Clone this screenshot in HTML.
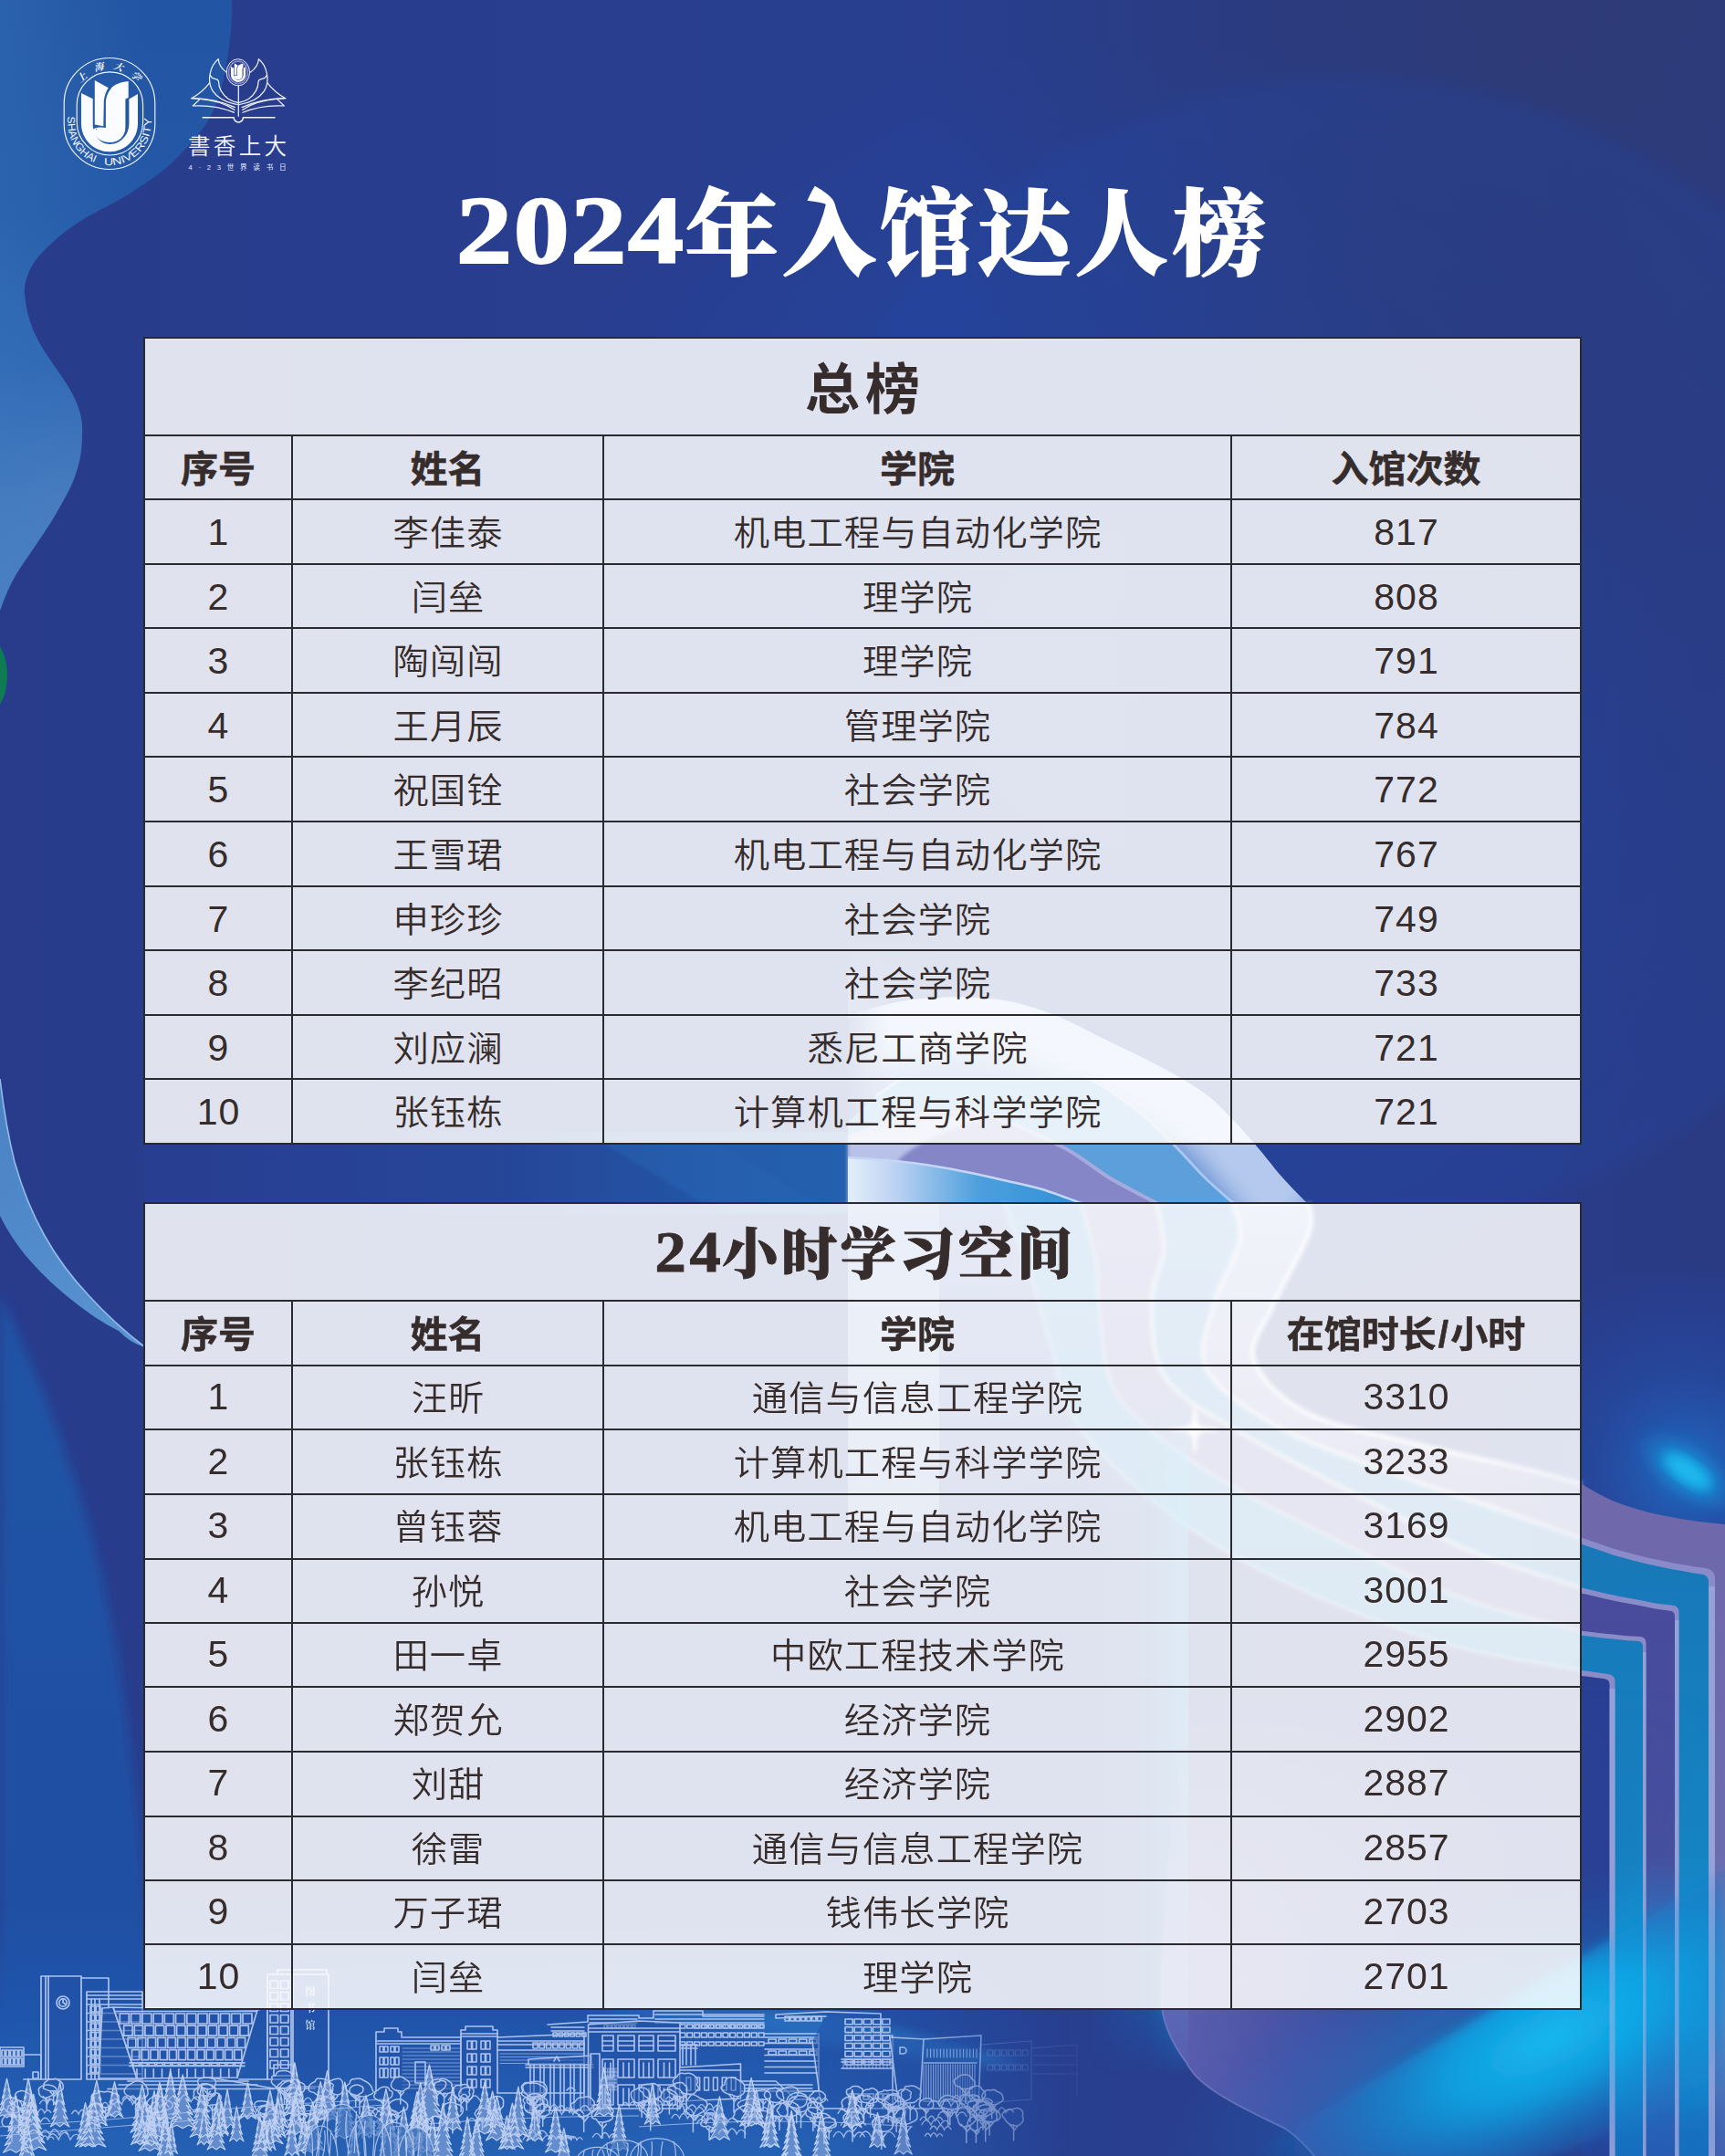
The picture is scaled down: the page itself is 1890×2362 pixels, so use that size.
<!DOCTYPE html>
<html lang="zh-CN">
<head>
<meta charset="utf-8">
<title>2024年入馆达人榜</title>
<style>
html,body{margin:0;padding:0;background:#283e8e;}
body{width:1890px;height:2362px;overflow:hidden;}
#poster{position:relative;width:1890px;height:2362px;overflow:hidden;background:#283e8e;
  font-family:"Liberation Sans","Noto Sans CJK SC",sans-serif;color:#352c2b;}
#poster>svg.bg{position:absolute;left:0;top:0;}
.title{position:absolute;left:0;top:178px;width:1890px;margin:0;text-align:center;color:#fff;
  font-family:"Liberation Serif","Noto Serif CJK SC",serif;font-weight:900;font-size:102px;line-height:160px;
  letter-spacing:4.8px;white-space:nowrap;-webkit-text-stroke:1.8px #fff;}
.title .dg{display:inline-block;font-size:1.03em;transform:scaleX(1.17);margin:0 20px 0 18px;letter-spacing:1px;position:relative;left:1.5px;top:-5px;}
.tbl{position:absolute;background:rgba(255,255,255,.855);}
.trow{position:absolute;left:0;width:100%;text-align:center;white-space:nowrap;}
.tt1{font-weight:700;font-size:60px;letter-spacing:6px;text-indent:6px;padding-top:4px;}
.tt2{font-family:"Liberation Serif","Noto Serif CJK SC",serif;font-weight:900;font-size:61px;letter-spacing:3.6px;padding-top:3px;-webkit-text-stroke:.9px #352c2b;}
.tt2 .dg{display:inline-block;font-size:1.05em;transform:scaleX(1.07);margin:0 5px 0 4px;position:relative;left:5px;top:-3px;}
.cell{position:absolute;text-align:center;white-space:nowrap;}
.td{font-size:38px;font-weight:350;letter-spacing:1px;text-indent:1px;transform:translateY(2px) scaleX(1.035);}
.td.num{font-size:41px;font-weight:400;letter-spacing:1px;text-indent:1px;transform:translateY(.8px);}
.tt2w .td{transform:translateY(.5px) scaleX(1.035);}
.tt2w .td.num{transform:translateY(-.7px);}
.th{font-size:40px;font-weight:700;-webkit-text-stroke:.5px #352c2b;transform:translateY(1.5px) scaleX(1.025);}
.hl{position:absolute;left:0;width:100%;height:2px;background:#2a2b30;}
.vl{position:absolute;width:2px;background:#2a2b30;}
.ob{position:absolute;left:-1px;top:-1px;right:-1px;bottom:-1px;border:2px solid #2a2b30;}
.sl{margin:0 2px;}

</style>
</head>
<body>
<div id="poster">
<svg class="bg" width="1890" height="2362" viewBox="0 0 1890 2362">
<defs>
  <linearGradient id="gBase" x1="0" y1="0" x2="1" y2="0">
    <stop offset="0" stop-color="#293c8c"/><stop offset=".55" stop-color="#283f90"/><stop offset="1" stop-color="#2a3c88"/>
  </linearGradient>
  <radialGradient id="gDome" cx="1230" cy="760" r="720" gradientUnits="userSpaceOnUse">
    <stop offset="0" stop-color="#2146a2" stop-opacity=".55"/><stop offset=".7" stop-color="#2245a0" stop-opacity=".4"/><stop offset="1" stop-color="#2344a0" stop-opacity="0"/>
  </radialGradient>
  <radialGradient id="gTR" cx="1890" cy="0" r="900" gradientUnits="userSpaceOnUse">
    <stop offset="0" stop-color="#2f3a70" stop-opacity=".95"/><stop offset=".55" stop-color="#2d3a76" stop-opacity=".6"/><stop offset="1" stop-color="#2c3a7c" stop-opacity="0"/>
  </radialGradient>
  <linearGradient id="gWave" x1="0" y1="0" x2="0" y2="670" gradientUnits="userSpaceOnUse">
    <stop offset="0" stop-color="#2255a3"/><stop offset=".35" stop-color="#2459a7"/><stop offset=".6" stop-color="#3067b2"/><stop offset=".82" stop-color="#4a7ebf"/><stop offset="1" stop-color="#4f84c4"/>
  </linearGradient>
  <linearGradient id="gWaveX" x1="0" y1="0" x2="260" y2="0" gradientUnits="userSpaceOnUse">
    <stop offset="0" stop-color="#3a78c0" stop-opacity=".35"/><stop offset=".6" stop-color="#3a78c0" stop-opacity="0"/><stop offset="1" stop-color="#3a78c0" stop-opacity="0"/>
  </linearGradient>
  <linearGradient id="gBlade" x1="0" y1="1200" x2="160" y2="1480" gradientUnits="userSpaceOnUse">
    <stop offset="0" stop-color="#4a82c4"/><stop offset="1" stop-color="#5a94d2"/>
  </linearGradient>
  <linearGradient id="gLL" x1="0" y1="1400" x2="0" y2="2362" gradientUnits="userSpaceOnUse">
    <stop offset="0" stop-color="#1d56a8" stop-opacity=".9"/><stop offset="1" stop-color="#1f4fa4" stop-opacity=".9"/>
  </linearGradient>
  <linearGradient id="gBeamV" x1="929" y1="0" x2="1060" y2="0" gradientUnits="userSpaceOnUse">
    <stop offset="0" stop-color="#dfeaf8" stop-opacity=".95"/><stop offset="1" stop-color="#c0d0ee" stop-opacity="0"/>
  </linearGradient>
  <linearGradient id="gStripeBlue" x1="0" y1="1700" x2="0" y2="2362" gradientUnits="userSpaceOnUse">
    <stop offset="0" stop-color="#1878b8"/><stop offset=".5" stop-color="#1583c2"/><stop offset=".78" stop-color="#12a6e2"/><stop offset="1" stop-color="#1572c0"/>
  </linearGradient>
  <linearGradient id="gStripePur" x1="0" y1="1700" x2="0" y2="2362" gradientUnits="userSpaceOnUse">
    <stop offset="0" stop-color="#4a4a9c"/><stop offset=".5" stop-color="#45509f"/><stop offset=".78" stop-color="#2b86cf"/><stop offset="1" stop-color="#2a5cb2"/>
  </linearGradient>
  <linearGradient id="gStripeOut" x1="0" y1="1620" x2="0" y2="2362" gradientUnits="userSpaceOnUse">
    <stop offset="0" stop-color="#7068ab"/><stop offset=".55" stop-color="#6a6cae"/><stop offset=".8" stop-color="#5a8cc8"/><stop offset="1" stop-color="#4a62ae"/>
  </linearGradient>
  <radialGradient id="gCyan" cx=".5" cy=".5" r=".5" gradientUnits="objectBoundingBox">
    <stop offset="0" stop-color="#19b6ee"/><stop offset=".35" stop-color="#0f9fe0" stop-opacity=".85"/><stop offset="1" stop-color="#1e6fc4" stop-opacity="0"/>
  </radialGradient>
  <radialGradient id="gGlowBig" cx="1850" cy="1610" r="230" gradientUnits="userSpaceOnUse">
    <stop offset="0" stop-color="#1c78d0" stop-opacity=".8"/><stop offset=".45" stop-color="#2058b8" stop-opacity=".4"/><stop offset="1" stop-color="#2246a4" stop-opacity="0"/>
  </radialGradient>
  <radialGradient id="gBR" cx="1660" cy="2235" r="420" gradientUnits="userSpaceOnUse" gradientTransform="translate(1660 2235) rotate(-22) scale(1 .38) translate(-1660 -2235)">
    <stop offset="0" stop-color="#12b0ea"/><stop offset=".4" stop-color="#0e9ade" stop-opacity=".85"/><stop offset="1" stop-color="#1b62bc" stop-opacity="0"/>
  </radialGradient>
  <linearGradient id="gLav" x1="1272" y1="2200" x2="1700" y2="2362" gradientUnits="userSpaceOnUse">
    <stop offset="0" stop-color="#6c68b8" stop-opacity=".95"/><stop offset=".45" stop-color="#4e56ac" stop-opacity=".7"/><stop offset="1" stop-color="#2e4aa0" stop-opacity="0"/>
  </linearGradient>
  <filter id="b2" x="-10%" y="-10%" width="120%" height="120%"><feGaussianBlur stdDeviation="2"/></filter>
  <filter id="b6" x="-20%" y="-20%" width="140%" height="140%"><feGaussianBlur stdDeviation="6"/></filter>
  <filter id="b14" x="-30%" y="-30%" width="160%" height="160%"><feGaussianBlur stdDeviation="14"/></filter>
  <filter id="b30" x="-40%" y="-40%" width="180%" height="180%"><feGaussianBlur stdDeviation="30"/></filter>
  <clipPath id="cAboveT2"><rect x="0" y="0" width="1890" height="1320"/></clipPath>
  <clipPath id="cRightOfTable"><rect x="1733" y="1400" width="157" height="962"/></clipPath>
</defs>

<!-- base -->
<rect width="1890" height="2362" fill="url(#gBase)"/>
<rect width="1890" height="2362" fill="url(#gDome)"/>
<rect width="1890" height="2362" fill="url(#gTR)"/>
<linearGradient id="gRightDark" x1="1650" y1="0" x2="1890" y2="0" gradientUnits="userSpaceOnUse"><stop offset="0" stop-color="#2b3a80" stop-opacity="0"/><stop offset="1" stop-color="#2b3a80" stop-opacity=".55"/></linearGradient>
<rect x="1650" y="0" width="240" height="1400" fill="url(#gRightDark)"/>
<!-- domeCircle : large soft-edged lighter disc -->
<radialGradient id="gDisc" cx="1481" cy="717" r="645" gradientUnits="userSpaceOnUse"><stop offset="0" stop-color="#2247a4" stop-opacity=".0"/><stop offset=".6" stop-color="#2247a4" stop-opacity=".12"/><stop offset=".96" stop-color="#2346a0" stop-opacity=".3"/><stop offset="1" stop-color="#2346a0" stop-opacity="0"/></radialGradient>
<circle cx="1481" cy="717" r="645" fill="url(#gDisc)"/>

<!-- upper-left wave -->
<path id="wave" d="M0 0H254C255 30 250 66 243 95C236 122 226 138 213 152C198 170 184 184 163 198C146 210 128 221 106 232C88 241 72 252 57 266C45 277 37 286 32 297C28 306 26 314 27 323C28 336 31 348 36 361C43 377 52 390 61 403C70 416 77 426 82 437C88 450 91 462 90 475C90 488 89 500 85 513C81 527 75 539 68 551C60 566 51 580 42 593C34 605 26 616 19 627C11 640 5 654 0 669Z" fill="url(#gWave)"/>
<path d="M0 0H254C255 30 250 66 243 95C236 122 226 138 213 152C198 170 184 184 163 198C146 210 128 221 106 232C88 241 72 252 57 266C45 277 37 286 32 297C28 306 26 314 27 323C28 336 31 348 36 361C43 377 52 390 61 403C70 416 77 426 82 437C88 450 91 462 90 475C90 488 89 500 85 513C81 527 75 539 68 551C60 566 51 580 42 593C34 605 26 616 19 627C11 640 5 654 0 669Z" fill="url(#gWaveX)"/>

<!-- green blob at left edge -->
<ellipse cx="-22" cy="740" rx="30" ry="47" fill="#0e7c52"/>

<!-- lower-left lighter zone -->
<path d="M0 1420C40 1500 80 1600 110 1720C135 1830 150 1960 160 2100C165 2200 168 2290 170 2362H0Z" fill="url(#gLL)" filter="url(#b6)"/>
<!-- blade -->
<path d="M0 1182C4 1215 9 1245 16 1273C25 1305 36 1331 49 1354C63 1379 79 1400 97 1419C116 1440 137 1459 159 1476C146 1472 137 1465 130 1458C112 1449 96 1438 81 1426C63 1412 47 1397 32 1380C20 1366 9 1350 0 1332Z" fill="url(#gBlade)"/>
<path d="M0 1182C4 1215 9 1245 16 1273C25 1305 36 1331 49 1354C63 1379 79 1400 97 1419C116 1440 137 1459 159 1476" fill="none" stroke="#9cc4ee" stroke-width="1.6" opacity=".9"/>

<!-- brighter blue band along the bottom -->
<linearGradient id="gBottom" x1="0" y1="2080" x2="0" y2="2362" gradientUnits="userSpaceOnUse"><stop offset="0" stop-color="#1f58ae" stop-opacity="0"/><stop offset=".45" stop-color="#1f58ae" stop-opacity=".85"/><stop offset="1" stop-color="#2563b6" stop-opacity=".95"/></linearGradient>
<linearGradient id="gBottomX" x1="0" y1="0" x2="1890" y2="0" gradientUnits="userSpaceOnUse"><stop offset="0" stop-color="#fff"/><stop offset=".48" stop-color="#fff"/><stop offset=".62" stop-color="#fff" stop-opacity="0"/></linearGradient>
<mask id="mBottom"><rect x="0" y="2050" width="1890" height="312" fill="url(#gBottomX)"/></mask>
<rect x="0" y="2080" width="1890" height="282" fill="url(#gBottom)" mask="url(#mBottom)"/>
<path d="M640 2201L900 2201L1130 2262L1060 2262Z" fill="#2f86d2" opacity=".45" filter="url(#b6)"/>
<!-- ===== spiral / ribbon (generated) ===== -->
<defs>
<linearGradient id="sgAB" x1="0" y1="1318" x2="0" y2="1700" gradientUnits="userSpaceOnUse"><stop offset="0" stop-color="#b7caee"/><stop offset=".5" stop-color="#9a9cd2"/><stop offset="1" stop-color="#7068ab"/></linearGradient>
<linearGradient id="sgBC" x1="0" y1="1318" x2="0" y2="1760" gradientUnits="userSpaceOnUse"><stop offset="0" stop-color="#5c9fdb"/><stop offset="1" stop-color="#1878b8"/></linearGradient>
<linearGradient id="sgCD" x1="0" y1="1318" x2="0" y2="1800" gradientUnits="userSpaceOnUse"><stop offset="0" stop-color="#8486c8"/><stop offset="1" stop-color="#4a4a9c"/></linearGradient>
<linearGradient id="sgDE" x1="0" y1="1318" x2="0" y2="1840" gradientUnits="userSpaceOnUse"><stop offset="0" stop-color="#3d97da"/><stop offset="1" stop-color="#1878b8"/></linearGradient>
<linearGradient id="sgInner" x1="929" y1="0" x2="1190" y2="0" gradientUnits="userSpaceOnUse"><stop offset="0" stop-color="#e4eefb"/><stop offset=".2" stop-color="#bcd2f2"/><stop offset=".55" stop-color="#4d9fdd"/><stop offset="1" stop-color="#2e90d6"/></linearGradient>
<linearGradient id="sgZoneFade" x1="0" y1="1318" x2="0" y2="1680" gradientUnits="userSpaceOnUse"><stop offset="0" stop-color="#4a70c0" stop-opacity=".95"/><stop offset=".6" stop-color="#4567ba" stop-opacity=".7"/><stop offset="1" stop-color="#4567ba" stop-opacity="0"/></linearGradient>
<linearGradient id="sgBeamTop" x1="0" y1="1030" x2="0" y2="1115" gradientUnits="userSpaceOnUse"><stop offset="0" stop-color="#7fa2dc" stop-opacity="0"/><stop offset="1" stop-color="#7fa2dc" stop-opacity=".8"/></linearGradient>
<linearGradient id="sgBeamX" x1="929" y1="0" x2="1030" y2="0" gradientUnits="userSpaceOnUse"><stop offset="0" stop-color="#fff" stop-opacity="1"/><stop offset="1" stop-color="#fff" stop-opacity="0"/></linearGradient>
<linearGradient id="sgCol" x1="1190" y1="0" x2="1302" y2="0" gradientUnits="userSpaceOnUse"><stop offset="0" stop-color="#0a86cc" stop-opacity="0"/><stop offset=".62" stop-color="#0a86cc" stop-opacity=".4"/><stop offset=".86" stop-color="#0f92d6" stop-opacity=".85"/><stop offset="1" stop-color="#14a0e0" stop-opacity=".95"/></linearGradient>
<linearGradient id="sgColY" x1="0" y1="1520" x2="0" y2="2275" gradientUnits="userSpaceOnUse"><stop offset="0" stop-color="#fff" stop-opacity="0"/><stop offset=".12" stop-color="#fff"/><stop offset=".9" stop-color="#fff"/><stop offset="1" stop-color="#fff" stop-opacity="0"/></linearGradient>
<mask id="mCol"><rect x="1150" y="1480" width="200" height="830" fill="url(#sgColY)"/></mask>
<mask id="mBeamX"><rect x="900" y="1000" width="200" height="400" fill="url(#sgBeamX)"/></mask>
<clipPath id="cZone1"><path d="M929.0 1112.0C940.8 1109.2 974.0 1098.0 1000.0 1095.0C1026.0 1092.0 1060.0 1091.5 1085.0 1094.0C1110.0 1096.5 1128.3 1102.2 1150.0 1110.0C1171.7 1117.8 1195.0 1131.3 1215.0 1141.0C1235.0 1150.7 1252.5 1158.5 1270.0 1168.0C1287.5 1177.5 1306.7 1188.3 1320.0 1198.0C1333.3 1207.7 1340.5 1216.3 1350.0 1226.0C1359.5 1235.7 1367.8 1245.3 1377.0 1256.0C1386.2 1266.7 1395.5 1279.3 1405.0 1290.0C1414.5 1300.7 1429.2 1315.0 1434.0 1320.0L1434 1322L929 1322Z"/></clipPath>
<clipPath id="cGapUp"><rect x="900" y="1180" width="700" height="141"/></clipPath>
</defs>
<defs><linearGradient id="sgGapL" x1="158" y1="0" x2="929" y2="0" gradientUnits="userSpaceOnUse"><stop offset="0" stop-color="#2348a0" stop-opacity=".15"/><stop offset=".5" stop-color="#2350a4" stop-opacity=".45"/><stop offset=".8" stop-color="#225aaa" stop-opacity=".85"/><stop offset="1" stop-color="#2462b0" stop-opacity=".9"/></linearGradient></defs>
<rect x="158" y="1240" width="771" height="90" fill="url(#sgGapL)"/>
<path d="M640 1240L772 1240L913 1330L790 1330Z" fill="#2a6cb8" opacity=".4" filter="url(#b2)"/>
<path d="M772 1240L929 1240L929 1330L913 1330Z" fill="#2462b0" opacity=".5"/>
<rect x="929" y="1030" width="90" height="85" fill="url(#sgBeamTop)" mask="url(#mBeamX)" opacity=".6"/>
<defs><linearGradient id="sgZ1L" x1="922" y1="0" x2="975" y2="0" gradientUnits="userSpaceOnUse"><stop offset="0" stop-color="#fff" stop-opacity="0"/><stop offset="1" stop-color="#fff"/></linearGradient><mask id="mZ1"><rect x="900" y="1000" width="700" height="253" fill="url(#sgZ1L)"/><rect x="900" y="1253" width="700" height="80" fill="#fff"/></mask></defs>
<g mask="url(#mZ1)">
<path d="M929.0 1112.0C940.8 1109.2 974.0 1098.0 1000.0 1095.0C1026.0 1092.0 1060.0 1091.5 1085.0 1094.0C1110.0 1096.5 1128.3 1102.2 1150.0 1110.0C1171.7 1117.8 1195.0 1131.3 1215.0 1141.0C1235.0 1150.7 1252.5 1158.5 1270.0 1168.0C1287.5 1177.5 1306.7 1188.3 1320.0 1198.0C1333.3 1207.7 1340.5 1216.3 1350.0 1226.0C1359.5 1235.7 1367.8 1245.3 1377.0 1256.0C1386.2 1266.7 1395.5 1279.3 1405.0 1290.0C1414.5 1300.7 1429.2 1315.0 1434.0 1320.0L1434 1322L929 1322Z" fill="#5f88cf"/>
<g clip-path="url(#cZone1)"><path d="M929.0 1112.0C940.8 1109.2 974.0 1098.0 1000.0 1095.0C1026.0 1092.0 1060.0 1091.5 1085.0 1094.0C1110.0 1096.5 1128.3 1102.2 1150.0 1110.0C1171.7 1117.8 1195.0 1131.3 1215.0 1141.0C1235.0 1150.7 1252.5 1158.5 1270.0 1168.0C1287.5 1177.5 1306.7 1188.3 1320.0 1198.0C1333.3 1207.7 1340.5 1216.3 1350.0 1226.0C1359.5 1235.7 1367.8 1245.3 1377.0 1256.0C1386.2 1266.7 1395.5 1279.3 1405.0 1290.0C1414.5 1300.7 1429.2 1315.0 1434.0 1320.0" fill="none" stroke="#bfd1f1" stroke-width="120" opacity=".9" filter="url(#b14)"/>
<rect x="929" y="1253" width="110" height="80" fill="#dbe7f8" mask="url(#mBeamX)"/></g>
</g>
<g clip-path="url(#cGapUp)">
<path d="M960.0 1200.0C971.7 1193.3 1005.0 1168.0 1030.0 1160.0C1055.0 1152.0 1083.3 1148.7 1110.0 1152.0C1136.7 1155.3 1166.7 1168.7 1190.0 1180.0C1213.3 1191.3 1233.7 1207.3 1250.0 1220.0C1266.3 1232.7 1276.3 1244.3 1288.0 1256.0C1299.7 1267.7 1309.5 1279.7 1320.0 1290.0C1330.5 1300.3 1345.8 1313.3 1351.0 1318.0L1351 1322L929 1322L929 1230Z" fill="#5c9fdb"/>
<path d="M960.0 1200.0C971.7 1193.3 1005.0 1168.0 1030.0 1160.0C1055.0 1152.0 1083.3 1148.7 1110.0 1152.0C1136.7 1155.3 1166.7 1168.7 1190.0 1180.0C1213.3 1191.3 1233.7 1207.3 1250.0 1220.0C1266.3 1232.7 1276.3 1244.3 1288.0 1256.0C1299.7 1267.7 1309.5 1279.7 1320.0 1290.0C1330.5 1300.3 1345.8 1313.3 1351.0 1318.0" fill="none" stroke="#a9c8f0" stroke-width="3"/>
<path d="M929.0 1246.0C940.8 1242.0 974.8 1226.0 1000.0 1222.0C1025.2 1218.0 1052.8 1216.3 1080.0 1222.0C1107.2 1227.7 1140.5 1244.7 1163.0 1256.0C1185.5 1267.3 1197.7 1279.7 1215.0 1290.0C1232.3 1300.3 1258.3 1313.3 1267.0 1318.0L1267 1322L929 1322Z" fill="#8486c8"/>
<path d="M929.0 1246.0C940.8 1242.0 974.8 1226.0 1000.0 1222.0C1025.2 1218.0 1052.8 1216.3 1080.0 1222.0C1107.2 1227.7 1140.5 1244.7 1163.0 1256.0C1185.5 1267.3 1197.7 1279.7 1215.0 1290.0C1232.3 1300.3 1258.3 1313.3 1267.0 1318.0" fill="none" stroke="#a6abde" stroke-width="4"/>
<path d="M929 1246C975 1228 1030 1222 1080 1224C1040 1236 1005 1252 985 1270L985 1322L929 1322Z" fill="#c2ccee" opacity=".85" filter="url(#b2)"/>
<path d="M929.0 1268.0C940.8 1269.0 978.3 1271.3 1000.0 1274.0C1021.7 1276.7 1042.3 1280.8 1059.0 1284.0C1075.7 1287.2 1086.2 1289.8 1100.0 1293.0C1113.8 1296.2 1128.0 1298.8 1142.0 1303.0C1156.0 1307.2 1177.0 1315.5 1184.0 1318.0L1184 1322L929 1322Z" fill="url(#sgInner)"/>
<path d="M929.0 1268.0C940.8 1269.0 978.3 1271.3 1000.0 1274.0C1021.7 1276.7 1042.3 1280.8 1059.0 1284.0C1075.7 1287.2 1086.2 1289.8 1100.0 1293.0C1113.8 1296.2 1128.0 1298.8 1142.0 1303.0C1156.0 1307.2 1177.0 1315.5 1184.0 1318.0" fill="none" stroke="#c6d6f4" stroke-width="2.5"/>
</g>
<path d="M929.0 1318.0L1100.0 1318.0C1105.0 1331.7 1121.7 1374.7 1130.0 1400.0C1138.3 1425.3 1141.7 1443.3 1150.0 1470.0C1158.3 1496.7 1160.0 1530.0 1180.0 1560.0C1200.0 1590.0 1255.0 1635.0 1270.0 1650.0L929 1700Z" fill="url(#sgZoneFade)"/>
<rect x="929" y="1318" width="100" height="360" fill="#9bb6e6" opacity=".55" mask="url(#mBeamX2)"/>
<g opacity=".8">
<path d="M1434.0 1318.0C1434.0 1323.7 1440.7 1333.0 1434.0 1352.0C1427.3 1371.0 1404.0 1409.0 1394.0 1432.0C1384.0 1455.0 1367.7 1470.7 1374.0 1490.0C1380.3 1509.3 1402.3 1532.7 1432.0 1548.0C1461.7 1563.3 1511.7 1571.7 1552.0 1582.0C1592.3 1592.3 1643.8 1602.7 1674.0 1610.0C1704.2 1617.3 1723.2 1623.3 1733.0 1626.0L1733.0 1685.0C1718.3 1680.0 1680.5 1667.2 1645.0 1655.0C1609.5 1642.8 1561.2 1627.5 1520.0 1612.0C1478.8 1596.5 1431.0 1580.7 1398.0 1562.0C1365.0 1543.3 1333.3 1522.3 1322.0 1500.0C1310.7 1477.7 1324.0 1451.3 1330.0 1428.0C1336.0 1404.7 1354.5 1378.3 1358.0 1360.0C1361.5 1341.7 1352.2 1325.0 1351.0 1318.0Z" fill="url(#sgAB)"/>
<path d="M1351.0 1318.0C1352.2 1325.0 1361.5 1341.7 1358.0 1360.0C1354.5 1378.3 1336.0 1404.7 1330.0 1428.0C1324.0 1451.3 1310.7 1477.7 1322.0 1500.0C1333.3 1522.3 1365.0 1543.3 1398.0 1562.0C1431.0 1580.7 1478.8 1596.5 1520.0 1612.0C1561.2 1627.5 1609.5 1642.8 1645.0 1655.0C1680.5 1667.2 1718.3 1680.0 1733.0 1685.0L1733.0 1739.5C1713.0 1732.9 1653.3 1716.6 1613.0 1700.0C1572.7 1683.4 1531.7 1660.8 1491.0 1640.0C1450.3 1619.2 1404.5 1596.5 1369.0 1575.0C1333.5 1553.5 1295.8 1536.0 1278.0 1511.0C1260.2 1486.0 1262.5 1448.5 1262.0 1425.0C1261.5 1401.5 1274.2 1387.8 1275.0 1370.0C1275.8 1352.2 1268.3 1326.7 1267.0 1318.0Z" fill="url(#sgBC)"/>
<path d="M1267.0 1318.0C1268.3 1326.7 1275.8 1352.2 1275.0 1370.0C1274.2 1387.8 1261.5 1401.5 1262.0 1425.0C1262.5 1448.5 1260.2 1486.0 1278.0 1511.0C1295.8 1536.0 1333.5 1553.5 1369.0 1575.0C1404.5 1596.5 1450.3 1619.2 1491.0 1640.0C1531.7 1660.8 1572.7 1683.4 1613.0 1700.0C1653.3 1716.6 1713.0 1732.9 1733.0 1739.5L1733.0 1787.0C1710.8 1780.8 1647.2 1767.8 1600.0 1750.0C1552.8 1732.2 1496.7 1703.3 1450.0 1680.0C1403.3 1656.7 1357.5 1635.0 1320.0 1610.0C1282.5 1585.0 1244.2 1558.3 1225.0 1530.0C1205.8 1501.7 1209.2 1465.0 1205.0 1440.0C1200.8 1415.0 1203.5 1400.3 1200.0 1380.0C1196.5 1359.7 1186.7 1328.3 1184.0 1318.0Z" fill="url(#sgCD)"/>
<path d="M1184.0 1318.0C1186.7 1328.3 1196.5 1359.7 1200.0 1380.0C1203.5 1400.3 1200.8 1415.0 1205.0 1440.0C1209.2 1465.0 1205.8 1501.7 1225.0 1530.0C1244.2 1558.3 1282.5 1585.0 1320.0 1610.0C1357.5 1635.0 1403.3 1656.7 1450.0 1680.0C1496.7 1703.3 1552.8 1732.2 1600.0 1750.0C1647.2 1767.8 1710.8 1780.8 1733.0 1787.0L1733.0 1830.0C1707.5 1825.0 1635.5 1816.7 1580.0 1800.0C1524.5 1783.3 1451.7 1755.0 1400.0 1730.0C1348.3 1705.0 1306.7 1678.3 1270.0 1650.0C1233.3 1621.7 1200.0 1590.0 1180.0 1560.0C1160.0 1530.0 1158.3 1496.7 1150.0 1470.0C1141.7 1443.3 1138.3 1425.3 1130.0 1400.0C1121.7 1374.7 1105.0 1331.7 1100.0 1318.0Z" fill="url(#sgDE)"/>
</g>
<g fill="none" stroke="#fff" filter="url(#b2)">
<path d="M1434.0 1318.0C1434.0 1323.7 1440.7 1333.0 1434.0 1352.0C1427.3 1371.0 1404.0 1409.0 1394.0 1432.0C1384.0 1455.0 1367.7 1470.7 1374.0 1490.0C1380.3 1509.3 1402.3 1532.7 1432.0 1548.0C1461.7 1563.3 1511.7 1571.7 1552.0 1582.0C1592.3 1592.3 1643.8 1602.7 1674.0 1610.0C1704.2 1617.3 1723.2 1623.3 1733.0 1626.0" stroke-width="5" opacity="0.8"/>
<path d="M1351.0 1318.0C1352.2 1325.0 1361.5 1341.7 1358.0 1360.0C1354.5 1378.3 1336.0 1404.7 1330.0 1428.0C1324.0 1451.3 1310.7 1477.7 1322.0 1500.0C1333.3 1522.3 1365.0 1543.3 1398.0 1562.0C1431.0 1580.7 1478.8 1596.5 1520.0 1612.0C1561.2 1627.5 1609.5 1642.8 1645.0 1655.0C1680.5 1667.2 1718.3 1680.0 1733.0 1685.0" stroke-width="4" opacity="0.7"/>
<path d="M1267.0 1318.0C1268.3 1326.7 1275.8 1352.2 1275.0 1370.0C1274.2 1387.8 1261.5 1401.5 1262.0 1425.0C1262.5 1448.5 1260.2 1486.0 1278.0 1511.0C1295.8 1536.0 1333.5 1553.5 1369.0 1575.0C1404.5 1596.5 1450.3 1619.2 1491.0 1640.0C1531.7 1660.8 1572.7 1683.4 1613.0 1700.0C1653.3 1716.6 1713.0 1732.9 1733.0 1739.5" stroke-width="4" opacity="0.65"/>
<path d="M1184.0 1318.0C1186.7 1328.3 1196.5 1359.7 1200.0 1380.0C1203.5 1400.3 1200.8 1415.0 1205.0 1440.0C1209.2 1465.0 1205.8 1501.7 1225.0 1530.0C1244.2 1558.3 1282.5 1585.0 1320.0 1610.0C1357.5 1635.0 1403.3 1656.7 1450.0 1680.0C1496.7 1703.3 1552.8 1732.2 1600.0 1750.0C1647.2 1767.8 1710.8 1780.8 1733.0 1787.0" stroke-width="3" opacity="0.5"/>
<path d="M1100.0 1318.0C1105.0 1331.7 1121.7 1374.7 1130.0 1400.0C1138.3 1425.3 1141.7 1443.3 1150.0 1470.0C1158.3 1496.7 1160.0 1530.0 1180.0 1560.0C1200.0 1590.0 1233.3 1621.7 1270.0 1650.0C1306.7 1678.3 1348.3 1705.0 1400.0 1730.0C1451.7 1755.0 1524.5 1783.3 1580.0 1800.0C1635.5 1816.7 1707.5 1825.0 1733.0 1830.0" stroke-width="3" opacity="0.4"/>
</g>
<rect x="1190" y="1500" width="112" height="800" fill="url(#sgCol)" mask="url(#mCol)" opacity=".6"/>
<g transform="translate(1309 1566)" fill="#fff" opacity=".85" filter="url(#b2)"><ellipse rx="26" ry="3"/><ellipse rx="3" ry="26"/><circle r="8"/></g>

<!-- ===== right-hand nested bands & vertical stripes ===== -->
<rect x="1640" y="1380" width="250" height="420" fill="url(#gGlowBig)"/>
<g clip-path="url(#cRightOfTable)">
  <!-- band 1 : outer purple -->
  <path d="M1700 1609C1712 1616 1722 1621 1733 1626C1745 1633 1755 1639 1766.5 1644C1779 1649 1791 1653 1805 1656.6C1818 1660 1830 1662 1843 1664.3C1858 1667 1874 1668.5 1890 1670L1890 2362L1700 2362Z" fill="url(#gStripeOut)"/>
  <!-- light line + band 2 : blue -->
  <path d="M1700 1674C1712 1678 1722 1681 1733 1684.7C1745 1689 1755 1692 1766.5 1696.2C1779 1700 1791 1703 1805 1706.4C1818 1709 1830 1712 1843 1714C1853 1716 1862 1717 1868.6 1718C1874 1719 1879 1722 1879 1728L1879 2362L1700 2362Z" fill="#8a8cc9"/>
  <path d="M1700 1681C1712 1685 1722 1688 1733 1691.7C1745 1696 1755 1699 1766.5 1703.2C1779 1707 1791 1710 1805 1713.4C1818 1716 1830 1719 1843 1721C1853 1723 1860 1724 1866 1725C1870 1726 1872 1729 1872 1733L1872 2362L1700 2362Z" fill="url(#gStripeBlue)"/>
  <!-- light line + band 3 : dark purple -->
  <path d="M1700 1731C1712 1734 1722 1737 1733 1739.5C1745 1742 1755 1745 1766.5 1747.2C1779 1750 1791 1752 1805 1754.8C1815 1757 1825 1758 1833 1758.7C1837 1759 1839.5 1762 1839.5 1766L1839.5 2362L1700 2362Z" fill="#8a8cc9"/>
  <path d="M1700 1737C1712 1740 1722 1743 1733 1745.5C1745 1748 1755 1751 1766.5 1753.2C1779 1756 1791 1758 1805 1760.8C1815 1763 1823 1764 1830 1764.7C1833.5 1765 1835 1768 1835 1771L1835 2362L1700 2362Z" fill="url(#gStripePur)"/>
  <!-- light line + band 4 : blue -->
  <path d="M1700 1782C1712 1784 1722 1785.5 1733 1786.7C1745 1788 1755 1789.5 1766.5 1790.6C1779 1792 1789 1792.6 1797 1793.1C1801 1793.5 1803.5 1796 1803.5 1800L1803.5 2362L1700 2362Z" fill="#8a8cc9"/>
  <path d="M1700 1787C1712 1789 1722 1790.5 1733 1791.7C1745 1793 1755 1794.5 1766.5 1795.6C1779 1797 1787 1797.6 1795 1798.1C1798.5 1798.5 1800 1801 1800 1804L1800 2362L1700 2362Z" fill="url(#gStripeBlue)"/>
  <!-- light line + interior (background colour) -->
  <path d="M1700 1826C1712 1828 1722 1829 1733 1830C1745 1831.5 1755 1833 1761.4 1834C1766 1834.5 1769.5 1837 1769.5 1842L1769.5 2362L1700 2362Z" fill="#8a8cc9"/>
  <path d="M1700 1832C1712 1834 1722 1835 1733 1836C1745 1837.5 1753 1838.6 1759 1839.4C1762 1840 1763.5 1842 1763.5 1846L1763.5 2362L1700 2362Z" fill="#283f92"/>
</g>
<!-- cyan hot-spot near right edge -->
<g transform="translate(1849 1612) rotate(35)">
  <ellipse cx="0" cy="0" rx="70" ry="34" fill="url(#gCyan)" opacity=".9" filter="url(#b6)"/>
  <ellipse cx="0" cy="0" rx="30" ry="11" fill="#23bff2" opacity=".75" filter="url(#b6)"/>
</g>

<!-- ===== bottom area ===== -->
<!-- lavender translucent curved shape -->
<linearGradient id="gLavY" x1="0" y1="1850" x2="0" y2="2362" gradientUnits="userSpaceOnUse">
  <stop offset="0" stop-color="#fff" stop-opacity="0"/><stop offset=".55" stop-color="#fff" stop-opacity=".8"/><stop offset="1" stop-color="#fff"/>
</linearGradient>
<mask id="mLav"><rect x="1200" y="1850" width="690" height="512" fill="url(#gLavY)"/></mask>
<g mask="url(#mLav)">
<path d="M1302 1850C1290 1950 1270 2080 1272 2190C1273 2215 1285 2240 1300 2260C1308 2275 1320 2284 1332 2292C1356 2308 1384 2320 1408 2332C1420 2340 1432 2352 1440 2362L1890 2362L1890 1850Z" fill="url(#gLav)"/>
<path d="M1272 2190C1273 2215 1285 2240 1300 2260C1308 2275 1320 2284 1332 2292C1356 2308 1384 2320 1408 2332C1420 2340 1432 2352 1440 2362" fill="none" stroke="#8a8cd0" stroke-width="2" opacity=".6"/>
</g>
<!-- big cyan beam bottom-right : cone of light from lower-left to upper-right -->
<radialGradient id="gCone" cx="1700" cy="2232" r="360" gradientUnits="userSpaceOnUse" gradientTransform="translate(1700 2232) rotate(-27) scale(1 .42) translate(-1700 -2232)">
  <stop offset="0" stop-color="#16b8f0"/><stop offset=".35" stop-color="#10a2e2" stop-opacity=".9"/><stop offset=".7" stop-color="#157cc8" stop-opacity=".45"/><stop offset="1" stop-color="#1c64bc" stop-opacity="0"/>
</radialGradient>
<rect x="1150" y="2050" width="740" height="312" fill="url(#gBR)" opacity=".35"/>
<path d="M1300 2400L1890 2050L1890 2290L1600 2400Z" fill="url(#gCone)" filter="url(#b6)"/>
<path d="M1890 2290L1890 2362L1700 2362Z" fill="#1a5cb4" opacity=".35" filter="url(#b14)"/>
<!-- re-draw thin stripe highlights over glow -->
<g fill="#9fb4e6" opacity=".55">
  <rect x="1763.5" y="1850" width="6" height="512"/><rect x="1800" y="1810" width="3.5" height="552"/>
  <rect x="1835" y="1775" width="4.5" height="587"/><rect x="1872" y="1738" width="7" height="624"/>
</g>
</svg>

<svg class="bg" width="1890" height="2362" viewBox="0 0 1890 2362">
<defs><linearGradient id="cFade" x1="0" y1="0" x2="1890" y2="0" gradientUnits="userSpaceOnUse"><stop offset="0" stop-color="#fff"/><stop offset=".5" stop-color="#fff"/><stop offset=".58" stop-color="#fff" stop-opacity=".55"/><stop offset=".66" stop-color="#fff" stop-opacity="0"/></linearGradient>
<mask id="cMask"><rect x="0" y="2100" width="1890" height="262" fill="url(#cFade)"/></mask></defs>
<g mask="url(#cMask)"><g fill="none" stroke="#b6c9ef" stroke-width="1.7" stroke-linejoin="round" stroke-linecap="round" opacity=".95">
<rect x="0.0" y="2243.0" width="26.0" height="21.0"/>
<path d="M2.0 2246.0h3.2v7.0h-3.2zM6.7 2246.0h3.2v7.0h-3.2zM11.4 2246.0h3.2v7.0h-3.2zM16.1 2246.0h3.2v7.0h-3.2zM20.8 2246.0h3.2v7.0h-3.2zM2.0 2255.0h3.2v7.0h-3.2zM6.7 2255.0h3.2v7.0h-3.2zM11.4 2255.0h3.2v7.0h-3.2zM16.1 2255.0h3.2v7.0h-3.2zM20.8 2255.0h3.2v7.0h-3.2z"/>
<path d="M26.0 2251.0L45.0 2251.0L45.0 2278.0L26.0 2278.0"/>
<path d="M45.0 2165.0L89.0 2165.0L89.0 2278.0L45.0 2278.0Z" fill="#2352a6" fill-opacity=".55"/>
<path d="M50.0 2165.0V2278.0M53.0 2165.0V2278.0"/>
<path d="M89.0 2167.0L119.0 2167.0L119.0 2200.0"/>
<circle cx="69" cy="2194" r="7"/><circle cx="69" cy="2194" r="4.2"/><path d="M69 2194V2190.5M69 2194L71.5 2195.5"/>
<rect x="36.0" y="2270.0" width="6.0" height="7.0"/>
<rect x="95.0" y="2182.0" width="61.0" height="96.0"/>
<path d="M95.0 2186.0H156.0M95.0 2190.0H156.0M95.0 2196.0H156.0M95.0 2205.5H156.0M95.0 2215.0H156.0M95.0 2224.5H156.0M95.0 2234.0H156.0M95.0 2243.5H156.0M95.0 2253.0H156.0M95.0 2262.5H156.0M95.0 2272.0H156.0"/>
<path d="M100.0 2190.0V2278.0M104.0 2190.0V2278.0M109.0 2190.0V2278.0"/>
<path d="M99.0 2198.0h4.8v6.0h-4.8zM105.2 2198.0h4.8v6.0h-4.8z"/>
<path d="M99.0 2207.5h4.8v6.0h-4.8zM105.2 2207.5h4.8v6.0h-4.8z"/>
<path d="M99.0 2217.0h4.8v6.0h-4.8zM105.2 2217.0h4.8v6.0h-4.8z"/>
<path d="M99.0 2226.5h4.8v6.0h-4.8zM105.2 2226.5h4.8v6.0h-4.8z"/>
<path d="M99.0 2236.0h4.8v6.0h-4.8zM105.2 2236.0h4.8v6.0h-4.8z"/>
<path d="M99.0 2245.5h4.8v6.0h-4.8zM105.2 2245.5h4.8v6.0h-4.8z"/>
<path d="M99.0 2255.0h4.8v6.0h-4.8zM105.2 2255.0h4.8v6.0h-4.8z"/>
<path d="M99.0 2264.5h4.8v6.0h-4.8zM105.2 2264.5h4.8v6.0h-4.8z"/>
<path d="M112.0 2200.0L124.0 2199.0L150.0 2277.0L108.0 2277.0Z" fill="#2352a6" fill-opacity=".55"/>
<path d="M124.0 2199.0L282.0 2202.0L260.0 2276.0L150.0 2277.0Z" fill="#2352a6" fill-opacity=".55"/>
<path d="M126.0 2203.5H281.0"/>
<path d="M131.3 2206.0h10.0v11.0h-10.0zM143.6 2206.0h10.0v11.0h-10.0zM155.8 2206.0h10.0v11.0h-10.0zM168.1 2206.0h10.0v11.0h-10.0zM180.3 2206.0h10.0v11.0h-10.0zM192.5 2206.0h10.0v11.0h-10.0zM204.8 2206.0h10.0v11.0h-10.0zM217.0 2206.0h10.0v11.0h-10.0zM229.3 2206.0h10.0v11.0h-10.0zM241.5 2206.0h10.0v11.0h-10.0zM253.7 2206.0h10.0v11.0h-10.0zM266.0 2206.0h10.0v11.0h-10.0z"/>
<path d="M135.7 2219.2h9.4v11.0h-9.4zM147.3 2219.2h9.4v11.0h-9.4zM158.9 2219.2h9.4v11.0h-9.4zM170.4 2219.2h9.4v11.0h-9.4zM182.0 2219.2h9.4v11.0h-9.4zM193.6 2219.2h9.4v11.0h-9.4zM205.1 2219.2h9.4v11.0h-9.4zM216.7 2219.2h9.4v11.0h-9.4zM228.2 2219.2h9.4v11.0h-9.4zM239.8 2219.2h9.4v11.0h-9.4zM251.4 2219.2h9.4v11.0h-9.4zM262.9 2219.2h9.4v11.0h-9.4z"/>
<path d="M140.1 2232.4h8.7v11.0h-8.7zM151.0 2232.4h8.7v11.0h-8.7zM161.9 2232.4h8.7v11.0h-8.7zM172.8 2232.4h8.7v11.0h-8.7zM183.7 2232.4h8.7v11.0h-8.7zM194.6 2232.4h8.7v11.0h-8.7zM205.5 2232.4h8.7v11.0h-8.7zM216.3 2232.4h8.7v11.0h-8.7zM227.2 2232.4h8.7v11.0h-8.7zM238.1 2232.4h8.7v11.0h-8.7zM249.0 2232.4h8.7v11.0h-8.7zM259.9 2232.4h8.7v11.0h-8.7z"/>
<path d="M144.5 2245.6h8.0v11.0h-8.0zM154.7 2245.6h8.0v11.0h-8.0zM165.0 2245.6h8.0v11.0h-8.0zM175.2 2245.6h8.0v11.0h-8.0zM185.4 2245.6h8.0v11.0h-8.0zM195.6 2245.6h8.0v11.0h-8.0zM205.8 2245.6h8.0v11.0h-8.0zM216.0 2245.6h8.0v11.0h-8.0zM226.2 2245.6h8.0v11.0h-8.0zM236.4 2245.6h8.0v11.0h-8.0zM246.6 2245.6h8.0v11.0h-8.0zM256.8 2245.6h8.0v11.0h-8.0z"/>
<path d="M142.0 2259.8H268.0M142.0 2263.3H268.0"/>
<path d="M146.0 2260.0h6.6v3.0h-6.6zM154.6 2260.0h6.6v3.0h-6.6zM163.1 2260.0h6.6v3.0h-6.6zM171.7 2260.0h6.6v3.0h-6.6zM180.3 2260.0h6.6v3.0h-6.6zM188.9 2260.0h6.6v3.0h-6.6zM197.4 2260.0h6.6v3.0h-6.6zM206.0 2260.0h6.6v3.0h-6.6zM214.6 2260.0h6.6v3.0h-6.6zM223.1 2260.0h6.6v3.0h-6.6zM231.7 2260.0h6.6v3.0h-6.6zM240.3 2260.0h6.6v3.0h-6.6zM248.9 2260.0h6.6v3.0h-6.6zM257.4 2260.0h6.6v3.0h-6.6z"/>
<path d="M150.0 2266.8V2276.0M159.2 2266.8V2276.0M168.3 2266.8V2276.0M177.5 2266.8V2276.0M186.7 2266.8V2276.0M195.8 2266.8V2276.0M205.0 2266.8V2276.0M214.2 2266.8V2276.0M223.3 2266.8V2276.0M232.5 2266.8V2276.0M241.7 2266.8V2276.0M250.8 2266.8V2276.0M260.0 2266.8V2276.0"/>
<path d="M140.0 2280.0H272.0"/>
<path d="M130.0 2284.0H282.0"/>
<path d="M118.0 2288.5H300.0"/>
<path d="M230.0 2276.0L300.0 2288.0L345.0 2288.0"/>
<path d="M282.0 2202.0L293.0 2200.0L293.0 2278.0L262.0 2278.0"/>
<rect x="293.0" y="2163.0" width="26.0" height="115.0" fill="#2352a6" fill-opacity=".55"/>
<path d="M296.0 2170.0h8.5v8.5h-8.5zM307.5 2170.0h8.5v8.5h-8.5zM296.0 2182.5h8.5v8.5h-8.5zM307.5 2182.5h8.5v8.5h-8.5zM296.0 2195.0h8.5v8.5h-8.5zM307.5 2195.0h8.5v8.5h-8.5zM296.0 2207.5h8.5v8.5h-8.5zM307.5 2207.5h8.5v8.5h-8.5zM296.0 2220.0h8.5v8.5h-8.5zM307.5 2220.0h8.5v8.5h-8.5zM296.0 2232.5h8.5v8.5h-8.5zM307.5 2232.5h8.5v8.5h-8.5zM296.0 2245.0h8.5v8.5h-8.5zM307.5 2245.0h8.5v8.5h-8.5zM296.0 2257.5h8.5v8.5h-8.5zM307.5 2257.5h8.5v8.5h-8.5z"/>
<path d="M304.0 2163.0L304.0 2158.0L358.0 2158.0L358.0 2163.0"/>
<rect x="321.0" y="2163.0" width="39.0" height="123.0" fill="#2352a6" fill-opacity=".55"/>
<rect x="300.0" y="2262.0" width="22.0" height="12.0"/>
</g>
<g font-family="'Liberation Serif','Noto Serif CJK SC',serif" font-weight="700" font-size="11" fill="#d4e1fa" text-anchor="middle" opacity=".95"><text x="340" y="2186">图</text><text x="340" y="2204">书</text><text x="340" y="2223">馆</text></g>
<g fill="none" stroke="#b6c9ef" stroke-width="1.6" stroke-linejoin="round" stroke-linecap="round" opacity=".95">
<path d="M412.0 2293.0L412.0 2226.0L421.0 2226.0L421.0 2222.0L436.0 2222.0L436.0 2226.0L440.0 2226.0L440.0 2232.0L505.0 2232.0L505.0 2293.0" fill="#2352a6" fill-opacity=".55"/>
<path d="M412.0 2236.0H505.0M412.0 2239.0H505.0"/>
<path d="M416.0 2242.0h4.0v6.0h-4.0zM421.0 2242.0h4.0v6.0h-4.0z"/>
<path d="M416.0 2254.0h4.0v8.0h-4.0zM421.0 2254.0h4.0v8.0h-4.0z"/>
<path d="M416.0 2266.0h4.0v10.0h-4.0zM421.0 2266.0h4.0v10.0h-4.0z"/>
<path d="M428.0 2242.0h4.0v6.0h-4.0zM433.0 2242.0h4.0v6.0h-4.0z"/>
<path d="M428.0 2254.0h4.0v8.0h-4.0zM433.0 2254.0h4.0v8.0h-4.0z"/>
<path d="M428.0 2266.0h4.0v10.0h-4.0zM433.0 2266.0h4.0v10.0h-4.0z"/>
<path d="M441.0 2244.0H505.0M441.0 2248.0H505.0M441.0 2252.0H505.0M441.0 2256.0H505.0M441.0 2260.0H505.0M441.0 2264.0H505.0M441.0 2268.0H505.0M441.0 2272.0H505.0M441.0 2276.0H505.0M441.0 2280.0H505.0M441.0 2284.0H505.0M441.0 2288.0H505.0" stroke-width=".8" opacity=".8"/>
<path d="M472.0 2241.0h4.0v5.0h-4.0zM477.0 2241.0h4.0v5.0h-4.0z"/>
<path d="M484.0 2241.0h4.0v5.0h-4.0zM489.0 2241.0h4.0v5.0h-4.0z"/>
<rect x="455.0" y="2259.0" width="11.0" height="23.0"/>
<path d="M505.0 2293.0L505.0 2224.0L510.0 2224.0L510.0 2220.0L540.0 2220.0L540.0 2224.0L545.0 2224.0L545.0 2293.0" fill="#2352a6" fill-opacity=".55"/>
<path d="M505.0 2228.0H545.0M505.0 2231.0H545.0"/>
<path d="M512.0 2236.0h4.5v9.0h-4.5zM517.5 2236.0h4.5v9.0h-4.5z"/>
<path d="M527.0 2236.0h4.5v9.0h-4.5zM532.5 2236.0h4.5v9.0h-4.5z"/>
<path d="M512.0 2250.0h4.5v9.0h-4.5zM517.5 2250.0h4.5v9.0h-4.5z"/>
<path d="M527.0 2250.0h4.5v9.0h-4.5zM532.5 2250.0h4.5v9.0h-4.5z"/>
<path d="M512.0 2264.0h4.5v9.0h-4.5zM517.5 2264.0h4.5v9.0h-4.5z"/>
<path d="M527.0 2264.0h4.5v9.0h-4.5zM532.5 2264.0h4.5v9.0h-4.5z"/>
<path d="M512.0 2278.0h4.5v9.0h-4.5zM517.5 2278.0h4.5v9.0h-4.5z"/>
<path d="M527.0 2278.0h4.5v9.0h-4.5zM532.5 2278.0h4.5v9.0h-4.5z"/>
<path d="M545.0 2232.0L640.0 2228.0L640.0 2293.0L545.0 2293.0"/>
<path d="M545.0 2236.0H640.0M545.0 2240.0H640.0M545.0 2246.0H640.0"/>
<path d="M548.0 2250.0H640.0M548.0 2253.5H640.0M548.0 2257.0H640.0M548.0 2260.5H640.0" stroke-width=".8" opacity=".8"/>
<path d="M584.0 2238.0h5.2v6.0h-5.2zM591.2 2238.0h5.2v6.0h-5.2zM598.5 2238.0h5.2v6.0h-5.2zM605.8 2238.0h5.2v6.0h-5.2zM613.0 2238.0h5.2v6.0h-5.2zM620.2 2238.0h5.2v6.0h-5.2zM627.5 2238.0h5.2v6.0h-5.2zM634.8 2238.0h5.2v6.0h-5.2z"/>
<path d="M579.0 2262.0L579.0 2256.0L648.0 2252.0L648.0 2262.0" fill="#2352a6" fill-opacity=".55"/>
<path d="M581.0 2262.0V2312.0M585.0 2262.0V2312.0M592.0 2262.0V2312.0M596.0 2262.0V2312.0M603.0 2262.0V2312.0M607.0 2262.0V2312.0M614.0 2262.0V2312.0M618.0 2262.0V2312.0M625.0 2262.0V2312.0M629.0 2262.0V2312.0M636.0 2262.0V2312.0M640.0 2262.0V2312.0M646.0 2262.0V2312.0"/>
<path d="M576.0 2262.0H650.0M576.0 2265.0H650.0M576.0 2312.0H650.0"/>
<path d="M607 2258l3 -5l3 5M621 2290c3 -4 6 -4 9 0"/>
<path d="M600.0 2218.0L644.0 2215.0L644.0 2208.0L700.0 2208.0L700.0 2211.0L716.0 2211.0L716.0 2203.0L770.0 2203.0L770.0 2209.0L837.0 2209.0"/>
<path d="M604.0 2221.0H640.0M604.0 2225.0H640.0"/>
<path d="M606.0 2227.0h4.3v4.0h-4.3zM612.3 2227.0h4.3v4.0h-4.3zM618.7 2227.0h4.3v4.0h-4.3zM625.0 2227.0h4.3v4.0h-4.3zM631.3 2227.0h4.3v4.0h-4.3zM637.7 2227.0h4.3v4.0h-4.3z"/>
<path d="M646.0 2212.0H698.0M646.0 2216.0H698.0"/>
<path d="M662.0 2218.0h2.9v4.0h-2.9zM666.4 2218.0h2.9v4.0h-2.9zM670.9 2218.0h2.9v4.0h-2.9zM675.3 2218.0h2.9v4.0h-2.9zM679.8 2218.0h2.9v4.0h-2.9zM684.2 2218.0h2.9v4.0h-2.9zM688.6 2218.0h2.9v4.0h-2.9zM693.1 2218.0h2.9v4.0h-2.9z"/>
<path d="M718.0 2207.0H837.0M718.0 2212.0H837.0M718.0 2216.0H837.0"/>
<path d="M745.0 2218.0h5.8v4.0h-5.8zM752.8 2218.0h5.8v4.0h-5.8zM760.7 2218.0h5.8v4.0h-5.8zM768.5 2218.0h5.8v4.0h-5.8zM776.3 2218.0h5.8v4.0h-5.8zM784.2 2218.0h5.8v4.0h-5.8zM792.0 2218.0h5.8v4.0h-5.8zM799.8 2218.0h5.8v4.0h-5.8zM807.7 2218.0h5.8v4.0h-5.8zM815.5 2218.0h5.8v4.0h-5.8zM823.3 2218.0h5.8v4.0h-5.8zM831.2 2218.0h5.8v4.0h-5.8z"/>
<path d="M745.0 2227.0h5.8v5.0h-5.8zM752.8 2227.0h5.8v5.0h-5.8zM760.7 2227.0h5.8v5.0h-5.8zM768.5 2227.0h5.8v5.0h-5.8zM776.3 2227.0h5.8v5.0h-5.8zM784.2 2227.0h5.8v5.0h-5.8zM792.0 2227.0h5.8v5.0h-5.8zM799.8 2227.0h5.8v5.0h-5.8zM807.7 2227.0h5.8v5.0h-5.8zM815.5 2227.0h5.8v5.0h-5.8zM823.3 2227.0h5.8v5.0h-5.8zM831.2 2227.0h5.8v5.0h-5.8z"/>
<path d="M745.0 2237.0h5.8v4.0h-5.8zM752.8 2237.0h5.8v4.0h-5.8zM760.7 2237.0h5.8v4.0h-5.8zM768.5 2237.0h5.8v4.0h-5.8zM776.3 2237.0h5.8v4.0h-5.8zM784.2 2237.0h5.8v4.0h-5.8zM792.0 2237.0h5.8v4.0h-5.8zM799.8 2237.0h5.8v4.0h-5.8zM807.7 2237.0h5.8v4.0h-5.8zM815.5 2237.0h5.8v4.0h-5.8zM823.3 2237.0h5.8v4.0h-5.8zM831.2 2237.0h5.8v4.0h-5.8z"/>
<path d="M760.0 2218.0h2.2v4.0h-2.2zM763.2 2218.0h2.2v4.0h-2.2zM766.4 2218.0h2.2v4.0h-2.2zM769.6 2218.0h2.2v4.0h-2.2zM772.8 2218.0h2.2v4.0h-2.2zM776.0 2218.0h2.2v4.0h-2.2zM779.2 2218.0h2.2v4.0h-2.2zM782.5 2218.0h2.2v4.0h-2.2zM785.7 2218.0h2.2v4.0h-2.2zM788.9 2218.0h2.2v4.0h-2.2zM792.1 2218.0h2.2v4.0h-2.2zM795.3 2218.0h2.2v4.0h-2.2zM798.5 2218.0h2.2v4.0h-2.2zM801.7 2218.0h2.2v4.0h-2.2zM804.9 2218.0h2.2v4.0h-2.2zM808.1 2218.0h2.2v4.0h-2.2zM811.3 2218.0h2.2v4.0h-2.2zM814.5 2218.0h2.2v4.0h-2.2zM817.8 2218.0h2.2v4.0h-2.2zM821.0 2218.0h2.2v4.0h-2.2zM824.2 2218.0h2.2v4.0h-2.2zM827.4 2218.0h2.2v4.0h-2.2zM830.6 2218.0h2.2v4.0h-2.2zM833.8 2218.0h2.2v4.0h-2.2z" stroke-width=".8"/>
<path d="M644.5 2310.0L644.5 2218.0L700.0 2214.0L745.0 2216.0L745.0 2310.0Z" fill="#2352a6" fill-opacity=".55"/>
<path d="M645.0 2222.0H745.0M645.0 2226.0H745.0"/>
<rect x="660.0" y="2230.0" width="12.0" height="17.0"/>
<path d="M660.0 2236.0H672.0M660.0 2241.0H672.0"/>
<rect x="660.0" y="2256.0" width="12.0" height="20.0"/>
<path d="M663.0 2260.0V2276.0M669.0 2260.0V2276.0"/>
<rect x="660.0" y="2284.0" width="12.0" height="22.0"/>
<path d="M663.0 2288.0V2306.0M669.0 2288.0V2306.0"/>
<rect x="677.0" y="2230.0" width="18.0" height="17.0"/>
<path d="M677.0 2236.0H695.0M677.0 2241.0H695.0"/>
<rect x="677.0" y="2256.0" width="18.0" height="20.0"/>
<path d="M683.0 2260.0V2276.0M689.0 2260.0V2276.0"/>
<rect x="677.0" y="2284.0" width="18.0" height="22.0"/>
<path d="M683.0 2288.0V2306.0M689.0 2288.0V2306.0"/>
<rect x="700.0" y="2230.0" width="16.0" height="17.0"/>
<path d="M700.0 2236.0H716.0M700.0 2241.0H716.0"/>
<rect x="700.0" y="2256.0" width="16.0" height="20.0"/>
<path d="M705.0 2260.0V2276.0M711.0 2260.0V2276.0"/>
<rect x="700.0" y="2284.0" width="16.0" height="22.0"/>
<path d="M705.0 2288.0V2306.0M711.0 2288.0V2306.0"/>
<rect x="721.0" y="2230.0" width="19.0" height="17.0"/>
<path d="M721.0 2236.0H740.0M721.0 2241.0H740.0"/>
<rect x="721.0" y="2256.0" width="19.0" height="20.0"/>
<path d="M727.5 2260.0V2276.0M733.5 2260.0V2276.0"/>
<rect x="721.0" y="2284.0" width="19.0" height="22.0"/>
<path d="M727.5 2288.0V2306.0M733.5 2288.0V2306.0"/>
<path d="M664.0 2266.0h2.0v4.0h-2.0zM666.0 2266.0h2.0v4.0h-2.0zM668.0 2266.0h2.0v4.0h-2.0zM670.0 2266.0h2.0v4.0h-2.0zM672.0 2266.0h2.0v4.0h-2.0zM674.0 2266.0h2.0v4.0h-2.0zM664.0 2270.0h2.0v4.0h-2.0zM666.0 2270.0h2.0v4.0h-2.0zM668.0 2270.0h2.0v4.0h-2.0zM670.0 2270.0h2.0v4.0h-2.0zM672.0 2270.0h2.0v4.0h-2.0zM674.0 2270.0h2.0v4.0h-2.0zM664.0 2274.0h2.0v4.0h-2.0zM666.0 2274.0h2.0v4.0h-2.0zM668.0 2274.0h2.0v4.0h-2.0zM670.0 2274.0h2.0v4.0h-2.0zM672.0 2274.0h2.0v4.0h-2.0zM674.0 2274.0h2.0v4.0h-2.0zM664.0 2278.0h2.0v4.0h-2.0zM666.0 2278.0h2.0v4.0h-2.0zM668.0 2278.0h2.0v4.0h-2.0zM670.0 2278.0h2.0v4.0h-2.0zM672.0 2278.0h2.0v4.0h-2.0zM674.0 2278.0h2.0v4.0h-2.0zM664.0 2282.0h2.0v4.0h-2.0zM666.0 2282.0h2.0v4.0h-2.0zM668.0 2282.0h2.0v4.0h-2.0zM670.0 2282.0h2.0v4.0h-2.0zM672.0 2282.0h2.0v4.0h-2.0zM674.0 2282.0h2.0v4.0h-2.0zM664.0 2286.0h2.0v4.0h-2.0zM666.0 2286.0h2.0v4.0h-2.0zM668.0 2286.0h2.0v4.0h-2.0zM670.0 2286.0h2.0v4.0h-2.0zM672.0 2286.0h2.0v4.0h-2.0zM674.0 2286.0h2.0v4.0h-2.0z" stroke-width=".6" opacity=".8"/>
<rect x="647.0" y="2250.0" width="10.0" height="56.0"/>
<path d="M745.0 2265.0L811.5 2261.0L811.5 2299.0L745.0 2302.0" fill="#2352a6" fill-opacity=".55"/>
<path d="M745.0 2268.0H811.0"/>
<path d="M752.0 2276.0h4.8v14.0h-4.8zM761.8 2276.0h4.8v14.0h-4.8zM771.7 2276.0h4.8v14.0h-4.8zM781.5 2276.0h4.8v14.0h-4.8zM791.3 2276.0h4.8v14.0h-4.8zM801.2 2276.0h4.8v14.0h-4.8z"/>
<path d="M748.0 2240.0V2262.0M752.0 2240.0V2262.0M757.0 2240.0V2262.0M762.0 2240.0V2262.0"/>
<path d="M746.0 2240.0H764.0M746.0 2244.0H764.0"/>
<path d="M837.0 2228.0L897.0 2228.0L897.0 2291.0L812.0 2291.0"/>
<path d="M838.0 2232.0H897.0M838.0 2238.5H897.0M838.0 2245.0H897.0M838.0 2251.5H897.0M838.0 2258.0H897.0M838.0 2264.5H897.0M838.0 2271.0H897.0"/>
<path d="M842.0 2234.0h8.2v4.0h-8.2zM853.2 2234.0h8.2v4.0h-8.2zM864.4 2234.0h8.2v4.0h-8.2zM875.6 2234.0h8.2v4.0h-8.2zM886.8 2234.0h8.2v4.0h-8.2z"/>
<path d="M842.0 2247.0h8.2v4.0h-8.2zM853.2 2247.0h8.2v4.0h-8.2zM864.4 2247.0h8.2v4.0h-8.2zM875.6 2247.0h8.2v4.0h-8.2zM886.8 2247.0h8.2v4.0h-8.2z"/>
<path d="M812.0 2280.0L850.0 2280.0L872.0 2300.0L897.0 2300.0"/>
<path d="M815.0 2284.0H890.0M815.0 2288.0H890.0"/>
<path d="M890.0 2236.0L900.0 2310.0L978.0 2310.0L978.0 2230.0L965.0 2230.0L965.0 2206.0L905.0 2204.0L850.0 2207.0L850.0 2211.0L905.0 2209.0" fill="#2352a6" fill-opacity=".55"/>
<path d="M860.0 2209.0h4.4v5.0h-4.4zM865.9 2209.0h4.4v5.0h-4.4zM871.9 2209.0h4.4v5.0h-4.4zM877.8 2209.0h4.4v5.0h-4.4zM883.7 2209.0h4.4v5.0h-4.4zM889.6 2209.0h4.4v5.0h-4.4zM895.6 2209.0h4.4v5.0h-4.4z"/>
<path d="M926.0 2212.0h8.2v5.8h-8.2zM936.2 2212.0h8.2v5.8h-8.2zM946.4 2212.0h8.2v5.8h-8.2zM956.6 2212.0h8.2v5.8h-8.2zM966.8 2212.0h8.2v5.8h-8.2zM926.0 2220.8h8.2v5.8h-8.2zM936.2 2220.8h8.2v5.8h-8.2zM946.4 2220.8h8.2v5.8h-8.2zM956.6 2220.8h8.2v5.8h-8.2zM966.8 2220.8h8.2v5.8h-8.2zM926.0 2229.7h8.2v5.8h-8.2zM936.2 2229.7h8.2v5.8h-8.2zM946.4 2229.7h8.2v5.8h-8.2zM956.6 2229.7h8.2v5.8h-8.2zM966.8 2229.7h8.2v5.8h-8.2zM926.0 2238.5h8.2v5.8h-8.2zM936.2 2238.5h8.2v5.8h-8.2zM946.4 2238.5h8.2v5.8h-8.2zM956.6 2238.5h8.2v5.8h-8.2zM966.8 2238.5h8.2v5.8h-8.2zM926.0 2247.3h8.2v5.8h-8.2zM936.2 2247.3h8.2v5.8h-8.2zM946.4 2247.3h8.2v5.8h-8.2zM956.6 2247.3h8.2v5.8h-8.2zM966.8 2247.3h8.2v5.8h-8.2zM926.0 2256.2h8.2v5.8h-8.2zM936.2 2256.2h8.2v5.8h-8.2zM946.4 2256.2h8.2v5.8h-8.2zM956.6 2256.2h8.2v5.8h-8.2zM966.8 2256.2h8.2v5.8h-8.2z"/>
<path d="M922.0 2256.0H978.0M922.0 2259.0H978.0M922.0 2266.0H978.0"/>
<path d="M924.0 2256.0V2266.0M928.0 2256.0V2266.0M932.0 2256.0V2266.0M936.0 2256.0V2266.0M940.0 2256.0V2266.0M944.0 2256.0V2266.0M948.0 2256.0V2266.0M952.0 2256.0V2266.0M956.0 2256.0V2266.0M960.0 2256.0V2266.0M964.0 2256.0V2266.0M968.0 2256.0V2266.0M972.0 2256.0V2266.0M976.0 2256.0V2266.0" stroke-width=".8"/>
<path d="M930.0 2294.0h11.3v6.0h-11.3zM946.3 2294.0h11.3v6.0h-11.3zM962.7 2294.0h11.3v6.0h-11.3z"/>
<path d="M930.0 2294.0h4.8v6.0h-4.8zM936.2 2294.0h4.8v6.0h-4.8z"/>
<path d="M946.0 2294.0h4.8v6.0h-4.8zM952.2 2294.0h4.8v6.0h-4.8z"/>
<path d="M962.0 2294.0h4.8v6.0h-4.8zM968.2 2294.0h4.8v6.0h-4.8z"/>
<path d="M975.0 2232.0L1012.0 2234.0L1075.0 2230.0L1072.0 2310.0L985.0 2310.0Z" fill="#2352a6" fill-opacity=".55"/>
<path d="M986 2243h3.5a3 3 0 0 1 0 7h-3.5z"/>
<path d="M1012.0 2234.0L1008.0 2302.0"/>
<path d="M1016.0 2245.0V2254.0M1019.6 2245.0V2254.0M1023.2 2245.0V2254.0M1026.8 2245.0V2254.0M1030.4 2245.0V2254.0M1034.0 2245.0V2254.0M1037.6 2245.0V2254.0M1041.2 2245.0V2254.0M1044.8 2245.0V2254.0M1048.4 2245.0V2254.0M1052.0 2245.0V2254.0M1055.6 2245.0V2254.0M1059.2 2245.0V2254.0M1062.8 2245.0V2254.0M1066.4 2245.0V2254.0M1070.0 2245.0V2254.0" stroke-width="1"/>
<path d="M1012.0 2262.0V2300.0M1014.7 2262.0V2300.0M1017.3 2262.0V2300.0M1020.0 2262.0V2300.0M1022.7 2262.0V2300.0M1025.3 2262.0V2300.0M1028.0 2262.0V2300.0M1030.7 2262.0V2300.0M1033.3 2262.0V2300.0M1036.0 2262.0V2300.0M1038.7 2262.0V2300.0M1041.3 2262.0V2300.0M1044.0 2262.0V2300.0M1046.7 2262.0V2300.0M1049.3 2262.0V2300.0M1052.0 2262.0V2300.0M1054.7 2262.0V2300.0M1057.3 2262.0V2300.0M1060.0 2262.0V2300.0M1062.7 2262.0V2300.0M1065.3 2262.0V2300.0M1068.0 2262.0V2300.0" stroke-width="1"/>
<path d="M1012.0 2260.0H1070.0M1012.0 2302.0H1070.0"/>
</g>
<g fill="none" stroke="#b6c9ef" stroke-width="1.1" opacity=".4">
<path d="M1075.0 2240.0L1130.0 2236.0L1130.0 2300.0L1075.0 2304.0"/>
<path d="M1082.0 2246.0h5.7v6.0h-5.7zM1089.7 2246.0h5.7v6.0h-5.7zM1097.3 2246.0h5.7v6.0h-5.7zM1105.0 2246.0h5.7v6.0h-5.7zM1112.7 2246.0h5.7v6.0h-5.7zM1120.3 2246.0h5.7v6.0h-5.7z"/>
<path d="M1082.0 2262.0h5.7v6.0h-5.7zM1089.7 2262.0h5.7v6.0h-5.7zM1097.3 2262.0h5.7v6.0h-5.7zM1105.0 2262.0h5.7v6.0h-5.7zM1112.7 2262.0h5.7v6.0h-5.7zM1120.3 2262.0h5.7v6.0h-5.7z"/>
<path d="M1130.0 2244.0L1180.0 2240.0L1180.0 2296.0"/>
<path d="M1132.0 2252.0H1180.0M1132.0 2262.0H1180.0M1132.0 2272.0H1180.0"/>
</g>
<path d="M375.1 2286.8Q376.4 2292.4 372.1 2294.5Q367.6 2296.0 362.2 2292.2Q356.6 2290.4 356.0 2286.2Q356.2 2282.1 361.5 2280.0Q367.7 2276.2 372.9 2277.5Q376.9 2280.8 375.1 2286.8ZM365.9 2294.1V2311.6M365.9 2299.3l-5.1 -6.2M365.9 2301.3l4.6 -5.6M722.2 2308.5Q724.3 2311.2 720.2 2312.6Q718.1 2314.8 713.2 2313.8Q710.0 2315.2 708.3 2313.2Q705.0 2311.3 705.8 2308.1Q704.0 2305.3 706.8 2304.2Q708.4 2301.6 712.2 2302.8Q714.9 2302.0 716.3 2304.9Q721.7 2305.9 722.2 2308.5ZM712.6 2314.6V2327.1M712.6 2318.3l-3.7 -4.4M712.6 2319.8l3.3 -4.0M241.4 2301.3Q242.9 2303.6 239.0 2304.0Q236.4 2306.7 231.9 2305.9Q228.0 2307.7 226.7 2305.5Q222.4 2304.1 223.6 2300.7Q223.0 2297.7 227.5 2296.1Q229.2 2293.4 232.8 2294.3Q237.7 2292.0 240.1 2294.1Q243.6 2296.8 241.4 2301.3ZM232.7 2307.1V2321.7M232.7 2311.4l-4.3 -5.1M232.7 2313.1l3.9 -4.7M485.9 2324.8Q487.4 2327.6 483.1 2328.8Q480.8 2331.6 476.2 2330.7Q471.9 2332.1 470.1 2329.5Q466.8 2327.2 468.7 2323.5Q468.2 2321.4 472.2 2320.9Q474.0 2317.8 477.2 2318.3Q482.2 2317.7 484.1 2320.8Q488.1 2322.2 485.9 2324.8ZM476.5 2330.5V2343.1M476.5 2334.2l-3.7 -4.4M476.5 2335.7l3.3 -4.1M332.0 2297.0Q332.2 2301.6 326.8 2303.0Q322.3 2305.4 317.5 2302.6Q311.5 2299.9 310.8 2294.9Q311.6 2289.8 317.7 2287.8Q321.7 2285.3 325.7 2288.2Q331.5 2291.6 332.0 2297.0ZM321.6 2303.9V2321.5M321.6 2309.1l-5.2 -6.2M321.6 2311.2l4.7 -5.7M323.6 2286.5Q326.4 2290.6 322.6 2292.8Q318.8 2295.2 312.4 2293.3Q309.2 2294.9 308.5 2292.3Q303.6 2291.2 304.1 2287.9Q303.1 2284.3 307.8 2282.2Q308.5 2279.0 312.1 2280.1Q317.3 2278.5 320.8 2281.5Q325.2 2282.8 323.6 2286.5ZM314.0 2294.4V2310.0M314.0 2299.0l-4.6 -5.5M314.0 2300.8l4.1 -5.0M1088.5 2310.2Q1090.7 2314.3 1085.7 2315.9Q1081.5 2319.5 1075.0 2317.9Q1070.7 2318.7 1069.8 2314.8Q1065.0 2313.4 1066.6 2310.0Q1065.4 2306.8 1070.3 2305.1Q1073.8 2301.5 1079.0 2302.3Q1082.7 2300.2 1083.4 2303.2Q1089.2 2305.6 1088.5 2310.2ZM1077.0 2317.3V2333.6M1077.0 2322.1l-4.8 -5.7M1077.0 2324.0l4.3 -5.3M130.3 2297.7Q130.6 2302.4 123.1 2305.7Q121.5 2309.8 116.9 2308.6Q111.6 2309.8 108.5 2305.7Q100.4 2302.7 100.3 2298.2Q99.0 2294.2 106.6 2293.2Q108.3 2290.0 113.9 2292.0Q119.7 2290.1 123.3 2293.3Q130.8 2294.0 130.3 2297.7ZM115.7 2309.1V2329.1M115.7 2315.0l-5.9 -7.0M115.7 2317.4l5.3 -6.5M945.0 2291.1Q945.7 2294.7 941.6 2296.6Q940.5 2299.1 937.3 2297.5Q933.5 2299.2 931.4 2296.7Q926.9 2295.0 927.5 2291.3Q926.9 2289.1 931.5 2288.0Q933.2 2285.2 936.7 2285.6Q940.8 2284.8 942.7 2287.4Q946.4 2288.4 945.0 2291.1ZM936.6 2297.1V2309.2M936.6 2300.6l-3.6 -4.3M936.6 2302.1l3.2 -3.9M900.4 2316.0Q900.9 2319.3 896.1 2320.3Q892.3 2321.8 887.8 2319.7Q883.5 2319.0 883.1 2316.2Q881.9 2312.0 885.4 2309.4Q890.9 2308.0 896.4 2310.3Q901.1 2312.4 900.4 2316.0ZM890.9 2321.5V2335.0M890.9 2325.5l-4.0 -4.8M890.9 2327.1l3.6 -4.4M1069.4 2317.3Q1071.2 2322.4 1066.4 2325.5Q1061.7 2330.9 1055.5 2329.8Q1050.2 2328.3 1049.5 2321.6Q1045.8 2317.2 1049.0 2313.6Q1050.5 2307.9 1056.4 2308.0Q1061.3 2306.0 1064.9 2310.8Q1070.2 2312.4 1069.4 2317.3ZM1058.8 2328.1V2348.1M1058.8 2334.0l-5.9 -7.1M1058.8 2336.3l5.3 -6.5M815.5 2287.1Q817.2 2293.1 811.9 2295.5Q807.9 2298.4 801.8 2294.8Q793.5 2293.8 790.8 2288.8Q788.2 2286.2 794.0 2283.6Q793.6 2277.5 798.8 2276.0Q805.6 2275.4 811.6 2280.6Q817.0 2283.0 815.5 2287.1ZM804.0 2295.2V2314.7M804.0 2300.9l-5.7 -6.9M804.0 2303.2l5.2 -6.3M945.3 2319.6Q948.2 2324.1 943.6 2326.8Q938.5 2329.3 931.1 2327.3Q925.9 2326.8 925.0 2323.1Q922.5 2319.4 926.1 2316.4Q928.2 2313.2 933.3 2314.1Q937.5 2311.4 939.9 2313.7Q945.7 2315.1 945.3 2319.6ZM934.0 2328.9V2346.4M934.0 2334.1l-5.1 -6.2M934.0 2336.1l4.6 -5.7M874.5 2292.6Q873.5 2298.4 867.0 2302.0Q861.3 2303.7 856.5 2300.4Q850.3 2297.6 850.8 2292.9Q850.8 2289.8 857.3 2288.9Q863.3 2285.2 869.1 2286.3Q875.0 2287.8 874.5 2292.6ZM863.0 2301.9V2318.4M863.0 2306.8l-4.9 -5.8M863.0 2308.7l4.4 -5.3M889.1 2303.0Q888.9 2308.9 882.6 2312.3Q877.4 2315.1 872.2 2312.1Q864.8 2309.4 864.1 2303.9Q863.2 2299.2 869.8 2297.2Q875.2 2294.5 881.9 2296.9Q888.4 2298.4 889.1 2303.0ZM877.5 2312.9V2331.4M877.5 2318.3l-5.4 -6.5M877.5 2320.5l4.9 -6.0M883.9 2301.4Q883.9 2306.2 878.0 2308.5Q872.3 2310.7 866.7 2308.0Q861.4 2305.9 862.0 2301.5Q862.8 2296.1 868.7 2293.6Q875.4 2291.1 880.6 2294.3Q885.7 2296.5 883.9 2301.4ZM872.7 2309.5V2326.2M872.7 2314.4l-4.9 -5.9M872.7 2316.3l4.4 -5.4M305.0 2317.4Q306.3 2323.0 300.7 2325.7Q294.9 2327.9 288.2 2324.7Q282.9 2322.9 283.1 2318.3Q282.4 2311.4 287.5 2307.9Q293.7 2306.2 299.7 2310.6Q305.6 2312.7 305.0 2317.4ZM293.3 2326.7V2345.7M293.3 2332.3l-5.6 -6.7M293.3 2334.5l5.0 -6.2M537.2 2314.5Q538.7 2318.0 534.8 2320.1Q530.6 2322.2 525.3 2320.7Q521.7 2320.8 521.7 2318.0Q518.9 2316.1 521.2 2313.8Q522.0 2310.5 526.3 2309.7Q530.6 2308.7 533.9 2311.2Q538.0 2312.0 537.2 2314.5ZM528.5 2321.4V2334.1M528.5 2325.1l-3.7 -4.5M528.5 2326.6l3.4 -4.1M598.9 2291.6Q596.8 2296.0 588.2 2297.0Q584.2 2299.4 580.4 2296.5Q573.9 2293.6 573.1 2288.6Q571.5 2284.0 576.9 2282.3Q585.7 2278.9 594.0 2281.2Q600.7 2285.2 598.9 2291.6ZM584.7 2299.0V2319.0M584.7 2304.9l-5.9 -7.1M584.7 2307.2l5.3 -6.5M1051.5 2302.3Q1052.9 2307.9 1046.8 2311.0Q1041.6 2312.7 1034.8 2309.3Q1029.1 2308.2 1028.5 2304.4Q1028.6 2299.5 1034.0 2296.5Q1038.2 2294.2 1042.7 2296.7Q1050.1 2298.2 1051.5 2302.3ZM1038.7 2311.6V2329.4M1038.7 2316.8l-5.3 -6.3M1038.7 2318.9l4.7 -5.8M21.1 2323.5Q22.9 2328.3 19.6 2330.4Q15.1 2332.2 9.5 2329.3Q3.9 2330.5 3.2 2327.9Q0.4 2324.0 4.2 2319.7Q4.8 2316.2 9.8 2316.5Q15.0 2315.3 19.1 2318.3Q22.6 2320.1 21.1 2323.5ZM13.0 2330.5V2345.9M13.0 2335.0l-4.5 -5.5M13.0 2336.9l4.1 -5.0M916.1 2326.8Q916.8 2329.8 912.8 2330.9Q908.5 2331.9 904.0 2330.0Q900.2 2328.3 900.6 2325.6Q900.0 2321.9 903.7 2320.5Q907.6 2318.9 911.8 2321.1Q916.1 2323.1 916.1 2326.8ZM908.2 2332.0V2344.2M908.2 2335.6l-3.6 -4.3M908.2 2337.1l3.2 -4.0M785.2 2323.9Q786.9 2328.5 783.5 2330.4Q780.8 2331.9 776.1 2328.9Q770.9 2330.8 769.0 2328.8Q766.3 2327.2 769.4 2323.5Q767.8 2320.0 771.2 2318.3Q773.1 2314.2 777.2 2314.9Q782.3 2314.1 784.7 2318.2Q787.8 2320.2 785.2 2323.9ZM777.1 2330.3V2345.1M777.1 2334.6l-4.4 -5.2M777.1 2336.4l3.9 -4.8M62.0 2289.7Q60.6 2294.3 54.2 2296.9Q50.2 2299.8 46.7 2297.8Q42.3 2295.8 42.6 2290.9Q41.4 2287.5 45.4 2285.6Q50.3 2283.2 55.6 2284.6Q61.5 2285.9 62.0 2289.7ZM51.1 2297.1V2311.3M51.1 2301.3l-4.2 -5.0M51.1 2303.0l3.8 -4.6M236.4 2281.9Q236.5 2285.8 231.6 2288.1Q227.4 2289.6 223.0 2287.5Q217.3 2285.1 216.8 2281.5Q215.7 2277.7 220.6 2276.7Q226.5 2274.9 232.7 2277.3Q237.3 2278.4 236.4 2281.9ZM227.1 2289.6V2303.7M227.1 2293.7l-4.2 -5.0M227.1 2295.4l3.7 -4.6M874.6 2311.8Q877.2 2315.5 872.6 2316.8Q867.0 2320.1 859.6 2318.6Q853.5 2318.2 852.7 2314.1Q849.4 2311.6 853.7 2308.8Q855.1 2303.8 861.1 2302.6Q867.6 2301.2 872.1 2305.0Q876.8 2307.5 874.6 2311.8ZM863.7 2318.7V2334.8M863.7 2323.4l-4.7 -5.7M863.7 2325.3l4.3 -5.2M669.4 2317.2Q673.1 2320.5 669.9 2321.9Q665.4 2325.6 658.0 2324.7Q654.3 2325.5 653.6 2321.8Q647.9 2321.3 648.7 2318.5Q646.9 2314.7 652.0 2312.1Q654.5 2308.9 659.8 2309.9Q667.3 2308.3 670.9 2311.2Q673.8 2313.3 669.4 2317.2ZM660.0 2325.2V2342.9M660.0 2330.4l-5.2 -6.2M660.0 2332.5l4.7 -5.7M112.9 2313.3Q112.5 2317.1 107.6 2318.5Q102.6 2320.7 98.3 2318.5Q94.5 2316.0 95.6 2311.5Q96.0 2307.4 100.6 2305.9Q104.1 2302.8 107.5 2304.8Q112.5 2307.8 112.9 2313.3ZM103.9 2319.8V2335.8M103.9 2324.5l-4.7 -5.6M103.9 2326.4l4.2 -5.2M235.6 2292.9Q237.0 2295.6 231.7 2297.3Q230.0 2302.1 225.2 2302.4Q218.6 2303.5 214.9 2299.3Q210.2 2297.9 212.8 2294.2Q211.0 2290.1 216.1 2287.8Q217.3 2283.2 222.1 2284.0Q228.4 2281.7 232.4 2285.7Q237.5 2287.7 235.6 2292.9ZM224.1 2301.7V2319.2M224.1 2306.9l-5.1 -6.2M224.1 2308.9l4.6 -5.6M1067.7 2283.2Q1069.3 2285.7 1064.8 2286.1Q1061.6 2289.1 1056.4 2288.4Q1052.6 2289.2 1051.7 2286.2Q1045.5 2284.8 1045.9 2281.8Q1043.5 2278.4 1048.7 2276.8Q1051.7 2272.5 1058.0 2273.1Q1062.7 2273.0 1064.8 2277.6Q1069.3 2279.9 1067.7 2283.2ZM1058.0 2289.3V2305.1M1058.0 2293.9l-4.6 -5.6M1058.0 2295.8l4.2 -5.1M1022.7 2306.1Q1023.1 2309.4 1018.9 2310.4Q1015.1 2311.9 1010.9 2309.8Q1007.2 2308.8 1007.3 2305.8Q1006.8 2302.5 1010.3 2300.6Q1014.6 2297.9 1018.7 2299.0Q1022.9 2301.7 1022.7 2306.1ZM1014.4 2310.7V2322.8M1014.4 2314.3l-3.6 -4.3M1014.4 2315.7l3.2 -3.9M844.2 2296.1Q845.1 2298.7 841.3 2299.2Q839.0 2301.1 835.2 2299.7Q830.4 2300.8 828.6 2298.8Q825.0 2295.8 827.2 2292.4Q828.5 2289.8 833.8 2289.9Q837.5 2288.8 840.5 2290.9Q844.6 2293.0 844.2 2296.1ZM836.1 2300.8V2313.2M836.1 2304.4l-3.7 -4.4M836.1 2305.9l3.3 -4.0M436.3 2317.5Q436.8 2321.6 429.4 2323.7Q428.7 2329.2 424.3 2328.6Q417.5 2330.0 413.0 2325.0Q406.1 2323.7 407.6 2319.4Q405.1 2313.8 411.5 2310.3Q415.0 2307.3 422.1 2309.9Q427.3 2308.3 429.6 2311.8Q437.0 2313.4 436.3 2317.5ZM421.9 2327.0V2346.4M421.9 2332.7l-5.7 -6.9M421.9 2335.0l5.1 -6.3M299.1 2308.4Q298.9 2312.2 293.5 2314.3Q289.9 2316.6 285.7 2314.9Q280.1 2312.2 279.3 2307.8Q277.7 2303.5 282.1 2302.1Q288.7 2300.7 295.4 2303.6Q300.2 2304.9 299.1 2308.4ZM289.0 2316.2V2331.5M289.0 2320.7l-4.5 -5.4M289.0 2322.5l4.1 -5.0M304.9 2315.6Q305.9 2319.5 299.5 2321.6Q294.5 2325.4 288.2 2324.3Q282.5 2323.9 281.8 2319.4Q278.1 2315.3 281.6 2311.7Q284.0 2306.4 290.5 2306.2Q295.5 2303.3 298.6 2307.2Q305.3 2309.8 304.9 2315.6ZM291.9 2324.7V2342.9M291.9 2330.0l-5.4 -6.4M291.9 2332.2l4.8 -5.9M446.0 2309.7Q446.5 2311.9 440.7 2312.3Q436.3 2316.7 431.0 2316.7Q425.8 2316.4 425.3 2311.9Q421.9 2309.6 425.3 2306.7Q427.8 2301.6 433.9 2300.1Q440.1 2298.6 443.3 2302.4Q448.3 2305.1 446.0 2309.7ZM434.6 2315.8V2331.4M434.6 2320.4l-4.6 -5.5M434.6 2322.2l4.1 -5.0M189.1 2306.8Q188.6 2310.8 180.6 2312.2Q177.9 2315.3 173.3 2313.3Q168.4 2316.3 166.6 2313.7Q159.8 2312.5 160.7 2307.8Q159.9 2301.6 166.8 2297.7Q169.4 2294.1 174.6 2296.7Q180.2 2296.3 182.7 2301.0Q190.0 2303.1 189.1 2306.8ZM174.4 2315.3V2335.2M174.4 2321.1l-5.9 -7.0M174.4 2323.5l5.3 -6.4M348.4 2322.2Q349.7 2325.0 345.5 2326.7Q342.1 2330.6 337.2 2330.4Q331.6 2329.9 330.1 2325.7Q328.3 2323.2 332.4 2320.5Q332.4 2316.3 336.1 2315.6Q340.9 2315.0 344.9 2318.6Q349.2 2319.5 348.4 2322.2ZM339.4 2329.3V2342.8M339.4 2333.2l-4.0 -4.8M339.4 2334.8l3.6 -4.4M34.5 2299.1Q36.1 2303.6 31.5 2306.4Q27.5 2310.5 21.9 2309.2Q16.0 2308.2 14.6 2303.1Q12.2 2300.4 16.4 2297.7Q16.3 2292.3 20.7 2291.2Q25.6 2289.1 30.0 2293.0Q35.0 2294.5 34.5 2299.1ZM24.6 2308.6V2326.3M24.6 2313.8l-5.2 -6.2M24.6 2315.9l4.7 -5.7M235.7 2289.9Q236.0 2294.2 231.3 2295.8Q229.1 2298.2 225.6 2295.8Q219.3 2296.3 216.8 2293.0Q215.1 2289.2 219.5 2285.5Q220.1 2282.3 224.1 2282.8Q229.3 2282.1 233.0 2285.1Q237.2 2286.9 235.7 2289.9ZM226.5 2296.7V2312.5M226.5 2301.3l-4.7 -5.6M226.5 2303.2l4.2 -5.1M69.2 2285.4Q70.2 2289.9 65.0 2291.3Q63.3 2293.3 59.2 2290.4Q53.0 2291.6 49.7 2288.8Q45.6 2288.3 48.3 2285.6Q46.9 2282.0 51.7 2279.6Q53.5 2276.8 58.0 2278.0Q61.5 2276.2 63.5 2278.7Q69.2 2281.3 69.2 2285.4ZM58.6 2291.4V2306.6M58.6 2295.8l-4.5 -5.4M58.6 2297.6l4.0 -4.9M406.4 2323.6Q407.1 2327.6 402.5 2329.7Q398.6 2332.1 394.0 2330.2Q389.3 2328.7 388.8 2324.7Q388.7 2321.1 393.2 2319.1Q397.7 2317.3 401.9 2319.0Q406.7 2320.3 406.4 2323.6ZM397.2 2330.0V2343.0M397.2 2333.8l-3.8 -4.6M397.2 2335.4l3.4 -4.2M722.5 2289.0Q726.4 2293.7 723.5 2296.6Q719.4 2300.6 712.2 2299.2Q706.0 2297.8 703.9 2292.4Q698.7 2289.4 701.4 2286.8Q704.2 2283.0 712.0 2283.0Q717.4 2281.6 720.8 2284.7Q724.5 2285.7 722.5 2289.0ZM713.8 2298.3V2315.5M713.8 2303.4l-5.1 -6.1M713.8 2305.4l4.6 -5.6M320.9 2280.2Q322.0 2283.7 317.4 2284.7Q314.9 2288.6 310.5 2287.5Q303.8 2288.9 301.1 2285.0Q295.5 2282.0 298.3 2277.3Q296.1 2274.3 302.0 2273.7Q303.2 2268.5 308.7 2268.8Q315.2 2267.2 319.7 2271.8Q323.5 2274.9 320.9 2280.2ZM311.5 2287.5V2305.9M311.5 2292.9l-5.4 -6.5M311.5 2295.1l4.9 -5.9M983.5 2296.6Q984.8 2301.2 979.9 2304.0Q978.9 2306.8 974.9 2304.9Q968.9 2306.5 965.2 2303.5Q958.5 2300.4 959.6 2295.9Q959.9 2292.1 967.2 2291.3Q968.0 2288.5 971.6 2290.7Q978.3 2288.4 982.4 2291.1Q986.4 2292.4 983.5 2296.6ZM973.2 2306.6V2325.2M973.2 2312.1l-5.5 -6.6M973.2 2314.3l4.9 -6.0M513.8 2292.3Q516.2 2296.0 512.8 2297.2Q509.5 2300.8 503.9 2299.5Q500.3 2300.3 499.2 2296.4Q495.1 2295.2 496.2 2291.9Q494.0 2288.6 497.6 2286.8Q499.2 2283.8 504.0 2284.8Q509.4 2282.4 512.5 2284.7Q516.1 2287.5 513.8 2292.3ZM505.1 2298.6V2314.0M505.1 2303.1l-4.5 -5.5M505.1 2304.9l4.1 -5.0M601.4 2312.3Q603.3 2315.6 600.6 2316.6Q596.4 2319.4 591.3 2317.9Q588.3 2318.0 588.7 2314.6Q586.0 2312.5 587.9 2309.7Q589.9 2306.0 594.4 2305.0Q598.5 2304.4 600.5 2307.5Q603.2 2309.4 601.4 2312.3ZM594.7 2317.3V2330.0M594.7 2321.0l-3.8 -4.5M594.7 2322.5l3.4 -4.1M986.2 2302.6Q988.2 2305.8 985.2 2306.7Q983.8 2309.4 979.7 2307.9Q976.1 2309.1 974.0 2306.3Q969.1 2305.2 969.3 2302.3Q968.8 2299.1 973.5 2297.2Q974.0 2294.5 977.1 2295.5Q981.7 2294.8 984.7 2297.8Q987.8 2299.7 986.2 2302.6ZM978.7 2308.2V2322.3M978.7 2312.4l-4.1 -5.0M978.7 2314.0l3.7 -4.6M364.3 2286.9Q366.0 2292.0 360.7 2294.4Q359.3 2298.1 354.5 2295.9Q348.1 2296.9 344.2 2292.6Q337.1 2291.5 338.4 2288.0Q337.8 2283.3 345.2 2280.5Q346.0 2276.1 350.4 2277.4Q357.5 2277.0 362.1 2281.9Q367.0 2283.5 364.3 2286.9ZM352.8 2295.8V2314.4M352.8 2301.3l-5.5 -6.6M352.8 2303.4l4.9 -6.0M33.7 2309.4Q34.6 2312.7 28.1 2314.9Q24.4 2319.3 18.7 2319.1Q13.1 2319.9 11.4 2315.8Q6.4 2313.2 8.9 2309.2Q7.4 2306.8 13.0 2306.3Q15.6 2301.3 20.8 2301.2Q26.3 2301.3 28.7 2306.3Q35.0 2306.9 33.7 2309.4ZM20.6 2319.4V2338.1M20.6 2324.9l-5.5 -6.6M20.6 2327.1l5.0 -6.1M712.0 2295.9Q712.7 2299.5 708.3 2301.3Q703.0 2304.9 697.8 2303.9Q691.6 2300.8 691.4 2295.3Q690.6 2290.7 696.3 2289.1Q701.3 2285.6 707.2 2287.8Q711.9 2290.3 712.0 2295.9ZM703.1 2304.0V2320.1M703.1 2308.7l-4.8 -5.7M703.1 2310.6l4.3 -5.2M366.9 2306.6Q365.7 2310.6 359.1 2311.7Q353.9 2313.6 349.6 2311.1Q342.8 2309.4 342.7 2305.6Q344.2 2301.0 351.7 2298.6Q355.8 2295.8 359.7 2298.0Q366.2 2301.3 366.9 2306.6ZM355.4 2313.4V2330.7M355.4 2318.5l-5.1 -6.1M355.4 2320.5l4.6 -5.6M594.5 2301.2Q595.5 2304.7 591.0 2305.6Q585.5 2307.3 579.7 2305.1Q576.3 2303.2 577.5 2299.5Q577.0 2296.2 580.8 2294.8Q586.1 2292.8 590.9 2294.5Q595.4 2297.1 594.5 2301.2ZM585.2 2306.0V2319.0M585.2 2309.8l-3.8 -4.6M585.2 2311.3l3.4 -4.2M742.2 2296.2Q742.5 2298.8 738.0 2299.8Q734.9 2302.9 731.0 2302.1Q726.0 2302.7 724.9 2299.6Q722.5 2296.0 725.9 2292.3Q726.2 2289.2 730.3 2289.6Q733.9 2288.2 737.2 2290.9Q741.9 2292.7 742.2 2296.2ZM733.4 2302.3V2316.4M733.4 2306.5l-4.1 -4.9M733.4 2308.1l3.7 -4.5M494.7 2285.5Q498.6 2288.9 496.1 2290.3Q493.6 2294.2 487.4 2293.2Q482.8 2295.2 480.1 2291.8Q475.0 2288.8 476.0 2283.9Q476.0 2281.1 481.6 2280.5Q481.9 2276.7 484.8 2277.4Q489.7 2277.1 493.0 2281.1Q496.4 2282.6 494.7 2285.5ZM486.6 2292.5V2308.1M486.6 2297.1l-4.6 -5.5M486.6 2298.9l4.1 -5.1M161.9 2291.1Q163.2 2296.5 156.9 2298.6Q150.3 2300.6 142.9 2297.1Q136.2 2295.4 136.1 2291.1Q137.3 2285.3 144.5 2282.2Q149.9 2278.2 154.7 2280.7Q161.7 2284.3 161.9 2291.1ZM148.7 2299.2V2318.0M148.7 2304.8l-5.5 -6.6M148.7 2307.0l5.0 -6.1M551.4 2304.3Q552.4 2308.2 548.2 2310.3Q541.2 2313.1 534.9 2311.4Q531.0 2308.5 533.2 2303.6Q533.7 2299.7 538.8 2298.5Q544.1 2295.4 548.5 2297.3Q552.6 2299.4 551.4 2304.3ZM542.5 2312.8V2329.9M542.5 2317.8l-5.0 -6.0M542.5 2319.9l4.5 -5.5M419.0 2317.7Q420.7 2320.9 414.9 2322.1Q411.1 2326.3 404.9 2325.6Q400.8 2326.6 399.8 2322.6Q395.8 2321.0 397.5 2317.4Q395.9 2314.4 399.9 2312.7Q401.2 2308.5 405.3 2308.8Q411.2 2308.6 414.6 2312.9Q420.5 2314.7 419.0 2317.7ZM406.6 2324.8V2341.5M406.6 2329.7l-4.9 -5.9M406.6 2331.7l4.4 -5.4M598.1 2292.0Q599.5 2296.9 592.3 2298.2Q590.3 2301.5 584.5 2298.8Q577.8 2300.2 573.9 2296.3Q569.8 2294.6 572.8 2290.5Q569.6 2285.6 573.6 2283.1Q575.4 2280.1 581.3 2282.5Q587.8 2280.8 591.8 2284.1Q599.2 2287.3 598.1 2292.0ZM583.2 2299.6V2319.7M583.2 2305.5l-5.9 -7.1M583.2 2307.8l5.3 -6.5M599.8 2304.2Q600.9 2308.1 596.8 2309.8Q594.4 2313.8 590.2 2312.6Q585.6 2312.0 583.9 2307.2Q579.4 2304.7 581.0 2301.7Q583.7 2296.9 590.3 2295.8Q594.1 2294.8 596.4 2298.6Q600.6 2300.5 599.8 2304.2ZM591.1 2311.2V2326.6M591.1 2315.7l-4.5 -5.4M591.1 2317.5l4.1 -5.0M24.1 2307.7Q24.9 2312.0 19.4 2313.8Q16.0 2316.3 11.0 2314.0Q6.9 2314.6 6.0 2311.3Q2.1 2308.8 4.0 2305.6Q3.9 2300.3 8.6 2298.7Q13.7 2296.6 18.5 2300.2Q24.3 2302.7 24.1 2307.7ZM13.0 2315.2V2331.9M13.0 2320.1l-4.9 -5.9M13.0 2322.1l4.4 -5.4M752.1 2290.1Q754.0 2294.2 749.7 2296.0Q748.1 2298.5 743.4 2296.5Q739.5 2297.4 737.0 2294.3Q731.2 2292.0 731.2 2288.5Q731.3 2285.9 737.1 2285.3Q739.8 2281.3 743.7 2281.8Q748.4 2280.4 749.8 2284.0Q754.1 2286.1 752.1 2290.1ZM742.2 2297.0V2312.4M742.2 2301.6l-4.5 -5.4M742.2 2303.4l4.1 -5.0M518.2 2293.7Q518.4 2298.2 514.8 2300.1Q510.4 2300.8 506.5 2297.6Q502.2 2297.1 502.8 2294.6Q502.9 2290.2 507.4 2287.6Q512.9 2285.6 517.6 2287.8Q520.3 2289.8 518.2 2293.7ZM511.3 2299.5V2312.3M511.3 2303.2l-3.8 -4.5M511.3 2304.7l3.4 -4.1M343.9 2317.8Q345.1 2322.0 340.5 2323.4Q332.6 2327.3 325.4 2325.6Q320.3 2322.2 322.5 2315.8Q323.3 2310.6 329.8 2308.6Q335.2 2304.5 340.0 2306.7Q344.8 2310.7 343.9 2317.8ZM334.0 2325.8V2345.3M334.0 2331.6l-5.7 -6.9M334.0 2333.9l5.2 -6.3M725.6 2308.5Q727.2 2313.5 721.1 2315.9Q718.6 2319.7 713.0 2317.7Q707.8 2318.4 705.2 2313.8Q699.5 2312.8 700.9 2309.6Q697.3 2305.4 701.9 2302.9Q704.5 2300.2 711.4 2302.0Q717.1 2298.7 720.5 2300.6Q726.8 2303.1 725.6 2308.5ZM712.7 2316.8V2334.4M712.7 2322.0l-5.2 -6.2M712.7 2324.1l4.6 -5.7M397.9 2289.6Q398.1 2292.4 393.8 2294.1Q390.5 2297.2 386.7 2296.8Q383.0 2294.4 382.9 2290.0Q383.3 2286.4 387.0 2285.0Q391.3 2283.0 394.7 2285.0Q398.7 2286.1 397.9 2289.6ZM389.7 2296.2V2308.4M389.7 2299.8l-3.6 -4.3M389.7 2301.2l3.2 -3.9M862.1 2310.9Q864.5 2315.4 861.3 2317.9Q854.7 2320.0 847.8 2317.7Q842.9 2315.1 843.8 2310.6Q843.9 2307.6 849.4 2306.7Q853.5 2303.2 857.9 2304.1Q862.1 2306.0 862.1 2310.9ZM854.0 2318.7V2333.9M854.0 2323.2l-4.5 -5.4M854.0 2325.0l4.0 -4.9M488.7 2282.3Q488.9 2287.1 483.8 2290.1Q480.6 2292.4 476.5 2290.0Q471.4 2290.5 470.3 2287.4Q468.8 2284.2 472.7 2280.8Q473.6 2278.0 477.2 2278.2Q480.8 2277.0 483.4 2279.3Q488.6 2279.8 488.7 2282.3ZM478.9 2290.3V2304.3M478.9 2294.4l-4.1 -5.0M478.9 2296.1l3.7 -4.6M650.1 2309.2Q652.8 2311.8 648.6 2312.5Q644.7 2318.4 638.2 2318.9Q634.1 2320.6 633.0 2315.6Q625.8 2313.3 626.0 2308.2Q623.9 2304.5 630.1 2302.7Q632.6 2297.5 638.8 2297.9Q645.4 2295.6 648.9 2299.9Q653.0 2303.3 650.1 2309.2ZM639.7 2317.1V2336.0M639.7 2322.7l-5.6 -6.7M639.7 2324.9l5.0 -6.1M334.1 2286.9Q333.9 2292.2 326.7 2295.3Q321.5 2298.5 315.8 2296.2Q311.4 2296.7 311.9 2292.7Q305.8 2289.3 307.6 2285.4Q311.2 2280.0 319.8 2278.9Q325.0 2277.0 327.9 2281.0Q334.7 2282.4 334.1 2286.9ZM320.6 2296.6V2314.5M320.6 2301.9l-5.2 -6.3M320.6 2304.0l4.7 -5.8M429.8 2294.1Q430.3 2297.7 425.5 2299.4Q424.0 2302.8 420.5 2301.6Q414.6 2302.7 411.7 2299.3Q408.1 2297.3 411.0 2293.7Q409.6 2291.0 413.9 2290.0Q416.9 2286.0 421.8 2286.3Q425.8 2286.1 426.9 2290.1Q431.3 2291.4 429.8 2294.1ZM420.3 2301.4V2317.0M420.3 2306.0l-4.6 -5.5M420.3 2307.8l4.1 -5.0M507.3 2312.1Q506.8 2317.2 500.5 2319.9Q495.6 2323.0 490.8 2320.7Q484.8 2317.4 484.6 2311.6Q484.5 2306.0 490.4 2304.0Q496.5 2302.1 502.3 2305.8Q508.0 2307.6 507.3 2312.1ZM495.8 2320.6V2337.4M495.8 2325.5l-4.9 -5.9M495.8 2327.5l4.5 -5.4M407.8 2289.0Q411.1 2293.6 405.3 2294.7Q401.1 2298.4 393.2 2296.1Q383.9 2295.1 380.0 2289.8Q377.1 2285.7 383.2 2282.3Q383.5 2277.4 389.3 2277.6Q394.6 2275.7 399.5 2279.8Q407.2 2283.5 407.8 2289.0ZM394.0 2296.5V2316.5M394.0 2302.4l-5.9 -7.1M394.0 2304.7l5.3 -6.5M448.6 2283.6Q449.3 2287.4 444.4 2288.9Q442.1 2292.1 438.0 2290.6Q431.8 2290.7 429.3 2286.8Q427.0 2282.8 431.0 2279.0Q432.1 2274.9 436.7 2275.2Q440.9 2274.2 444.0 2277.9Q449.0 2279.9 448.6 2283.6ZM438.8 2290.2V2305.5M438.8 2294.7l-4.5 -5.4M438.8 2296.5l4.0 -4.9M826.6 2315.8Q828.6 2318.8 824.0 2320.1Q821.7 2324.0 816.4 2323.5Q809.1 2325.4 805.6 2322.2Q801.2 2320.7 804.8 2316.4Q804.0 2312.3 809.6 2309.8Q812.8 2305.8 817.8 2306.9Q822.4 2304.0 823.7 2307.2Q828.5 2310.1 826.6 2315.8ZM816.1 2324.3V2342.7M816.1 2329.7l-5.4 -6.5M816.1 2331.9l4.9 -6.0M595.5 2305.1Q598.3 2311.1 594.5 2314.1Q592.8 2316.9 587.4 2313.7Q581.1 2316.4 577.2 2313.4Q572.6 2309.9 575.0 2304.1Q571.1 2299.9 575.0 2298.6Q578.3 2295.4 585.4 2297.5Q590.2 2296.6 592.5 2300.4Q597.0 2301.7 595.5 2305.1ZM585.6 2314.7V2334.0M585.6 2320.4l-5.7 -6.8M585.6 2322.6l5.1 -6.3M903.8 2298.7Q905.2 2301.8 901.5 2302.7Q899.1 2305.1 894.8 2303.5Q890.0 2304.1 888.2 2301.3Q884.8 2300.9 887.1 2298.7Q886.1 2295.8 890.0 2293.8Q891.6 2290.4 895.3 2290.8Q900.0 2290.1 902.4 2293.3Q905.8 2295.4 903.8 2298.7ZM895.6 2304.6V2319.4M895.6 2308.9l-4.4 -5.2M895.6 2310.7l3.9 -4.8M850.2 2321.9Q849.4 2325.2 842.5 2325.8Q837.3 2327.3 832.3 2325.0Q827.9 2322.8 828.8 2319.3Q828.2 2314.3 832.7 2312.5Q838.0 2311.3 843.3 2314.8Q849.9 2317.7 850.2 2321.9ZM837.9 2327.8V2344.1M837.9 2332.6l-4.8 -5.8M837.9 2334.5l4.3 -5.3M1005.0 2318.1Q1005.8 2322.5 999.8 2324.7Q994.7 2328.4 988.8 2326.7Q982.5 2325.8 981.8 2320.9Q978.1 2317.7 982.3 2314.9Q983.8 2310.4 990.2 2310.1Q995.6 2306.3 999.6 2308.8Q1005.7 2311.7 1005.0 2318.1ZM993.1 2327.8V2348.2M993.1 2333.8l-6.0 -7.2M993.1 2336.2l5.4 -6.6M857.8 2295.8Q860.4 2299.8 855.9 2301.8Q852.4 2304.7 846.0 2302.8Q841.2 2302.6 839.3 2298.8Q835.9 2295.6 838.3 2292.6Q840.7 2288.3 846.4 2288.0Q850.7 2286.1 853.0 2289.3Q858.5 2291.4 857.8 2295.8ZM846.9 2303.4V2319.6M846.9 2308.2l-4.8 -5.7M846.9 2310.1l4.3 -5.2M997.3 2295.5Q998.9 2298.5 995.7 2300.2Q991.9 2302.9 987.0 2302.0Q981.8 2303.1 980.9 2300.4Q979.2 2296.9 983.1 2293.0Q984.8 2289.2 989.1 2289.0Q994.0 2287.8 996.7 2291.0Q999.6 2292.2 997.3 2295.5ZM989.8 2302.8V2317.0M989.8 2306.9l-4.2 -5.0M989.8 2308.6l3.8 -4.6M1091.4 2315.9Q1094.3 2321.8 1089.4 2324.6Q1082.1 2326.5 1073.5 2322.8Q1066.8 2321.6 1067.0 2317.4Q1067.6 2310.8 1074.6 2307.0Q1080.9 2304.2 1086.6 2307.6Q1092.3 2310.3 1091.4 2315.9ZM1079.7 2325.7V2346.4M1079.7 2331.8l-6.1 -7.3M1079.7 2334.2l5.5 -6.7M1095.7 2316.9Q1097.2 2321.2 1091.7 2323.2Q1085.8 2325.6 1079.0 2323.4Q1072.8 2320.9 1072.6 2316.2Q1072.7 2312.3 1078.8 2310.7Q1084.1 2309.5 1089.5 2312.1Q1095.6 2313.7 1095.7 2316.9ZM1084.1 2324.1V2339.8M1084.1 2328.7l-4.6 -5.5M1084.1 2330.6l4.2 -5.1M991.7 2314.3Q992.4 2318.9 987.6 2321.8Q986.8 2324.2 983.5 2322.0Q979.1 2322.4 976.2 2319.1Q972.3 2318.5 973.6 2316.3Q972.2 2313.9 976.1 2312.4Q978.4 2309.2 982.6 2309.5Q987.3 2308.6 989.2 2311.4Q993.5 2311.9 991.7 2314.3ZM982.1 2322.1V2336.0M982.1 2326.2l-4.1 -4.9M982.1 2327.8l3.7 -4.5M1098.8 2297.4Q1100.5 2301.8 1095.0 2303.7Q1091.0 2306.9 1084.7 2305.0Q1079.1 2305.2 1077.6 2301.3Q1074.3 2296.6 1077.6 2292.3Q1079.8 2288.9 1085.6 2290.0Q1089.7 2288.3 1092.2 2291.3Q1098.6 2293.4 1098.8 2297.4ZM1086.7 2305.0V2321.5M1086.7 2309.9l-4.9 -5.8M1086.7 2311.8l4.4 -5.3M976.2 2309.1Q976.8 2314.9 970.0 2317.9Q964.3 2320.0 957.8 2316.6Q949.5 2315.7 948.3 2311.5Q948.0 2304.6 955.5 2300.3Q960.9 2297.1 967.3 2300.4Q974.9 2303.1 976.2 2309.1ZM962.9 2319.0V2339.3M962.9 2325.0l-6.0 -7.2M962.9 2327.4l5.4 -6.6M956.5 2303.5Q957.0 2306.5 952.1 2307.6Q949.9 2310.8 946.0 2309.9Q942.0 2310.2 940.4 2306.6Q937.2 2305.9 939.0 2303.7Q936.6 2299.0 939.6 2296.5Q942.2 2294.0 947.1 2296.3Q952.7 2295.1 955.1 2298.1Q959.1 2300.1 956.5 2303.5ZM946.6 2309.9V2324.8M946.6 2314.3l-4.4 -5.2M946.6 2316.0l3.9 -4.8M961.7 2295.3Q963.5 2299.9 960.1 2302.7Q955.3 2305.5 949.7 2303.5Q943.6 2303.7 942.9 2300.1Q940.5 2296.2 945.1 2292.5Q946.8 2288.8 952.1 2289.1Q956.3 2286.5 959.0 2289.1Q962.8 2290.7 961.7 2295.3ZM953.6 2304.0V2320.2M953.6 2308.8l-4.8 -5.7M953.6 2310.7l4.3 -5.2M977.6 2326.5Q979.4 2331.7 973.9 2334.1Q968.4 2336.6 961.5 2333.8Q956.3 2332.4 956.1 2328.0Q956.1 2322.9 961.2 2319.7Q967.1 2318.0 972.3 2320.9Q978.3 2322.7 977.6 2326.5ZM965.7 2335.7V2354.9M965.7 2341.3l-5.6 -6.8M965.7 2343.6l5.1 -6.2M1079.1 2293.0Q1080.8 2297.0 1077.0 2298.8Q1075.3 2301.8 1071.0 2300.1Q1066.9 2300.2 1064.7 2296.5Q1061.1 2294.9 1062.4 2292.2Q1060.8 2289.2 1064.3 2288.1Q1066.8 2284.5 1071.1 2285.3Q1074.9 2285.6 1076.3 2289.8Q1080.3 2290.9 1079.1 2293.0ZM1070.4 2299.3V2313.1M1070.4 2303.4l-4.0 -4.9M1070.4 2305.0l3.6 -4.4M763.2 2283.9Q767.4 2288.4 763.4 2290.0Q761.2 2295.5 754.2 2294.3Q748.3 2294.6 744.4 2288.7Q737.4 2287.2 738.2 2283.4Q735.5 2278.2 741.6 2275.4Q743.5 2270.2 750.0 2271.7Q757.2 2269.9 761.8 2274.9Q766.2 2278.2 763.2 2283.9ZM752.1 2292.8V2313.9M752.1 2299.0l-6.2 -7.4M752.1 2301.5l5.6 -6.8M991.2 2304.5Q991.5 2308.0 985.3 2308.8Q982.9 2313.4 978.7 2312.5Q971.0 2311.7 967.8 2306.2Q964.3 2303.0 968.8 2299.8Q971.9 2294.6 978.9 2293.8Q983.4 2292.9 985.8 2297.4Q991.9 2300.2 991.2 2304.5ZM979.3 2310.9V2327.7M979.3 2315.8l-5.0 -6.0M979.3 2317.8l4.5 -5.5M914.9 2323.7Q916.6 2327.2 911.1 2329.1Q907.9 2332.5 902.1 2331.5Q898.3 2332.7 897.0 2329.4Q890.8 2326.7 891.0 2322.7Q890.6 2319.3 896.7 2318.5Q897.5 2314.0 901.1 2315.0Q906.8 2315.3 910.5 2320.4Q916.2 2321.3 914.9 2323.7ZM902.9 2332.1V2348.9M902.9 2337.0l-4.9 -5.9M902.9 2339.0l4.4 -5.4M1120.3 2318.3Q1122.7 2323.7 1118.6 2326.5Q1115.2 2330.5 1109.3 2328.2Q1102.9 2326.6 1100.6 2320.8Q1096.3 2317.1 1099.5 2314.3Q1101.4 2310.7 1108.2 2311.3Q1113.8 2308.2 1117.7 2310.6Q1122.0 2312.9 1120.3 2318.3ZM1110.6 2327.3V2345.5M1110.6 2332.7l-5.4 -6.4M1110.6 2334.8l4.8 -5.9M1049.0 2307.8Q1050.7 2312.0 1047.3 2313.6Q1042.9 2315.9 1037.4 2313.6Q1032.7 2313.7 1032.3 2310.3Q1029.8 2308.0 1033.2 2305.3Q1033.3 2301.2 1037.4 2300.2Q1042.2 2298.6 1046.3 2301.5Q1050.1 2303.8 1049.0 2307.8ZM1040.8 2313.9V2328.3M1040.8 2318.2l-4.2 -5.1M1040.8 2319.8l3.8 -4.6M902.3 2310.5Q901.6 2314.3 896.3 2315.5Q892.6 2317.0 889.1 2314.4Q885.1 2313.0 885.3 2309.7Q883.9 2305.5 887.2 2303.2Q891.1 2301.2 895.9 2303.5Q901.3 2306.2 902.3 2310.5ZM892.9 2316.3V2331.1M892.9 2320.7l-4.4 -5.2M892.9 2322.4l3.9 -4.8M1084.2 2307.0Q1085.0 2313.4 1078.3 2316.9Q1070.5 2319.5 1062.9 2316.0Q1058.3 2312.5 1060.4 2306.5Q1059.1 2303.0 1064.1 2302.1Q1068.9 2299.4 1074.7 2301.2Q1082.5 2302.7 1084.2 2307.0ZM1070.9 2316.7V2335.3M1070.9 2322.2l-5.5 -6.6M1070.9 2324.4l4.9 -6.0M774.8 2305.3Q775.1 2312.1 767.0 2315.3Q761.6 2319.8 755.0 2316.6Q749.3 2315.0 749.0 2308.3Q744.7 2305.1 748.2 2302.1Q747.7 2295.7 753.4 2294.4Q760.3 2293.3 766.7 2298.6Q774.9 2300.7 774.8 2305.3ZM759.4 2315.2V2336.2M759.4 2321.4l-6.2 -7.4M759.4 2323.8l5.6 -6.8M1070.9 2301.3Q1073.3 2304.6 1070.1 2306.4Q1066.5 2310.8 1061.0 2310.6Q1057.2 2310.3 1056.4 2305.6Q1051.1 2303.9 1052.0 2301.1Q1050.1 2296.8 1054.9 2295.3Q1056.4 2293.3 1061.4 2295.8Q1068.1 2294.0 1072.1 2296.5Q1074.6 2297.8 1070.9 2301.3ZM1062.9 2309.4V2324.9M1062.9 2313.9l-4.6 -5.5M1062.9 2315.8l4.1 -5.0M1008.2 2294.6Q1010.0 2298.3 1005.0 2300.6Q1002.6 2304.3 997.3 2303.5Q992.9 2305.1 990.8 2301.8Q986.4 2299.5 987.7 2295.4Q986.2 2291.6 990.5 2290.0Q990.9 2284.9 994.6 2285.7Q1001.5 2283.4 1006.1 2287.7Q1010.7 2289.5 1008.2 2294.6ZM997.2 2304.7V2323.3M997.2 2310.2l-5.5 -6.6M997.2 2312.3l4.9 -6.0M1080.4 2327.6Q1080.3 2330.0 1074.4 2330.3Q1072.3 2334.7 1068.7 2334.5Q1064.0 2333.9 1062.0 2329.2Q1058.6 2326.9 1060.8 2324.1Q1061.5 2319.7 1066.4 2318.7Q1070.6 2317.0 1074.2 2320.2Q1080.1 2323.1 1080.4 2327.6ZM1069.4 2333.0V2347.8M1069.4 2337.4l-4.3 -5.2M1069.4 2339.1l3.9 -4.8M1086.1 2305.5Q1088.6 2309.6 1085.5 2311.6Q1082.2 2313.8 1076.6 2311.8Q1071.7 2311.8 1070.0 2308.6Q1068.1 2305.4 1071.4 2302.4Q1073.3 2299.5 1077.7 2300.0Q1082.9 2298.4 1085.5 2300.7Q1088.6 2302.1 1086.1 2305.5ZM1077.9 2312.8V2327.6M1077.9 2317.1l-4.4 -5.2M1077.9 2318.9l3.9 -4.8M832.5 2307.3Q832.7 2310.6 826.2 2311.6Q823.6 2314.5 819.1 2313.1Q813.5 2313.3 811.5 2309.9Q806.7 2306.9 809.1 2303.7Q812.4 2300.2 820.0 2299.9Q824.6 2298.2 826.9 2300.9Q833.1 2303.3 832.5 2307.3ZM820.2 2313.9V2330.0M820.2 2318.7l-4.7 -5.7M820.2 2320.5l4.2 -5.2M943.4 2306.0Q946.1 2309.2 941.8 2311.1Q939.6 2314.5 933.8 2313.8Q927.4 2314.9 924.0 2311.7Q920.3 2310.6 923.4 2307.4Q920.6 2302.5 924.3 2299.7Q928.4 2295.9 934.9 2297.7Q939.3 2297.5 940.4 2302.2Q945.2 2303.1 943.4 2306.0ZM933.0 2314.8V2332.2M933.0 2319.9l-5.1 -6.1M933.0 2322.0l4.6 -5.6" fill="#2a5cae" fill-opacity=".5" stroke="#b6c9ef" stroke-width="1.5" stroke-linejoin="round" opacity=".95"/>
<path d="M150.7 2330.1q5.2 -10.4 10.4 0q5.2 -12.5 10.4 0q5.2 -9.4 10.4 0M211.4 2313.9q3.0 -6.1 6.1 0q3.0 -7.3 6.1 0q3.0 -5.5 6.1 0M761.5 2323.4q5.9 -11.9 11.9 0q5.9 -14.3 11.9 0q5.9 -10.7 11.9 0M1007.9 2323.3q4.2 -8.4 8.4 0q4.2 -10.1 8.4 0q4.2 -7.6 8.4 0M309.9 2328.8q6.3 -12.6 12.6 0q6.3 -15.1 12.6 0q6.3 -11.4 12.6 0M99.4 2318.4q5.7 -11.3 11.3 0q5.7 -13.6 11.3 0q5.7 -10.2 11.3 0M146.6 2329.9q3.9 -7.7 7.7 0q3.9 -9.3 7.7 0q3.9 -7.0 7.7 0M619.4 2344.4q3.1 -6.3 6.3 0q3.1 -7.5 6.3 0q3.1 -5.6 6.3 0M772.5 2325.9q6.0 -12.0 12.0 0q6.0 -14.4 12.0 0q6.0 -10.8 12.0 0M391.8 2341.9q6.4 -12.8 12.8 0q6.4 -15.3 12.8 0q6.4 -11.5 12.8 0M78.5 2316.1q3.9 -7.7 7.7 0q3.9 -9.3 7.7 0q3.9 -6.9 7.7 0M913.0 2341.1q5.7 -11.5 11.5 0q5.7 -13.7 11.5 0q5.7 -10.3 11.5 0M954.9 2325.9q6.1 -12.3 12.3 0q6.1 -14.7 12.3 0q6.1 -11.1 12.3 0M320.7 2304.8q5.6 -11.1 11.1 0q5.6 -13.3 11.1 0q5.6 -10.0 11.1 0M491.1 2301.2q5.8 -11.6 11.6 0q5.8 -14.0 11.6 0q5.8 -10.5 11.6 0M147.8 2311.0q3.3 -6.6 6.6 0q3.3 -7.9 6.6 0q3.3 -6.0 6.6 0M681.0 2307.6q4.1 -8.2 8.2 0q4.1 -9.8 8.2 0q4.1 -7.4 8.2 0M610.9 2343.0q3.1 -6.1 6.1 0q3.1 -7.4 6.1 0q3.1 -5.5 6.1 0M1018.9 2333.2q3.9 -7.8 7.8 0q3.9 -9.4 7.8 0q3.9 -7.0 7.8 0M921.1 2328.7q4.6 -9.2 9.2 0q4.6 -11.1 9.2 0q4.6 -8.3 9.2 0M262.2 2320.0q4.2 -8.5 8.5 0q4.2 -10.1 8.5 0q4.2 -7.6 8.5 0M103.3 2308.1q4.0 -7.9 7.9 0q4.0 -9.5 7.9 0q4.0 -7.1 7.9 0M511.3 2326.4q5.7 -11.3 11.3 0q5.7 -13.6 11.3 0q5.7 -10.2 11.3 0M121.0 2305.5q6.1 -12.2 12.2 0q6.1 -14.6 12.2 0q6.1 -11.0 12.2 0M595.8 2310.2q3.8 -7.6 7.6 0q3.8 -9.1 7.6 0q3.8 -6.8 7.6 0M735.7 2320.8q4.4 -8.8 8.8 0q4.4 -10.5 8.8 0q4.4 -7.9 8.8 0M1043.0 2300.8q5.2 -10.4 10.4 0q5.2 -12.5 10.4 0q5.2 -9.4 10.4 0M763.3 2326.9q5.1 -10.2 10.2 0q5.1 -12.3 10.2 0q5.1 -9.2 10.2 0M39.8 2343.7q3.2 -6.4 6.4 0q3.2 -7.6 6.4 0q3.2 -5.7 6.4 0M399.6 2318.0q5.9 -11.9 11.9 0q5.9 -14.2 11.9 0q5.9 -10.7 11.9 0M787.1 2337.9q5.0 -10.0 10.0 0q5.0 -11.9 10.0 0q5.0 -9.0 10.0 0M1084.4 2314.4q4.4 -8.8 8.8 0q4.4 -10.6 8.8 0q4.4 -7.9 8.8 0M617.2 2314.6q3.5 -7.0 7.0 0q3.5 -8.4 7.0 0q3.5 -6.3 7.0 0M748.2 2315.9q6.0 -12.1 12.1 0q6.0 -14.5 12.1 0q6.0 -10.9 12.1 0M729.4 2300.5q3.4 -6.8 6.8 0q3.4 -8.1 6.8 0q3.4 -6.1 6.8 0M206.2 2314.6q3.7 -7.4 7.4 0q3.7 -8.9 7.4 0q3.7 -6.7 7.4 0M736.1 2310.1q4.5 -8.9 8.9 0q4.5 -10.7 8.9 0q4.5 -8.1 8.9 0M436.8 2344.9q4.6 -9.2 9.2 0q4.6 -11.0 9.2 0q4.6 -8.3 9.2 0M51.4 2344.1q6.4 -12.8 12.8 0q6.4 -15.4 12.8 0q6.4 -11.5 12.8 0M44.3 2339.0q5.2 -10.3 10.3 0q5.2 -12.4 10.3 0q5.2 -9.3 10.3 0M1009.7 2328.1q5.2 -10.4 10.4 0q5.2 -12.5 10.4 0q5.2 -9.4 10.4 0M887.0 2301.6q3.4 -6.7 6.7 0q3.4 -8.0 6.7 0q3.4 -6.0 6.7 0M133.9 2300.6q3.8 -7.7 7.7 0q3.8 -9.2 7.7 0q3.8 -6.9 7.7 0M43.4 2305.1q4.2 -8.4 8.4 0q4.2 -10.1 8.4 0q4.2 -7.6 8.4 0M183.7 2302.7q6.4 -12.7 12.7 0q6.4 -15.3 12.7 0q6.4 -11.4 12.7 0M1013.2 2340.6q3.3 -6.6 6.6 0q3.3 -7.9 6.6 0q3.3 -5.9 6.6 0M649.3 2341.9q4.5 -9.1 9.1 0q4.5 -10.9 9.1 0q4.5 -8.2 9.1 0M562.8 2339.8q6.2 -12.4 12.4 0q6.2 -14.9 12.4 0q6.2 -11.2 12.4 0M635.1 2312.3q5.6 -11.2 11.2 0q5.6 -13.4 11.2 0q5.6 -10.0 11.2 0M814.4 2312.9q4.6 -9.2 9.2 0q4.6 -11.0 9.2 0q4.6 -8.3 9.2 0M764.3 2310.0q4.4 -8.7 8.7 0q4.4 -10.4 8.7 0q4.4 -7.8 8.7 0M603.4 2316.5q6.1 -12.2 12.2 0q6.1 -14.7 12.2 0q6.1 -11.0 12.2 0M334.1 2321.5q5.9 -11.7 11.7 0q5.9 -14.1 11.7 0q5.9 -10.6 11.7 0M34.1 2315.0q3.7 -7.3 7.3 0q3.7 -8.8 7.3 0q3.7 -6.6 7.3 0M600.5 2343.6q4.4 -8.8 8.8 0q4.4 -10.5 8.8 0q4.4 -7.9 8.8 0M1016.6 2307.3q6.3 -12.7 12.7 0q6.3 -15.2 12.7 0q6.3 -11.4 12.7 0M356.3 2314.6q3.9 -7.9 7.9 0q3.9 -9.5 7.9 0q3.9 -7.1 7.9 0M966.2 2309.7q3.2 -6.4 6.4 0q3.2 -7.7 6.4 0q3.2 -5.8 6.4 0M24.0 2324.8q5.1 -10.2 10.2 0q5.1 -12.3 10.2 0q5.1 -9.2 10.2 0M382.8 2329.6q4.8 -9.6 9.6 0q4.8 -11.5 9.6 0q4.8 -8.7 9.6 0M917.8 2315.9q5.7 -11.3 11.3 0q5.7 -13.6 11.3 0q5.7 -10.2 11.3 0M573.0 2344.5q5.4 -10.7 10.7 0q5.4 -12.9 10.7 0q5.4 -9.7 10.7 0M1027.3 2318.8q5.3 -10.7 10.7 0q5.3 -12.8 10.7 0q5.3 -9.6 10.7 0M154.4 2309.1q5.1 -10.3 10.3 0q5.1 -12.3 10.3 0q5.1 -9.2 10.3 0M304.4 2337.8q3.3 -6.7 6.7 0q3.3 -8.0 6.7 0q3.3 -6.0 6.7 0M941.9 2341.5q6.5 -13.0 13.0 0q6.5 -15.6 13.0 0q6.5 -11.7 13.0 0M295.6 2328.4q5.2 -10.4 10.4 0q5.2 -12.5 10.4 0q5.2 -9.4 10.4 0M773.9 2318.6q3.4 -6.7 6.7 0q3.4 -8.1 6.7 0q3.4 -6.1 6.7 0M451.5 2324.7q3.4 -6.8 6.8 0q3.4 -8.2 6.8 0q3.4 -6.1 6.8 0M437.2 2344.7q3.5 -7.0 7.0 0q3.5 -8.5 7.0 0q3.5 -6.3 7.0 0" fill="none" stroke="#b6c9ef" stroke-width="1.4" opacity=".85"/>
<path d="M295.5 2321.1L293.9 2329.6 L294.8 2325.8L292.2 2338.2 L294.1 2334.3L290.6 2346.8 L293.3 2342.9L289.0 2355.4 L292.6 2351.5L295.5 2355.4L298.4 2351.5 L302.0 2355.4L297.6 2342.9 L300.4 2346.8L296.9 2334.3 L298.7 2338.2L296.2 2325.8 L297.1 2329.6ZM164.2 2306.9L162.5 2314.0 L163.5 2310.8L160.8 2321.0 L162.7 2317.8L159.0 2328.1 L162.0 2324.9L157.3 2335.2 L161.2 2332.0L155.6 2342.2 L160.4 2339.1L153.8 2349.3 L159.7 2346.1L152.1 2356.4 L158.9 2353.2L164.2 2356.4L169.6 2353.2 L176.4 2356.4L168.8 2346.1 L174.6 2349.3L168.1 2339.1 L172.9 2342.2L167.3 2332.0 L171.2 2335.2L166.5 2324.9 L169.4 2328.1L165.8 2317.8 L167.7 2321.0L165.0 2310.8 L166.0 2314.0ZM242.9 2302.7L241.5 2310.1 L242.3 2306.8L240.1 2317.4 L241.7 2314.1L238.7 2324.8 L241.1 2321.5L237.3 2332.1 L240.5 2328.8L235.9 2339.5 L239.8 2336.2L242.9 2339.5L246.0 2336.2 L249.9 2339.5L245.4 2328.8 L248.5 2332.1L244.8 2321.5 L247.1 2324.8L244.2 2314.1 L245.7 2317.4L243.5 2306.8 L244.3 2310.1ZM125.5 2280.7L123.7 2288.5 L124.7 2285.0L121.9 2296.3 L123.9 2292.7L120.0 2304.0 L123.1 2300.5L118.2 2311.8 L122.3 2308.3L116.3 2319.6 L121.5 2316.1L125.5 2319.6L129.6 2316.1 L134.7 2319.6L128.8 2308.3 L132.9 2311.8L128.0 2300.5 L131.0 2304.0L127.2 2292.7 L129.2 2296.3L126.3 2285.0 L127.4 2288.5ZM295.9 2290.2L294.1 2297.5 L295.1 2294.2L292.3 2304.8 L294.3 2301.5L290.6 2312.1 L293.5 2308.8L288.8 2319.4 L292.8 2316.1L287.0 2326.7 L292.0 2323.4L285.2 2334.0 L291.2 2330.7L283.4 2341.3 L290.4 2338.0L281.7 2348.6 L289.6 2345.3L295.9 2348.6L302.1 2345.3 L310.1 2348.6L301.4 2338.0 L308.3 2341.3L300.6 2330.7 L306.6 2334.0L299.8 2323.4 L304.8 2326.7L299.0 2316.1 L303.0 2319.4L298.2 2308.8 L301.2 2312.1L297.5 2301.5 L299.4 2304.8L296.7 2294.2 L297.7 2297.5ZM259.3 2307.8L257.8 2315.4 L258.6 2311.9L256.2 2323.0 L258.0 2319.5L254.7 2330.6 L257.3 2327.1L253.2 2338.2 L256.6 2334.7L251.6 2345.8 L255.9 2342.4L259.3 2345.8L262.7 2342.4 L267.0 2345.8L262.0 2334.7 L265.5 2338.2L261.3 2327.1 L263.9 2330.6L260.7 2319.5 L262.4 2323.0L260.0 2311.9 L260.8 2315.4ZM166.3 2312.4L164.6 2320.0 L165.5 2316.6L162.9 2327.7 L164.8 2324.2L161.2 2335.3 L164.0 2331.8L159.5 2342.9 L163.3 2339.5L157.8 2350.5 L162.6 2347.1L166.3 2350.5L170.0 2347.1 L174.7 2350.5L169.2 2339.5 L173.0 2342.9L168.5 2331.8 L171.3 2335.3L167.7 2324.2 L169.6 2327.7L167.0 2316.6 L167.9 2320.0ZM181.1 2310.7L179.4 2319.4 L180.4 2315.5L177.7 2328.1 L179.6 2324.2L176.0 2336.8 L178.9 2332.9L174.3 2345.5 L178.1 2341.6L181.1 2345.5L184.1 2341.6 L187.9 2345.5L183.3 2332.9 L186.2 2336.8L182.6 2324.2 L184.5 2328.1L181.8 2315.5 L182.8 2319.4ZM181.2 2321.5L179.4 2329.4 L180.4 2325.8L177.7 2337.4 L179.7 2333.8L176.0 2345.3 L178.9 2341.7L174.2 2353.3 L178.1 2349.7L172.5 2361.2 L177.4 2357.6L170.8 2369.2 L176.6 2365.6L181.2 2369.2L185.8 2365.6 L191.6 2369.2L185.0 2357.6 L189.9 2361.2L184.2 2349.7 L188.1 2353.3L183.5 2341.7 L186.4 2345.3L182.7 2333.8 L184.6 2337.4L181.9 2325.8 L182.9 2329.4ZM221.0 2284.8L219.4 2291.9 L220.3 2288.7L217.8 2298.9 L219.6 2295.8L216.2 2306.0 L218.9 2302.8L214.5 2313.0 L218.2 2309.9L212.9 2320.1 L217.5 2316.9L211.3 2327.2 L216.7 2324.0L209.7 2334.2 L216.0 2331.0L208.1 2341.3 L215.3 2338.1L221.0 2341.3L226.7 2338.1 L233.9 2341.3L226.0 2331.0 L232.3 2334.2L225.3 2324.0 L230.7 2327.2L224.6 2316.9 L229.1 2320.1L223.8 2309.9 L227.5 2313.0L223.1 2302.8 L225.9 2306.0L222.4 2295.8 L224.2 2298.9L221.7 2288.7 L222.6 2291.9ZM236.9 2304.8L235.5 2311.9 L236.3 2308.7L234.1 2319.1 L235.7 2315.9L232.7 2326.3 L235.1 2323.0L231.2 2333.4 L234.4 2330.2L229.8 2340.6 L233.8 2337.4L228.4 2347.8 L233.2 2344.6L227.0 2355.0 L232.6 2351.7L236.9 2355.0L241.3 2351.7 L246.9 2355.0L240.7 2344.6 L245.5 2347.8L240.1 2337.4 L244.1 2340.6L239.5 2330.2 L242.6 2333.4L238.8 2323.0 L241.2 2326.3L238.2 2315.9 L239.8 2319.1L237.6 2308.7 L238.4 2311.9ZM249.1 2289.2L247.5 2297.5 L248.4 2293.7L245.9 2305.8 L247.7 2302.1L244.3 2314.2 L247.0 2310.4L242.7 2322.5 L246.3 2318.8L241.1 2330.9 L245.6 2327.1L249.1 2330.9L252.6 2327.1 L257.1 2330.9L251.9 2318.8 L255.5 2322.5L251.2 2310.4 L253.9 2314.2L250.5 2302.1 L252.3 2305.8L249.8 2293.7 L250.7 2297.5ZM101.6 2293.9L99.8 2301.1 L100.8 2297.9L98.0 2308.4 L100.0 2305.1L96.2 2315.7 L99.2 2312.4L94.4 2322.9 L98.4 2319.7L92.6 2330.2 L97.6 2326.9L90.8 2337.4 L96.8 2334.2L89.0 2344.7 L96.0 2341.4L87.2 2351.9 L95.2 2348.7L101.6 2351.9L107.9 2348.7 L115.9 2351.9L107.1 2341.4 L114.1 2344.7L106.3 2334.2 L112.3 2337.4L105.5 2326.9 L110.5 2330.2L104.7 2319.7 L108.7 2322.9L103.9 2312.4 L106.9 2315.7L103.1 2305.1 L105.1 2308.4L102.3 2297.9 L103.3 2301.1ZM271.5 2282.0L269.7 2289.9 L270.7 2286.4L267.9 2297.8 L270.0 2294.2L266.2 2305.7 L269.2 2302.1L264.4 2313.5 L268.4 2310.0L262.6 2321.4 L267.6 2317.9L271.5 2321.4L275.5 2317.9 L280.5 2321.4L274.7 2310.0 L278.7 2313.5L273.9 2302.1 L276.9 2305.7L273.1 2294.2 L275.1 2297.8L272.3 2286.4 L273.3 2289.9ZM327.6 2278.9L325.9 2286.9 L326.9 2283.3L324.2 2295.0 L326.1 2291.3L322.5 2303.0 L325.4 2299.4L320.8 2311.0 L324.6 2307.4L319.1 2319.1 L323.9 2315.4L327.6 2319.1L331.4 2315.4 L336.2 2319.1L330.7 2307.4 L334.5 2311.0L329.9 2299.4 L332.8 2303.0L329.1 2291.3 L331.1 2295.0L328.4 2283.3 L329.4 2286.9ZM187.6 2324.0L186.2 2331.1 L187.0 2327.9L184.8 2338.1 L186.4 2335.0L183.5 2345.2 L185.8 2342.0L182.1 2352.2 L185.2 2349.0L180.7 2359.3 L184.6 2356.1L187.6 2359.3L190.6 2356.1 L194.4 2359.3L190.0 2349.0 L193.0 2352.2L189.4 2342.0 L191.6 2345.2L188.8 2335.0 L190.3 2338.1L188.2 2327.9 L188.9 2331.1ZM169.0 2290.6L167.4 2298.7 L168.3 2295.1L165.8 2306.7 L167.6 2303.1L164.2 2314.8 L166.9 2311.1L162.6 2322.8 L166.2 2319.2L161.0 2330.9 L165.5 2327.2L169.0 2330.9L172.5 2327.2 L177.0 2330.9L171.8 2319.2 L175.4 2322.8L171.1 2311.1 L173.8 2314.8L170.4 2303.1 L172.2 2306.7L169.7 2295.1 L170.6 2298.7ZM223.5 2310.8L222.0 2318.6 L222.8 2315.1L220.5 2326.4 L222.2 2322.9L219.0 2334.2 L221.5 2330.7L217.6 2341.9 L220.9 2338.4L216.1 2349.7 L220.2 2346.2L223.5 2349.7L226.7 2346.2 L230.9 2349.7L226.1 2338.4 L229.4 2341.9L225.4 2330.7 L227.9 2334.2L224.8 2322.9 L226.4 2326.4L224.1 2315.1 L225.0 2318.6ZM284.7 2318.1L283.0 2325.9 L283.9 2322.4L281.3 2333.6 L283.2 2330.1L279.7 2341.4 L282.5 2337.9L278.0 2349.2 L281.7 2345.7L276.3 2357.0 L281.0 2353.5L274.6 2364.8 L280.3 2361.3L284.7 2364.8L289.1 2361.3 L294.7 2364.8L288.4 2353.5 L293.1 2357.0L287.6 2345.7 L291.4 2349.2L286.9 2337.9 L289.7 2341.4L286.2 2330.1 L288.0 2333.6L285.4 2322.4 L286.4 2325.9ZM200.2 2272.8L198.4 2280.1 L199.4 2276.8L196.5 2287.5 L198.6 2284.2L194.7 2294.8 L197.8 2291.5L192.9 2302.2 L197.0 2298.9L191.1 2309.5 L196.2 2306.2L189.2 2316.9 L195.4 2313.6L187.4 2324.3 L194.6 2320.9L185.6 2331.6 L193.8 2328.3L200.2 2331.6L206.6 2328.3 L214.8 2331.6L205.8 2320.9 L213.0 2324.3L205.0 2313.6 L211.2 2316.9L204.2 2306.2 L209.3 2309.5L203.4 2298.9 L207.5 2302.2L202.6 2291.5 L205.7 2294.8L201.8 2284.2 L203.9 2287.5L201.0 2276.8 L202.0 2280.1ZM186.7 2268.7L185.0 2276.2 L185.9 2272.8L183.2 2283.8 L185.2 2280.4L181.5 2291.4 L184.4 2288.0L179.7 2298.9 L183.6 2295.5L178.0 2306.5 L182.9 2303.1L176.2 2314.1 L182.1 2310.7L174.5 2321.6 L181.3 2318.2L186.7 2321.6L192.1 2318.2 L198.9 2321.6L191.3 2310.7 L197.2 2314.1L190.5 2303.1 L195.4 2306.5L189.8 2295.5 L193.7 2298.9L189.0 2288.0 L191.9 2291.4L188.2 2280.4 L190.2 2283.8L187.5 2272.8 L188.5 2276.2ZM153.3 2304.0L151.7 2311.6 L152.6 2308.2L150.1 2319.2 L151.9 2315.8L148.5 2326.8 L151.2 2323.4L146.8 2334.4 L150.5 2331.0L145.2 2342.0 L149.8 2338.6L143.6 2349.6 L149.1 2346.2L153.3 2349.6L157.6 2346.2 L163.1 2349.6L156.9 2338.6 L161.5 2342.0L156.2 2331.0 L159.8 2334.4L155.5 2323.4 L158.2 2326.8L154.8 2315.8 L156.6 2319.2L154.1 2308.2 L155.0 2311.6ZM289.0 2321.8L286.9 2330.5 L288.1 2326.6L284.8 2339.1 L287.1 2335.2L282.7 2347.8 L286.2 2343.9L280.6 2356.4 L285.3 2352.5L289.0 2356.4L292.7 2352.5 L297.4 2356.4L291.7 2343.9 L295.3 2347.8L290.8 2335.2 L293.2 2339.1L289.9 2326.6 L291.1 2330.5ZM175.9 2284.0L174.3 2291.7 L175.2 2288.2L172.6 2299.5 L174.5 2296.0L171.0 2307.2 L173.7 2303.7L169.3 2315.0 L173.0 2311.5L167.7 2322.7 L172.3 2319.2L175.9 2322.7L179.5 2319.2 L184.2 2322.7L178.8 2311.5 L182.5 2315.0L178.1 2303.7 L180.9 2307.2L177.4 2296.0 L179.2 2299.5L176.6 2288.2 L177.6 2291.7ZM322.9 2259.7L321.3 2267.0 L322.2 2263.7L319.7 2274.4 L321.5 2271.1L318.2 2281.7 L320.8 2278.4L316.6 2289.1 L320.1 2285.8L315.0 2296.4 L319.4 2293.1L313.4 2303.7 L318.7 2300.4L311.9 2311.1 L318.0 2307.8L310.3 2318.4 L317.3 2315.1L322.9 2318.4L328.4 2315.1 L335.4 2318.4L327.7 2307.8 L333.8 2311.1L327.0 2300.4 L332.3 2303.7L326.3 2293.1 L330.7 2296.4L325.6 2285.8 L329.1 2289.1L324.9 2278.4 L327.6 2281.7L324.2 2271.1 L326.0 2274.4L323.5 2263.7 L324.4 2267.0ZM239.9 2294.2L238.1 2301.4 L239.1 2298.2L236.4 2308.7 L238.3 2305.4L234.6 2315.9 L237.5 2312.7L232.9 2323.1 L236.8 2319.9L231.1 2330.4 L236.0 2327.1L229.3 2337.6 L235.2 2334.3L239.9 2337.6L244.5 2334.3 L250.4 2337.6L243.7 2327.1 L248.6 2330.4L242.9 2319.9 L246.9 2323.1L242.2 2312.7 L245.1 2315.9L241.4 2305.4 L243.4 2308.7L240.6 2298.2 L241.6 2301.4ZM155.8 2283.9L154.0 2291.4 L155.0 2288.0L152.1 2298.8 L154.2 2295.5L150.3 2306.3 L153.4 2302.9L148.4 2313.8 L152.6 2310.4L146.6 2321.2 L151.7 2317.9L144.7 2328.7 L150.9 2325.3L142.9 2336.1 L150.1 2332.8L155.8 2336.1L161.5 2332.8 L168.7 2336.1L160.7 2325.3 L166.9 2328.7L159.9 2317.9 L165.1 2321.2L159.1 2310.4 L163.2 2313.8L158.2 2302.9 L161.4 2306.3L157.4 2295.5 L159.5 2298.8L156.6 2288.0 L157.7 2291.4ZM174.9 2281.2L173.3 2288.7 L174.2 2285.3L171.6 2296.1 L173.5 2292.8L170.0 2303.6 L172.7 2300.2L168.3 2311.0 L172.0 2307.7L166.6 2318.5 L171.3 2315.1L165.0 2325.9 L170.6 2322.6L163.3 2333.4 L169.8 2330.0L161.6 2340.8 L169.1 2337.5L174.9 2340.8L180.8 2337.5 L188.2 2340.8L180.1 2330.0 L186.6 2333.4L179.3 2322.6 L184.9 2325.9L178.6 2315.1 L183.2 2318.5L177.9 2307.7 L181.6 2311.0L177.1 2300.2 L179.9 2303.6L176.4 2292.8 L178.3 2296.1L175.7 2285.3 L176.6 2288.7ZM323.6 2291.8L321.9 2299.7 L322.9 2296.2L320.3 2307.5 L322.1 2304.0L318.6 2315.4 L321.4 2311.8L317.0 2323.2 L320.7 2319.7L315.3 2331.1 L320.0 2327.5L313.7 2338.9 L319.2 2335.4L323.6 2338.9L328.0 2335.4 L333.5 2338.9L327.2 2327.5 L331.9 2331.1L326.5 2319.7 L330.2 2323.2L325.8 2311.8 L328.5 2315.4L325.0 2304.0 L326.9 2307.5L324.3 2296.2 L325.2 2299.7ZM305.0 2299.7L303.4 2308.1 L304.3 2304.3L301.8 2316.4 L303.6 2312.7L300.2 2324.8 L302.9 2321.0L298.6 2333.2 L302.2 2329.4L297.0 2341.5 L301.5 2337.8L305.0 2341.5L308.5 2337.8 L313.0 2341.5L307.8 2329.4 L311.4 2333.2L307.1 2321.0 L309.8 2324.8L306.4 2312.7 L308.2 2316.4L305.7 2304.3 L306.6 2308.1ZM319.9 2320.7L318.2 2328.8 L319.2 2325.2L316.6 2337.0 L318.4 2333.3L315.0 2345.2 L317.7 2341.5L313.4 2353.3 L317.0 2349.6L311.8 2361.5 L316.3 2357.8L319.9 2361.5L323.4 2357.8 L327.9 2361.5L322.7 2349.6 L326.3 2353.3L322.0 2341.5 L324.7 2345.2L321.3 2333.3 L323.1 2337.0L320.6 2325.2 L321.5 2328.8ZM105.9 2279.3L104.2 2286.4 L105.1 2283.2L102.5 2293.4 L104.4 2290.3L100.9 2300.5 L103.7 2297.3L99.2 2307.5 L102.9 2304.3L97.5 2314.5 L102.2 2311.4L95.9 2321.6 L101.5 2318.4L94.2 2328.6 L100.7 2325.4L105.9 2328.6L111.0 2325.4 L117.6 2328.6L110.3 2318.4 L115.9 2321.6L109.6 2311.4 L114.2 2314.5L108.8 2304.3 L112.6 2307.5L108.1 2297.3 L110.9 2300.5L107.4 2290.3 L109.2 2293.4L106.6 2283.2 L107.6 2286.4ZM159.0 2300.9L157.1 2308.7 L158.2 2305.2L155.3 2316.6 L157.4 2313.1L153.4 2324.4 L156.5 2320.9L151.5 2332.3 L155.7 2328.7L149.7 2340.1 L154.9 2336.6L147.8 2348.0 L154.1 2344.4L159.0 2348.0L163.9 2344.4 L170.2 2348.0L163.1 2336.6 L168.3 2340.1L162.3 2328.7 L166.5 2332.3L161.5 2320.9 L164.6 2324.4L160.6 2313.1 L162.7 2316.6L159.8 2305.2 L160.9 2308.7ZM306.1 2286.7L304.6 2294.1 L305.4 2290.7L303.1 2301.4 L304.7 2298.1L301.6 2308.8 L304.1 2305.5L300.1 2316.2 L303.4 2312.9L298.6 2323.6 L302.8 2320.3L297.1 2331.0 L302.1 2327.6L306.1 2331.0L310.0 2327.6 L315.0 2331.0L309.4 2320.3 L313.5 2323.6L308.7 2312.9 L312.1 2316.2L308.0 2305.5 L310.6 2308.8L307.4 2298.1 L309.1 2301.4L306.7 2290.7 L307.6 2294.1ZM422.9 2288.3L421.3 2295.6 L422.2 2292.3L419.6 2303.0 L421.5 2299.7L418.0 2310.4 L420.8 2307.1L416.3 2317.8 L420.0 2314.4L414.7 2325.1 L419.3 2321.8L413.0 2332.5 L418.6 2329.2L411.3 2339.9 L417.8 2336.6L422.9 2339.9L428.1 2336.6 L434.6 2339.9L427.3 2329.2 L432.9 2332.5L426.6 2321.8 L431.2 2325.1L425.9 2314.4 L429.6 2317.8L425.1 2307.1 L427.9 2310.4L424.4 2299.7 L426.3 2303.0L423.7 2292.3 L424.6 2295.6ZM496.3 2286.7L494.7 2294.6 L495.6 2291.1L493.1 2302.5 L494.9 2299.0L491.5 2310.4 L494.2 2306.8L489.9 2318.3 L493.5 2314.7L488.3 2326.2 L492.8 2322.6L486.7 2334.1 L492.1 2330.5L496.3 2334.1L500.5 2330.5 L505.9 2334.1L499.8 2322.6 L504.3 2326.2L499.1 2314.7 L502.7 2318.3L498.4 2306.8 L501.1 2310.4L497.7 2299.0 L499.5 2302.5L497.0 2291.1 L497.9 2294.6ZM426.8 2311.4L425.0 2319.0 L426.0 2315.6L423.1 2326.6 L425.2 2323.2L421.3 2334.1 L424.4 2330.7L419.4 2341.7 L423.6 2338.3L417.5 2349.2 L422.8 2345.8L415.7 2356.8 L421.9 2353.4L413.8 2364.4 L421.1 2361.0L426.8 2364.4L432.6 2361.0 L439.9 2364.4L431.8 2353.4 L438.0 2356.8L430.9 2345.8 L436.2 2349.2L430.1 2338.3 L434.3 2341.7L429.3 2330.7 L432.4 2334.1L428.5 2323.2 L430.6 2326.6L427.7 2315.6 L428.7 2319.0ZM522.2 2321.2L520.6 2328.4 L521.5 2325.2L519.1 2335.7 L520.8 2332.4L517.5 2342.9 L520.1 2339.7L515.9 2350.2 L519.4 2346.9L514.4 2357.4 L518.7 2354.1L512.8 2364.6 L518.1 2361.4L511.2 2371.9 L517.4 2368.6L522.2 2371.9L527.0 2368.6 L533.2 2371.9L526.3 2361.4 L531.6 2364.6L525.6 2354.1 L530.0 2357.4L525.0 2346.9 L528.5 2350.2L524.3 2339.7 L526.9 2342.9L523.6 2332.4 L525.3 2335.7L522.9 2325.2 L523.8 2328.4ZM465.5 2322.5L463.8 2330.6 L464.8 2327.0L462.0 2338.8 L464.0 2335.1L460.3 2347.0 L463.2 2343.3L458.5 2355.1 L462.4 2351.5L456.8 2363.3 L461.7 2359.6L455.0 2371.5 L460.9 2367.8L465.5 2371.5L470.1 2367.8 L476.0 2371.5L469.4 2359.6 L474.3 2363.3L468.6 2351.5 L472.5 2355.1L467.8 2343.3 L470.8 2347.0L467.1 2335.1 L469.0 2338.8L466.3 2327.0 L467.3 2330.6ZM586.0 2308.0L584.2 2315.5 L585.2 2312.2L582.4 2323.0 L584.4 2319.7L580.7 2330.5 L583.6 2327.2L578.9 2338.0 L582.9 2334.7L577.1 2345.6 L582.1 2342.2L586.0 2345.6L589.8 2342.2 L594.8 2345.6L589.1 2334.7 L593.0 2338.0L588.3 2327.2 L591.3 2330.5L587.5 2319.7 L589.5 2323.0L586.7 2312.2 L587.7 2315.5ZM555.4 2318.0L553.6 2325.4 L554.6 2322.1L551.9 2332.7 L553.9 2329.4L550.1 2340.0 L553.1 2336.7L548.4 2347.3 L552.3 2344.0L546.6 2354.6 L551.5 2351.3L555.4 2354.6L559.3 2351.3 L564.2 2354.6L558.5 2344.0 L562.5 2347.3L557.7 2336.7 L560.7 2340.0L557.0 2329.4 L558.9 2332.7L556.2 2322.1 L557.2 2325.4ZM463.3 2302.3L461.8 2310.2 L462.6 2306.7L460.3 2318.2 L462.0 2314.6L458.8 2326.1 L461.3 2322.5L457.2 2334.0 L460.6 2330.4L455.7 2341.9 L460.0 2338.3L454.2 2349.8 L459.3 2346.3L452.7 2357.7 L458.6 2354.2L463.3 2357.7L468.0 2354.2 L473.9 2357.7L467.3 2346.3 L472.4 2349.8L466.7 2338.3 L470.9 2341.9L466.0 2330.4 L469.4 2334.0L465.3 2322.5 L467.9 2326.1L464.7 2314.6 L466.4 2318.2L464.0 2306.7 L464.8 2310.2ZM473.9 2318.7L472.5 2326.3 L473.3 2322.9L471.0 2333.9 L472.6 2330.5L469.6 2341.6 L472.0 2338.1L468.1 2349.2 L471.4 2345.7L466.7 2356.8 L470.7 2353.4L473.9 2356.8L477.1 2353.4 L481.2 2356.8L476.5 2345.7 L479.7 2349.2L475.8 2338.1 L478.3 2341.6L475.2 2330.5 L476.8 2333.9L474.6 2322.9 L475.4 2326.3ZM342.6 2302.9L340.8 2310.6 L341.8 2307.1L339.0 2318.2 L341.0 2314.8L337.2 2325.8 L340.2 2322.4L335.4 2333.5 L339.4 2330.0L333.6 2341.1 L338.6 2337.7L331.8 2348.7 L337.9 2345.3L330.0 2356.4 L337.1 2352.9L342.6 2356.4L348.2 2352.9 L355.3 2356.4L347.4 2345.3 L353.5 2348.7L346.6 2337.7 L351.7 2341.1L345.8 2330.0 L349.8 2333.5L345.0 2322.4 L348.0 2325.8L344.2 2314.8 L346.2 2318.2L343.4 2307.1 L344.4 2310.6ZM539.6 2291.2L537.7 2299.1 L538.8 2295.6L535.8 2306.9 L537.9 2303.4L533.9 2314.8 L537.1 2311.3L532.0 2322.6 L536.3 2319.1L530.1 2330.5 L535.4 2327.0L539.6 2330.5L543.8 2327.0 L549.2 2330.5L543.0 2319.1 L547.3 2322.6L542.2 2311.3 L545.4 2314.8L541.3 2303.4 L543.5 2306.9L540.5 2295.6 L541.5 2299.1ZM470.5 2262.1L468.7 2269.5 L469.7 2266.2L466.9 2277.0 L468.9 2273.6L465.1 2284.4 L468.1 2281.1L463.3 2291.9 L467.3 2288.5L461.6 2299.3 L466.5 2296.0L459.8 2306.8 L465.8 2303.4L458.0 2314.2 L465.0 2310.9L456.2 2321.7 L464.2 2318.3L470.5 2321.7L476.7 2318.3 L484.7 2321.7L475.9 2310.9 L482.9 2314.2L475.1 2303.4 L481.1 2306.8L474.4 2296.0 L479.3 2299.3L473.6 2288.5 L477.6 2291.9L472.8 2281.1 L475.8 2284.4L472.0 2273.6 L474.0 2277.0L471.2 2266.2 L472.2 2269.5ZM333.2 2319.6L331.4 2327.4 L332.4 2323.9L329.5 2335.3 L331.6 2331.8L327.7 2343.2 L330.8 2339.7L325.9 2351.1 L330.0 2347.5L324.0 2359.0 L329.2 2355.4L333.2 2359.0L337.3 2355.4 L342.4 2359.0L336.5 2347.5 L340.6 2351.1L335.6 2339.7 L338.7 2343.2L334.8 2331.8 L336.9 2335.3L334.0 2323.9 L335.1 2327.4ZM351.2 2280.7L349.5 2287.7 L350.4 2284.5L347.8 2294.7 L349.7 2291.5L346.1 2301.7 L349.0 2298.6L344.5 2308.7 L348.2 2305.6L342.8 2315.7 L347.5 2312.6L341.1 2322.7 L346.7 2319.6L351.2 2322.7L355.6 2319.6 L361.2 2322.7L354.9 2312.6 L359.5 2315.7L354.1 2305.6 L357.9 2308.7L353.4 2298.6 L356.2 2301.7L352.6 2291.5 L354.5 2294.7L351.9 2284.5 L352.8 2287.7ZM401.1 2295.6L399.3 2302.9 L400.3 2299.6L397.5 2310.2 L399.5 2306.9L395.8 2317.6 L398.7 2314.3L394.0 2324.9 L398.0 2321.6L392.3 2332.2 L397.2 2328.9L390.5 2339.5 L396.4 2336.2L401.1 2339.5L405.7 2336.2 L411.7 2339.5L405.0 2328.9 L409.9 2332.2L404.2 2321.6 L408.1 2324.9L403.4 2314.3 L406.4 2317.6L402.6 2306.9 L404.6 2310.2L401.9 2299.6 L402.8 2302.9ZM457.0 2291.5L455.3 2298.9 L456.2 2295.5L453.6 2306.2 L455.5 2302.9L451.9 2313.6 L454.7 2310.3L450.2 2321.0 L454.0 2317.7L448.6 2328.3 L453.3 2325.0L446.9 2335.7 L452.5 2332.4L445.2 2343.1 L451.8 2339.8L457.0 2343.1L462.1 2339.8 L468.7 2343.1L461.4 2332.4 L467.0 2335.7L460.6 2325.0 L465.3 2328.3L459.9 2317.7 L463.7 2321.0L459.2 2310.3 L462.0 2313.6L458.4 2302.9 L460.3 2306.2L457.7 2295.5 L458.6 2298.9ZM485.3 2304.4L483.8 2311.9 L484.6 2308.5L482.3 2319.4 L484.0 2316.0L480.8 2327.0 L483.3 2323.6L479.2 2334.5 L482.6 2331.1L477.7 2342.0 L482.0 2338.6L476.2 2349.6 L481.3 2346.2L474.7 2357.1 L480.6 2353.7L473.2 2364.6 L480.0 2361.2L485.3 2364.6L490.6 2361.2 L497.4 2364.6L489.9 2353.7 L495.9 2357.1L489.3 2346.2 L494.3 2349.6L488.6 2338.6 L492.8 2342.0L487.9 2331.1 L491.3 2334.5L487.3 2323.6 L489.8 2327.0L486.6 2316.0 L488.3 2319.4L485.9 2308.5 L486.8 2311.9ZM531.0 2281.4L529.4 2288.5 L530.3 2285.3L527.8 2295.5 L529.6 2292.3L526.2 2302.6 L528.9 2299.4L524.5 2309.6 L528.2 2306.4L522.9 2316.7 L527.5 2313.5L521.3 2323.7 L526.7 2320.5L519.6 2330.7 L526.0 2327.6L518.0 2337.8 L525.3 2334.6L531.0 2337.8L536.8 2334.6 L544.1 2337.8L536.1 2327.6 L542.5 2330.7L535.4 2320.5 L540.8 2323.7L534.6 2313.5 L539.2 2316.7L533.9 2306.4 L537.6 2309.6L533.2 2299.4 L535.9 2302.6L532.5 2292.3 L534.3 2295.5L531.8 2285.3 L532.7 2288.5ZM617.8 2331.7L615.8 2340.4 L616.9 2336.5L613.8 2349.1 L616.0 2345.2L611.8 2357.8 L615.1 2353.9L609.7 2366.4 L614.3 2362.5L617.8 2366.4L621.4 2362.5 L625.9 2366.4L620.5 2353.9 L623.9 2357.8L619.6 2345.2 L621.8 2349.1L618.7 2336.5 L619.8 2340.4ZM377.8 2281.0L376.1 2288.7 L377.1 2285.2L374.5 2296.5 L376.3 2293.0L372.8 2304.2 L375.6 2300.7L371.2 2312.0 L374.9 2308.5L369.5 2319.7 L374.2 2316.2L367.9 2327.5 L373.4 2324.0L366.2 2335.2 L372.7 2331.7L364.5 2343.0 L372.0 2339.5L377.8 2343.0L383.6 2339.5 L391.1 2343.0L382.9 2331.7 L389.4 2335.2L382.2 2324.0 L387.8 2327.5L381.5 2316.2 L386.1 2319.7L380.7 2308.5 L384.4 2312.0L380.0 2300.7 L382.8 2304.2L379.3 2293.0 L381.1 2296.5L378.5 2285.2 L379.5 2288.7ZM388.3 2330.2L386.8 2337.5 L387.7 2334.2L385.3 2344.9 L387.0 2341.6L383.8 2352.2 L386.3 2348.9L382.2 2359.6 L385.7 2356.3L380.7 2366.9 L385.0 2363.6L388.3 2366.9L391.7 2363.6 L396.0 2366.9L391.0 2356.3 L394.4 2359.6L390.4 2348.9 L392.9 2352.2L389.7 2341.6 L391.4 2344.9L389.0 2334.2 L389.9 2337.5ZM460.6 2281.6L459.1 2288.9 L459.9 2285.6L457.6 2296.2 L459.3 2292.9L456.1 2303.5 L458.6 2300.2L454.7 2310.7 L458.0 2307.5L453.2 2318.0 L457.3 2314.8L451.7 2325.3 L456.7 2322.1L450.2 2332.6 L456.0 2329.3L460.6 2332.6L465.1 2329.3 L471.0 2332.6L464.5 2322.1 L469.5 2325.3L463.8 2314.8 L468.0 2318.0L463.2 2307.5 L466.5 2310.7L462.5 2300.2 L465.0 2303.5L461.9 2292.9 L463.5 2296.2L461.2 2285.6 L462.1 2288.9ZM454.5 2309.3L452.8 2316.8 L453.8 2313.4L451.1 2324.4 L453.0 2321.0L449.4 2331.9 L452.2 2328.5L447.7 2339.5 L451.5 2336.1L446.0 2347.0 L450.7 2343.6L444.2 2354.6 L450.0 2351.2L454.5 2354.6L459.0 2351.2 L464.8 2354.6L458.3 2343.6 L463.1 2347.0L457.5 2336.1 L461.4 2339.5L456.8 2328.5 L459.6 2331.9L456.0 2321.0 L457.9 2324.4L455.3 2313.4 L456.2 2316.8ZM567.9 2286.1L566.3 2293.9 L567.2 2290.4L564.7 2301.8 L566.5 2298.3L563.2 2309.7 L565.8 2306.2L561.6 2317.6 L565.1 2314.1L560.0 2325.5 L564.4 2321.9L558.4 2333.4 L563.7 2329.8L556.9 2341.3 L563.0 2337.7L567.9 2341.3L572.7 2337.7 L578.9 2341.3L572.0 2329.8 L577.3 2333.4L571.3 2321.9 L575.7 2325.5L570.6 2314.1 L574.2 2317.6L569.9 2306.2 L572.6 2309.7L569.3 2298.3 L571.0 2301.8L568.6 2290.4 L569.4 2293.9ZM608.7 2308.4L607.1 2315.5 L608.0 2312.3L605.5 2322.5 L607.3 2319.4L603.9 2329.6 L606.6 2326.4L602.3 2336.7 L605.9 2333.5L600.7 2343.7 L605.2 2340.6L599.1 2350.8 L604.5 2347.6L597.5 2357.9 L603.8 2354.7L608.7 2357.9L613.7 2354.7 L620.0 2357.9L613.0 2347.6 L618.4 2350.8L612.3 2340.6 L616.8 2343.7L611.6 2333.5 L615.2 2336.7L610.9 2326.4 L613.6 2329.6L610.2 2319.4 L612.0 2322.5L609.4 2312.3 L610.3 2315.5ZM512.1 2319.0L510.6 2326.2 L511.5 2323.0L509.2 2333.3 L510.8 2330.1L507.7 2340.4 L510.2 2337.2L506.3 2347.5 L509.5 2344.3L504.8 2354.6 L508.9 2351.4L503.4 2361.7 L508.3 2358.5L502.0 2368.8 L507.6 2365.6L512.1 2368.8L516.6 2365.6 L522.2 2368.8L515.9 2358.5 L520.8 2361.7L515.3 2351.4 L519.3 2354.6L514.6 2344.3 L517.9 2347.5L514.0 2337.2 L516.4 2340.4L513.4 2330.1 L515.0 2333.3L512.7 2323.0 L513.5 2326.2ZM544.4 2296.3L542.4 2304.4 L543.5 2300.8L540.4 2312.5 L542.6 2308.9L538.4 2320.6 L541.8 2317.0L536.4 2328.7 L540.9 2325.0L534.4 2336.8 L540.0 2333.1L532.5 2344.9 L539.1 2341.2L544.4 2344.9L549.6 2341.2 L556.3 2344.9L548.8 2333.1 L554.3 2336.8L547.9 2325.0 L552.3 2328.7L547.0 2317.0 L550.4 2320.6L546.1 2308.9 L548.4 2312.5L545.3 2300.8 L546.4 2304.4ZM561.4 2304.1L559.6 2311.2 L560.6 2308.0L557.9 2318.4 L559.9 2315.2L556.1 2325.6 L559.1 2322.3L554.4 2332.7 L558.3 2329.5L552.6 2339.9 L557.5 2336.6L550.8 2347.0 L556.8 2343.8L549.1 2354.2 L556.0 2351.0L561.4 2354.2L566.8 2351.0 L573.7 2354.2L566.1 2343.8 L572.0 2347.0L565.3 2336.6 L570.2 2339.9L564.5 2329.5 L568.5 2332.7L563.7 2322.3 L566.7 2325.6L563.0 2315.2 L564.9 2318.4L562.2 2308.0 L563.2 2311.2ZM358.6 2268.7L356.8 2276.6 L357.8 2273.0L355.0 2284.5 L357.0 2280.9L353.2 2292.4 L356.2 2288.8L351.3 2300.3 L355.4 2296.7L349.5 2308.2 L354.6 2304.7L347.7 2316.1 L353.8 2312.6L345.9 2324.0 L353.0 2320.5L358.6 2324.0L364.2 2320.5 L371.3 2324.0L363.4 2312.6 L369.5 2316.1L362.6 2304.7 L367.7 2308.2L361.8 2296.7 L365.9 2300.3L361.0 2288.8 L364.0 2292.4L360.2 2280.9 L362.2 2284.5L359.4 2273.0 L360.4 2276.6ZM442.4 2308.2L440.8 2315.5 L441.7 2312.2L439.1 2322.8 L441.0 2319.5L437.5 2330.1 L440.3 2326.8L435.9 2337.4 L439.5 2334.1L434.2 2344.7 L438.8 2341.4L432.6 2352.0 L438.1 2348.7L430.9 2359.3 L437.4 2356.1L429.3 2366.7 L436.6 2363.4L442.4 2366.7L448.2 2363.4 L455.6 2366.7L447.5 2356.1 L454.0 2359.3L446.8 2348.7 L452.3 2352.0L446.1 2341.4 L450.7 2344.7L445.3 2334.1 L449.0 2337.4L444.6 2326.8 L447.4 2330.1L443.9 2319.5 L445.7 2322.8L443.2 2312.2 L444.1 2315.5ZM36.7 2294.3L34.9 2302.0 L35.9 2298.5L33.1 2309.6 L35.1 2306.2L31.4 2317.3 L34.3 2313.8L29.6 2324.9 L33.6 2321.5L27.8 2332.6 L32.8 2329.2L26.1 2340.3 L32.0 2336.8L24.3 2347.9 L31.2 2344.5L22.5 2355.6 L30.4 2352.1L36.7 2355.6L42.9 2352.1 L50.8 2355.6L42.1 2344.5 L49.0 2347.9L41.3 2336.8 L47.3 2340.3L40.6 2329.2 L45.5 2332.6L39.8 2321.5 L43.7 2324.9L39.0 2313.8 L42.0 2317.3L38.2 2306.2 L40.2 2309.6L37.4 2298.5 L38.4 2302.0ZM7.5 2277.1L5.8 2284.2 L6.8 2281.0L4.1 2291.4 L6.0 2288.2L2.4 2298.5 L5.3 2295.3L0.7 2305.7 L4.5 2302.5L-1.0 2312.9 L3.8 2309.6L-2.6 2320.0 L3.0 2316.8L7.5 2320.0L12.0 2316.8 L17.7 2320.0L11.2 2309.6 L16.0 2312.9L10.5 2302.5 L14.3 2305.7L9.7 2295.3 L12.6 2298.5L9.0 2288.2 L10.9 2291.4L8.3 2281.0 L9.2 2284.2ZM31.1 2277.1L29.5 2284.5 L30.4 2281.2L27.9 2292.0 L29.7 2288.6L26.3 2299.4 L28.9 2296.1L24.7 2306.9 L28.2 2303.5L23.1 2314.3 L27.5 2311.0L21.5 2321.8 L26.8 2318.4L19.9 2329.2 L26.1 2325.9L18.3 2336.7 L25.4 2333.3L31.1 2336.7L36.7 2333.3 L43.9 2336.7L36.0 2325.9 L42.3 2329.2L35.3 2318.4 L40.7 2321.8L34.6 2311.0 L39.1 2314.3L33.9 2303.5 L37.5 2306.9L33.2 2296.1 L35.9 2299.4L32.5 2288.6 L34.3 2292.0L31.8 2281.2 L32.7 2284.5ZM17.6 2296.2L15.8 2304.0 L16.8 2300.5L14.0 2311.7 L16.0 2308.2L12.3 2319.5 L15.2 2316.0L10.5 2327.2 L14.5 2323.7L8.8 2334.9 L13.7 2331.5L7.0 2342.7 L12.9 2339.2L5.3 2350.4 L12.1 2346.9L3.5 2358.2 L11.4 2354.7L17.6 2358.2L23.7 2354.7 L31.6 2358.2L23.0 2346.9 L29.9 2350.4L22.2 2339.2 L28.1 2342.7L21.4 2331.5 L26.3 2334.9L20.7 2323.7 L24.6 2327.2L19.9 2316.0 L22.8 2319.5L19.1 2308.2 L21.1 2311.7L18.3 2300.5 L19.3 2304.0ZM65.6 2281.2L63.9 2289.3 L64.8 2285.6L62.2 2297.4 L64.1 2293.8L60.4 2305.5 L63.3 2301.9L58.7 2313.7 L62.6 2310.0L57.0 2321.8 L61.8 2318.1L55.3 2329.9 L61.1 2326.3L65.6 2329.9L70.1 2326.3 L75.9 2329.9L69.4 2318.1 L74.2 2321.8L68.6 2310.0 L72.5 2313.7L67.9 2301.9 L70.7 2305.5L67.1 2293.8 L69.0 2297.4L66.3 2285.6 L67.3 2289.3ZM29.5 2322.9L27.9 2330.6 L28.8 2327.1L26.2 2338.4 L28.1 2334.9L24.6 2346.1 L27.3 2342.6L23.0 2353.8 L26.6 2350.3L21.4 2361.5 L25.9 2358.1L19.7 2369.3 L25.2 2365.8L29.5 2369.3L33.8 2365.8 L39.3 2369.3L33.1 2358.1 L37.6 2361.5L32.4 2350.3 L36.0 2353.8L31.6 2342.6 L34.4 2346.1L30.9 2334.9 L32.7 2338.4L30.2 2327.1 L31.1 2330.6ZM34.3 2291.9L32.5 2299.5 L33.5 2296.1L30.7 2307.1 L32.7 2303.7L28.8 2314.7 L31.9 2311.3L27.0 2322.3 L31.1 2318.9L25.2 2329.9 L30.3 2326.5L23.4 2337.6 L29.5 2334.1L21.5 2345.2 L28.7 2341.7L34.3 2345.2L40.0 2341.7 L47.1 2345.2L39.2 2334.1 L45.3 2337.6L38.4 2326.5 L43.5 2329.9L37.6 2318.9 L41.7 2322.3L36.7 2311.3 L39.8 2314.7L35.9 2303.7 L38.0 2307.1L35.1 2296.1 L36.2 2299.5ZM93.5 2303.6L91.7 2311.6 L92.7 2308.0L89.8 2319.6 L91.9 2316.0L88.0 2327.7 L91.1 2324.1L86.1 2335.7 L90.3 2332.1L84.3 2343.8 L89.5 2340.1L82.4 2351.8 L88.6 2348.2L93.5 2351.8L98.4 2348.2 L104.7 2351.8L97.6 2340.1 L102.8 2343.8L96.8 2332.1 L101.0 2335.7L96.0 2324.1 L99.1 2327.7L95.2 2316.0 L97.2 2319.6L94.4 2308.0 L95.4 2311.6ZM823.2 2276.3L821.4 2283.8 L822.4 2280.4L819.6 2291.4 L821.6 2288.0L817.7 2298.9 L820.8 2295.5L815.9 2306.5 L820.0 2303.1L814.1 2314.0 L819.2 2310.6L812.3 2321.6 L818.4 2318.2L810.5 2329.1 L817.6 2325.7L823.2 2329.1L828.8 2325.7 L835.9 2329.1L828.0 2318.2 L834.1 2321.6L827.2 2310.6 L832.3 2314.0L826.4 2303.1 L830.5 2306.5L825.6 2295.5 L828.7 2298.9L824.8 2288.0 L826.8 2291.4L824.0 2280.4 L825.0 2283.8ZM989.7 2312.3L988.1 2320.3 L989.0 2316.7L986.5 2328.2 L988.3 2324.6L984.9 2336.2 L987.6 2332.6L983.3 2344.1 L986.9 2340.5L981.7 2352.1 L986.1 2348.5L980.1 2360.0 L985.4 2356.4L989.7 2360.0L993.9 2356.4 L999.3 2360.0L993.2 2348.5 L997.7 2352.1L992.5 2340.5 L996.1 2344.1L991.8 2332.6 L994.5 2336.2L991.1 2324.6 L992.9 2328.2L990.4 2316.7 L991.3 2320.3ZM867.2 2312.3L865.6 2319.5 L866.5 2316.2L864.0 2326.6 L865.8 2323.4L862.4 2333.7 L865.1 2330.5L860.8 2340.9 L864.4 2337.7L859.2 2348.0 L863.7 2344.8L857.6 2355.1 L863.0 2351.9L856.0 2362.3 L862.3 2359.1L854.4 2369.4 L861.6 2366.2L867.2 2369.4L872.8 2366.2 L880.0 2369.4L872.1 2359.1 L878.4 2362.3L871.4 2351.9 L876.8 2355.1L870.7 2344.8 L875.2 2348.0L870.0 2337.7 L873.6 2340.9L869.3 2330.5 L872.0 2333.7L868.6 2323.4 L870.4 2326.6L867.9 2316.2 L868.8 2319.5ZM828.7 2288.8L826.8 2296.6 L827.9 2293.1L825.0 2304.3 L827.1 2300.8L823.2 2312.0 L826.2 2308.5L821.3 2319.7 L825.4 2316.2L819.5 2327.4 L824.6 2324.0L828.7 2327.4L832.7 2324.0 L837.8 2327.4L831.9 2316.2 L836.0 2319.7L831.1 2308.5 L834.1 2312.0L830.3 2300.8 L832.3 2304.3L829.5 2293.1 L830.5 2296.6ZM933.8 2289.5L931.8 2297.7 L932.9 2294.0L929.7 2306.0 L932.0 2302.3L927.7 2314.2 L931.1 2310.5L925.6 2322.5 L930.2 2318.8L923.6 2330.7 L929.3 2327.0L933.8 2330.7L938.3 2327.0 L944.1 2330.7L937.4 2318.8 L942.0 2322.5L936.5 2310.5 L940.0 2314.2L935.6 2302.3 L937.9 2306.0L934.7 2294.0 L935.9 2297.7ZM714.8 2283.4L713.4 2290.6 L714.2 2287.4L712.0 2297.9 L713.6 2294.6L710.5 2305.2 L712.9 2301.9L709.1 2312.5 L712.3 2309.2L707.7 2319.8 L711.7 2316.5L706.3 2327.1 L711.0 2323.8L714.8 2327.1L718.6 2323.8 L723.4 2327.1L717.9 2316.5 L721.9 2319.8L717.3 2309.2 L720.5 2312.5L716.7 2301.9 L719.1 2305.2L716.1 2294.6 L717.7 2297.9L715.4 2287.4 L716.2 2290.6ZM961.5 2314.5L959.8 2322.1 L960.8 2318.7L958.0 2329.7 L960.0 2326.3L956.3 2337.2 L959.2 2333.8L954.5 2344.8 L958.5 2341.4L952.8 2352.4 L957.7 2349.0L961.5 2352.4L965.4 2349.0 L970.3 2352.4L964.6 2341.4 L968.5 2344.8L963.8 2333.8 L966.8 2337.2L963.1 2326.3 L965.0 2329.7L962.3 2318.7 L963.3 2322.1ZM788.4 2296.8L786.6 2304.7 L787.6 2301.1L784.7 2312.6 L786.8 2309.0L782.9 2320.5 L786.0 2316.9L781.1 2328.4 L785.2 2324.9L779.2 2336.3 L784.4 2332.8L777.4 2344.3 L783.6 2340.7L788.4 2344.3L793.3 2340.7 L799.5 2344.3L792.5 2332.8 L797.6 2336.3L791.7 2324.9 L795.8 2328.4L790.8 2316.9 L793.9 2320.5L790.0 2309.0 L792.1 2312.6L789.2 2301.1 L790.3 2304.7ZM661.7 2265.0L660.2 2272.6 L661.0 2269.1L658.6 2280.2 L660.3 2276.8L657.1 2287.8 L659.7 2284.4L655.6 2295.4 L659.0 2292.0L654.1 2303.1 L658.3 2299.6L652.6 2310.7 L657.7 2307.3L651.1 2318.3 L657.0 2314.9L661.7 2318.3L666.3 2314.9 L672.2 2318.3L665.6 2307.3 L670.7 2310.7L665.0 2299.6 L669.2 2303.1L664.3 2292.0 L667.7 2295.4L663.7 2284.4 L666.2 2287.8L663.0 2276.8 L664.7 2280.2L662.3 2269.1 L663.2 2272.6ZM843.4 2299.1L841.9 2306.7 L842.7 2303.3L840.4 2314.4 L842.0 2310.9L838.8 2322.0 L841.4 2318.6L837.3 2329.7 L840.7 2326.2L835.8 2337.3 L840.1 2333.9L834.3 2345.0 L839.4 2341.5L832.8 2352.6 L838.7 2349.2L843.4 2352.6L848.0 2349.2 L854.0 2352.6L847.4 2341.5 L852.5 2345.0L846.7 2333.9 L851.0 2337.3L846.0 2326.2 L849.4 2329.7L845.4 2318.6 L847.9 2322.0L844.7 2310.9 L846.4 2314.4L844.0 2303.3 L844.9 2306.7ZM678.4 2305.8L676.9 2313.0 L677.7 2309.7L675.4 2320.2 L677.1 2316.9L674.0 2327.4 L676.4 2324.1L672.5 2334.6 L675.8 2331.4L671.0 2341.8 L675.1 2338.6L669.5 2349.0 L674.5 2345.8L668.1 2356.2 L673.8 2353.0L678.4 2356.2L682.9 2353.0 L688.7 2356.2L682.3 2345.8 L687.2 2349.0L681.6 2338.6 L685.8 2341.8L681.0 2331.4 L684.3 2334.6L680.3 2324.1 L682.8 2327.4L679.7 2316.9 L681.3 2320.2L679.0 2309.7 L679.9 2313.0ZM845.2 2314.7L843.5 2322.1 L844.4 2318.8L841.9 2329.6 L843.7 2326.2L840.3 2337.1 L843.0 2333.7L838.7 2344.5 L842.3 2341.2L837.1 2352.0 L841.6 2348.6L845.2 2352.0L848.7 2348.6 L853.2 2352.0L848.0 2341.2 L851.6 2344.5L847.3 2333.7 L850.0 2337.1L846.6 2326.2 L848.4 2329.6L845.9 2318.8 L846.8 2322.1ZM867.3 2315.9L865.8 2323.4 L866.6 2320.0L864.3 2331.0 L865.9 2327.6L862.8 2338.6 L865.3 2335.2L861.2 2346.1 L864.6 2342.7L859.7 2353.7 L864.0 2350.3L858.2 2361.3 L863.3 2357.9L856.7 2368.8 L862.6 2365.4L867.3 2368.8L871.9 2365.4 L877.8 2368.8L871.3 2357.9 L876.3 2361.3L870.6 2350.3 L874.8 2353.7L869.9 2342.7 L873.3 2346.1L869.3 2335.2 L871.8 2338.6L868.6 2327.6 L870.3 2331.0L867.9 2320.0 L868.8 2323.4ZM900.2 2313.4L898.7 2320.6 L899.6 2317.3L897.1 2327.8 L898.9 2324.5L895.6 2334.9 L898.2 2331.7L894.1 2342.1 L897.5 2338.9L892.5 2349.3 L896.8 2346.1L891.0 2356.5 L896.2 2353.3L889.4 2363.7 L895.5 2360.5L887.9 2370.9 L894.8 2367.6L900.2 2370.9L905.7 2367.6 L912.6 2370.9L905.0 2360.5 L911.0 2363.7L904.3 2353.3 L909.5 2356.5L903.6 2346.1 L907.9 2349.3L902.9 2338.9 L906.4 2342.1L902.3 2331.7 L904.9 2334.9L901.6 2324.5 L903.3 2327.8L900.9 2317.3 L901.8 2320.6Z" fill="#9fb8e6" fill-opacity=".55" stroke="#c6d5f4" stroke-width="1.2" stroke-linejoin="round" opacity=".95"/>
<path d="M349.0 2362.0C349.0 2286.6 401.0 2286.6 401.0 2362.0M359.4 2312.7q-2.3 23.2 1.1 46.4M369.8 2312.7q-3.9 23.2 -0.1 46.4M380.2 2312.7q-3.7 23.2 2.4 46.4M390.6 2312.7q-1.6 23.2 -2.3 46.4M381.0 2366.0C381.0 2301.0 429.0 2301.0 429.0 2366.0M390.6 2323.5q-1.5 20.0 2.8 40.0M400.2 2323.5q-2.7 20.0 -0.3 40.0M409.8 2323.5q0.6 20.0 -1.3 40.0M419.4 2323.5q0.5 20.0 -2.7 40.0M410.0 2368.0C410.0 2310.8 454.0 2310.8 454.0 2368.0M418.8 2330.6q-0.3 17.6 2.9 35.2M427.6 2330.6q-0.1 17.6 1.5 35.2M436.4 2330.6q-1.3 17.6 1.4 35.2M445.2 2330.6q-1.9 17.6 0.9 35.2M436.0 2370.0C436.0 2318.0 476.0 2318.0 476.0 2370.0M444.0 2336.0q3.7 16.0 -0.1 32.0M452.0 2336.0q2.3 16.0 -1.1 32.0M460.0 2336.0q-1.1 16.0 -2.5 32.0M468.0 2336.0q-1.7 16.0 0.7 32.0M334.0 2368.0C334.0 2316.0 370.0 2316.0 370.0 2368.0M341.2 2334.0q1.8 16.0 1.2 32.0M348.4 2334.0q1.2 16.0 -2.5 32.0M355.6 2334.0q2.0 16.0 -2.8 32.0M362.8 2334.0q-0.8 16.0 -2.1 32.0M654.0 2366.0C654.0 2337.4 710.0 2337.4 710.0 2366.0M665.2 2347.3q-1.1 8.8 2.8 17.6M676.4 2347.3q0.2 8.8 2.4 17.6M687.6 2347.3q1.5 8.8 -2.4 17.6M698.8 2347.3q1.8 8.8 -1.1 17.6M690.0 2368.0C690.0 2334.2 750.0 2334.2 750.0 2368.0M702.0 2345.9q0.9 10.4 -0.7 20.8M714.0 2345.9q1.2 10.4 -0.9 20.8M726.0 2345.9q-2.2 10.4 -2.2 20.8M738.0 2345.9q3.4 10.4 2.0 20.8M631.0 2370.0C631.0 2346.6 679.0 2346.6 679.0 2370.0M640.6 2354.7q-2.0 7.2 -2.7 14.4M650.2 2354.7q-3.1 7.2 1.8 14.4M659.8 2354.7q3.4 7.2 3.0 14.4M669.4 2354.7q-0.8 7.2 -2.7 14.4" fill="#2a62b4" fill-opacity=".6" stroke="#b6c9ef" stroke-width="1.2" opacity=".9"/>
<path d="M0 2330L120 2322L300 2306L420 2300M0 2340C120 2330 260 2318 420 2306M430 2330C520 2322 600 2318 700 2318M700 2330C800 2322 900 2322 1000 2330" fill="none" stroke="#b6c9ef" stroke-width="1.2" opacity=".75"/>
</g></svg>
<svg class="bg" width="420" height="230" viewBox="0 0 420 230">
<defs>
  <!-- emblem core: U + dove, drawn in poster pixel coordinates for the big logo -->
  <g id="shuCore">
    <path d="M89 102L101.7 108.2V135.3C101.7 148 109.5 158 120.5 158C132 158 141.4 148 141.4 135.3V108.6L151 103V135.3C151 152.6 137.3 166.3 120 166.3C102.7 166.3 89 152.6 89 135.3Z"/>
    <path d="M103.8 88L118.8 96.2C116.4 99.4 114.6 104 113.8 110.5L113.3 138.2L103.8 136.4Z"/>
    <path d="M140.7 89.1C131.5 90 125.4 92.6 121.2 97.4C118.2 101 116.4 105.6 115.9 111V139.9C112.6 139.3 107.6 139 104.6 140.3C103.3 140.9 102.3 141.5 101.6 142.1C102.6 146.6 105.2 150.5 109.2 153.1C112.4 155.2 116.2 156.1 120.4 156.1C130.8 156.1 137.4 148.6 137.4 139.6V108.6L140.7 107.1Z"/>
  </g>
  <path id="arcTop" d="M87.9 93.4A38 38 0 0 1 152.1 93.4"/>
  <path id="arcBot" d="M74.4 124V135.5A45.6 45.6 0 0 0 165.6 135.5V124"/>
</defs>
<!-- ============ Shanghai University seal ============ -->
<g fill="none" stroke="#f1f4ff" stroke-width="1.15">
  <rect x="70.2" y="63.5" width="99.6" height="122" rx="49.8" ry="49.8"/>
  <rect x="84.2" y="78.8" width="72.4" height="91.2" rx="36.2" ry="36.2"/>
</g>
<use href="#shuCore" fill="#fbfcff"/>
<circle cx="105.6" cy="141.6" r=".55" fill="#2a59a8"/>
<text font-family="'Liberation Serif','Noto Serif CJK SC',serif" font-weight="700" font-style="italic" font-size="10.5" fill="#f4f6ff" letter-spacing="9.2"><textPath href="#arcTop" startOffset="2">上海大学</textPath></text>
<text font-family="'Liberation Sans','Noto Sans CJK SC',sans-serif" font-size="11.4" fill="#f4f6ff"><textPath href="#arcBot" startOffset="3.5" textLength="63" lengthAdjust="spacingAndGlyphs">SHANGHAI</textPath></text>
<text font-family="'Liberation Sans','Noto Sans CJK SC',sans-serif" font-size="11.4" fill="#f4f6ff"><textPath href="#arcBot" startOffset="77" textLength="84" lengthAdjust="spacingAndGlyphs">UNIVERSITY</textPath></text>

<!-- ============ "Shu Xiang Shang Da" reading-day logo ============ -->
<g fill="none" stroke="#eef1ff" stroke-width="1.25" stroke-linecap="round" stroke-linejoin="round">
  <!-- stem + base line with spine bump -->
  <path d="M261.3 94V127.2"/>
  <path d="M222.2 128.8H256.2A5.1 5.1 0 0 0 266.4 128.8H301" stroke-width="1.5"/>
  <!-- left petal / roof / pages -->
  <g id="wingL">
    <path d="M239.2 64.8C234.6 68.4 231.4 74.6 230.2 80.6C228.8 87.6 229.8 94.6 233.4 100.2C238.6 107.6 248 112.6 260.3 114.5"/>
    <path d="M239.2 64.8C239.6 70.2 243 75.6 248.3 79.2"/>
    <path d="M230.4 82.6L232.4 85.4L238.4 87.4L239.4 88.8C239.6 96 243.4 103.4 250 108.2C253.4 110.4 257 111.8 260.6 112.4"/>
    <path d="M229.6 90.8C225.6 96 219.8 102.2 209.8 107.7C224.8 108 243.6 111.4 257.4 117.6"/>
    <path d="M209.8 107.7L219.2 108.4L211.3 116C228 115 244.2 118 256.6 123.3"/>
    <path d="M219.2 108.4C234 109.6 247.4 113.8 257 120.4"/>
  </g>
  <use href="#wingL" transform="translate(522.6 0) scale(-1 1)"/>
  <!-- small seal on top -->
  <ellipse cx="260.9" cy="79.3" rx="12.7" ry="14.6" stroke-width="1"/>
  <ellipse cx="260.9" cy="79.3" rx="10.4" ry="12.2" stroke="#8f94d8" stroke-width="1.6" opacity=".9"/>
</g>
<use href="#shuCore" fill="#fbfcff" transform="translate(261 79.6) scale(.262) translate(-120 -127)"/>
<text x="206" y="169.2" font-family="'Liberation Sans','Noto Sans CJK SC',sans-serif" font-weight="350" font-size="24.5" fill="#f1f3ff" textLength="108" lengthAdjust="spacing">書香上大</text>
<text x="206.6" y="185.8" font-family="'Liberation Sans','Noto Sans CJK SC',sans-serif" font-weight="400" font-size="7.6" fill="#e9edff" textLength="107" lengthAdjust="spacing">4·23世界读书日</text>
</svg>

<h1 class="title"><span class="dg">2024</span>年入馆达人榜</h1>
<div class="tbl tt1w" style="left:158px;top:370px;width:1574px;height:883px">
<div class="trow tt1" style="top:0;height:107px;line-height:107px">总榜</div>
<div class="cell th" style="left:0px;top:107.00px;width:162px;height:70.00px;line-height:70.00px">序号</div><div class="cell th" style="left:162px;top:107.00px;width:341px;height:70.00px;line-height:70.00px">姓名</div><div class="cell th" style="left:503px;top:107.00px;width:688px;height:70.00px;line-height:70.00px">学院</div><div class="cell th" style="left:1191px;top:107.00px;width:383px;height:70.00px;line-height:70.00px">入馆次数</div>
<div class="cell td num" style="left:0px;top:177.00px;width:162px;height:70.60px;line-height:70.60px">1</div><div class="cell td" style="left:162px;top:177.00px;width:341px;height:70.60px;line-height:70.60px">李佳泰</div><div class="cell td" style="left:503px;top:177.00px;width:688px;height:70.60px;line-height:70.60px">机电工程与自动化学院</div><div class="cell td num" style="left:1191px;top:177.00px;width:383px;height:70.60px;line-height:70.60px">817</div>
<div class="cell td num" style="left:0px;top:247.60px;width:162px;height:70.60px;line-height:70.60px">2</div><div class="cell td" style="left:162px;top:247.60px;width:341px;height:70.60px;line-height:70.60px">闫垒</div><div class="cell td" style="left:503px;top:247.60px;width:688px;height:70.60px;line-height:70.60px">理学院</div><div class="cell td num" style="left:1191px;top:247.60px;width:383px;height:70.60px;line-height:70.60px">808</div>
<div class="cell td num" style="left:0px;top:318.20px;width:162px;height:70.60px;line-height:70.60px">3</div><div class="cell td" style="left:162px;top:318.20px;width:341px;height:70.60px;line-height:70.60px">陶闯闯</div><div class="cell td" style="left:503px;top:318.20px;width:688px;height:70.60px;line-height:70.60px">理学院</div><div class="cell td num" style="left:1191px;top:318.20px;width:383px;height:70.60px;line-height:70.60px">791</div>
<div class="cell td num" style="left:0px;top:388.80px;width:162px;height:70.60px;line-height:70.60px">4</div><div class="cell td" style="left:162px;top:388.80px;width:341px;height:70.60px;line-height:70.60px">王月辰</div><div class="cell td" style="left:503px;top:388.80px;width:688px;height:70.60px;line-height:70.60px">管理学院</div><div class="cell td num" style="left:1191px;top:388.80px;width:383px;height:70.60px;line-height:70.60px">784</div>
<div class="cell td num" style="left:0px;top:459.40px;width:162px;height:70.60px;line-height:70.60px">5</div><div class="cell td" style="left:162px;top:459.40px;width:341px;height:70.60px;line-height:70.60px">祝国铨</div><div class="cell td" style="left:503px;top:459.40px;width:688px;height:70.60px;line-height:70.60px">社会学院</div><div class="cell td num" style="left:1191px;top:459.40px;width:383px;height:70.60px;line-height:70.60px">772</div>
<div class="cell td num" style="left:0px;top:530.00px;width:162px;height:70.60px;line-height:70.60px">6</div><div class="cell td" style="left:162px;top:530.00px;width:341px;height:70.60px;line-height:70.60px">王雪珺</div><div class="cell td" style="left:503px;top:530.00px;width:688px;height:70.60px;line-height:70.60px">机电工程与自动化学院</div><div class="cell td num" style="left:1191px;top:530.00px;width:383px;height:70.60px;line-height:70.60px">767</div>
<div class="cell td num" style="left:0px;top:600.60px;width:162px;height:70.60px;line-height:70.60px">7</div><div class="cell td" style="left:162px;top:600.60px;width:341px;height:70.60px;line-height:70.60px">申珍珍</div><div class="cell td" style="left:503px;top:600.60px;width:688px;height:70.60px;line-height:70.60px">社会学院</div><div class="cell td num" style="left:1191px;top:600.60px;width:383px;height:70.60px;line-height:70.60px">749</div>
<div class="cell td num" style="left:0px;top:671.20px;width:162px;height:70.60px;line-height:70.60px">8</div><div class="cell td" style="left:162px;top:671.20px;width:341px;height:70.60px;line-height:70.60px">李纪昭</div><div class="cell td" style="left:503px;top:671.20px;width:688px;height:70.60px;line-height:70.60px">社会学院</div><div class="cell td num" style="left:1191px;top:671.20px;width:383px;height:70.60px;line-height:70.60px">733</div>
<div class="cell td num" style="left:0px;top:741.80px;width:162px;height:70.60px;line-height:70.60px">9</div><div class="cell td" style="left:162px;top:741.80px;width:341px;height:70.60px;line-height:70.60px">刘应澜</div><div class="cell td" style="left:503px;top:741.80px;width:688px;height:70.60px;line-height:70.60px">悉尼工商学院</div><div class="cell td num" style="left:1191px;top:741.80px;width:383px;height:70.60px;line-height:70.60px">721</div>
<div class="cell td num" style="left:0px;top:812.40px;width:162px;height:70.60px;line-height:70.60px">10</div><div class="cell td" style="left:162px;top:812.40px;width:341px;height:70.60px;line-height:70.60px">张钰栋</div><div class="cell td" style="left:503px;top:812.40px;width:688px;height:70.60px;line-height:70.60px">计算机工程与科学学院</div><div class="cell td num" style="left:1191px;top:812.40px;width:383px;height:70.60px;line-height:70.60px">721</div>
<i class="hl" style="top:106px"></i>
<i class="hl" style="top:176px"></i>
<i class="hl" style="top:247px"></i>
<i class="hl" style="top:317px"></i>
<i class="hl" style="top:388px"></i>
<i class="hl" style="top:458px"></i>
<i class="hl" style="top:529px"></i>
<i class="hl" style="top:600px"></i>
<i class="hl" style="top:670px"></i>
<i class="hl" style="top:741px"></i>
<i class="hl" style="top:811px"></i>
<i class="vl" style="left:161px;top:107px;height:776px"></i>
<i class="vl" style="left:502px;top:107px;height:776px"></i>
<i class="vl" style="left:1190px;top:107px;height:776px"></i>
<i class="ob"></i>
</div>
<div class="tbl tt2w" style="left:158px;top:1318px;width:1574px;height:883px">
<div class="trow tt2" style="top:0;height:107px;line-height:107px"><span class="dg">24</span>小时学习空间</div>
<div class="cell th" style="left:0px;top:107.00px;width:162px;height:71.00px;line-height:71.00px">序号</div><div class="cell th" style="left:162px;top:107.00px;width:341px;height:71.00px;line-height:71.00px">姓名</div><div class="cell th" style="left:503px;top:107.00px;width:688px;height:71.00px;line-height:71.00px">学院</div><div class="cell th" style="left:1191px;top:107.00px;width:383px;height:71.00px;line-height:71.00px">在馆时长<span class="sl">/</span>小时</div>
<div class="cell td num" style="left:0px;top:178.00px;width:162px;height:70.50px;line-height:70.50px">1</div><div class="cell td" style="left:162px;top:178.00px;width:341px;height:70.50px;line-height:70.50px">汪昕</div><div class="cell td" style="left:503px;top:178.00px;width:688px;height:70.50px;line-height:70.50px">通信与信息工程学院</div><div class="cell td num" style="left:1191px;top:178.00px;width:383px;height:70.50px;line-height:70.50px">3310</div>
<div class="cell td num" style="left:0px;top:248.50px;width:162px;height:70.50px;line-height:70.50px">2</div><div class="cell td" style="left:162px;top:248.50px;width:341px;height:70.50px;line-height:70.50px">张钰栋</div><div class="cell td" style="left:503px;top:248.50px;width:688px;height:70.50px;line-height:70.50px">计算机工程与科学学院</div><div class="cell td num" style="left:1191px;top:248.50px;width:383px;height:70.50px;line-height:70.50px">3233</div>
<div class="cell td num" style="left:0px;top:319.00px;width:162px;height:70.50px;line-height:70.50px">3</div><div class="cell td" style="left:162px;top:319.00px;width:341px;height:70.50px;line-height:70.50px">曾钰蓉</div><div class="cell td" style="left:503px;top:319.00px;width:688px;height:70.50px;line-height:70.50px">机电工程与自动化学院</div><div class="cell td num" style="left:1191px;top:319.00px;width:383px;height:70.50px;line-height:70.50px">3169</div>
<div class="cell td num" style="left:0px;top:389.50px;width:162px;height:70.50px;line-height:70.50px">4</div><div class="cell td" style="left:162px;top:389.50px;width:341px;height:70.50px;line-height:70.50px">孙悦</div><div class="cell td" style="left:503px;top:389.50px;width:688px;height:70.50px;line-height:70.50px">社会学院</div><div class="cell td num" style="left:1191px;top:389.50px;width:383px;height:70.50px;line-height:70.50px">3001</div>
<div class="cell td num" style="left:0px;top:460.00px;width:162px;height:70.50px;line-height:70.50px">5</div><div class="cell td" style="left:162px;top:460.00px;width:341px;height:70.50px;line-height:70.50px">田一卓</div><div class="cell td" style="left:503px;top:460.00px;width:688px;height:70.50px;line-height:70.50px">中欧工程技术学院</div><div class="cell td num" style="left:1191px;top:460.00px;width:383px;height:70.50px;line-height:70.50px">2955</div>
<div class="cell td num" style="left:0px;top:530.50px;width:162px;height:70.50px;line-height:70.50px">6</div><div class="cell td" style="left:162px;top:530.50px;width:341px;height:70.50px;line-height:70.50px">郑贺允</div><div class="cell td" style="left:503px;top:530.50px;width:688px;height:70.50px;line-height:70.50px">经济学院</div><div class="cell td num" style="left:1191px;top:530.50px;width:383px;height:70.50px;line-height:70.50px">2902</div>
<div class="cell td num" style="left:0px;top:601.00px;width:162px;height:70.50px;line-height:70.50px">7</div><div class="cell td" style="left:162px;top:601.00px;width:341px;height:70.50px;line-height:70.50px">刘甜</div><div class="cell td" style="left:503px;top:601.00px;width:688px;height:70.50px;line-height:70.50px">经济学院</div><div class="cell td num" style="left:1191px;top:601.00px;width:383px;height:70.50px;line-height:70.50px">2887</div>
<div class="cell td num" style="left:0px;top:671.50px;width:162px;height:70.50px;line-height:70.50px">8</div><div class="cell td" style="left:162px;top:671.50px;width:341px;height:70.50px;line-height:70.50px">徐雷</div><div class="cell td" style="left:503px;top:671.50px;width:688px;height:70.50px;line-height:70.50px">通信与信息工程学院</div><div class="cell td num" style="left:1191px;top:671.50px;width:383px;height:70.50px;line-height:70.50px">2857</div>
<div class="cell td num" style="left:0px;top:742.00px;width:162px;height:70.50px;line-height:70.50px">9</div><div class="cell td" style="left:162px;top:742.00px;width:341px;height:70.50px;line-height:70.50px">万子珺</div><div class="cell td" style="left:503px;top:742.00px;width:688px;height:70.50px;line-height:70.50px">钱伟长学院</div><div class="cell td num" style="left:1191px;top:742.00px;width:383px;height:70.50px;line-height:70.50px">2703</div>
<div class="cell td num" style="left:0px;top:812.50px;width:162px;height:70.50px;line-height:70.50px">10</div><div class="cell td" style="left:162px;top:812.50px;width:341px;height:70.50px;line-height:70.50px">闫垒</div><div class="cell td" style="left:503px;top:812.50px;width:688px;height:70.50px;line-height:70.50px">理学院</div><div class="cell td num" style="left:1191px;top:812.50px;width:383px;height:70.50px;line-height:70.50px">2701</div>
<i class="hl" style="top:106px"></i>
<i class="hl" style="top:177px"></i>
<i class="hl" style="top:247px"></i>
<i class="hl" style="top:318px"></i>
<i class="hl" style="top:389px"></i>
<i class="hl" style="top:459px"></i>
<i class="hl" style="top:529px"></i>
<i class="hl" style="top:600px"></i>
<i class="hl" style="top:671px"></i>
<i class="hl" style="top:741px"></i>
<i class="hl" style="top:811px"></i>
<i class="vl" style="left:161px;top:107px;height:776px"></i>
<i class="vl" style="left:502px;top:107px;height:776px"></i>
<i class="vl" style="left:1190px;top:107px;height:776px"></i>
<i class="ob"></i>
</div>
</div>
</body>
</html>
